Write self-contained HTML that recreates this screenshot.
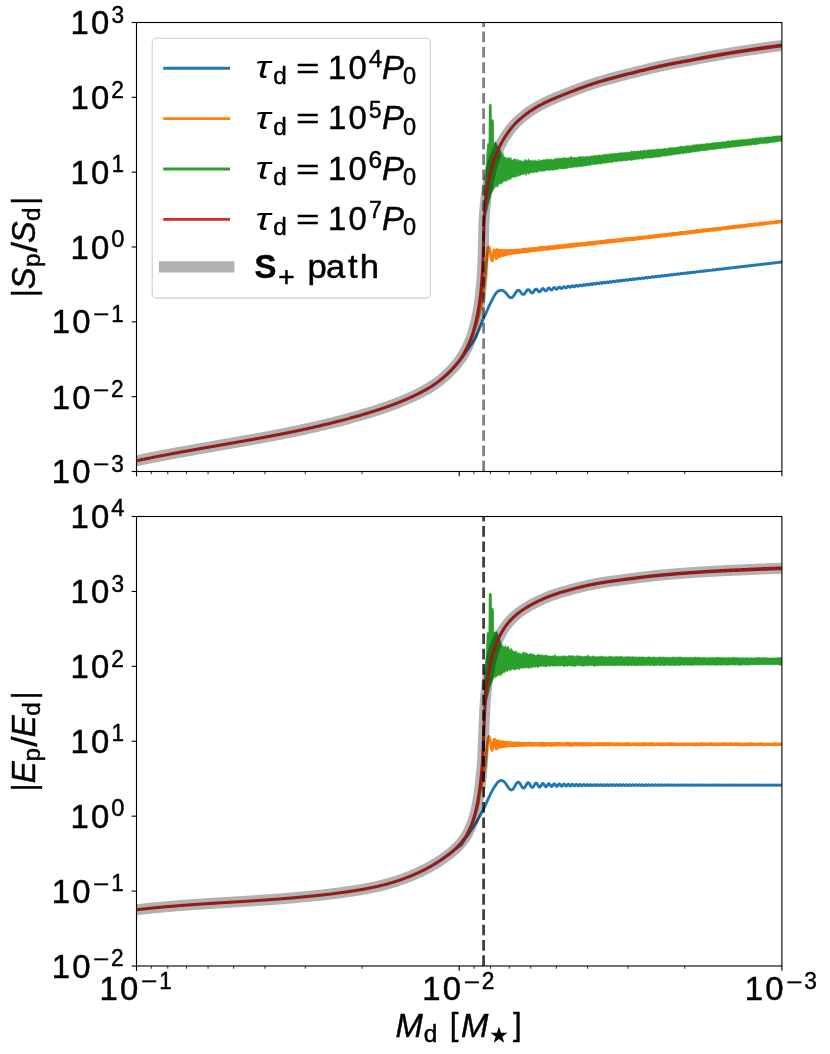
<!DOCTYPE html>
<html lang="en"><head><meta charset="utf-8"><title>Spin and energy ratios vs disk mass</title>
<style>html,body{margin:0;padding:0;background:#fff}svg{display:block;will-change:transform}text{white-space:pre;stroke:#000;stroke-width:.45px;stroke-linejoin:round}</style></head>
<body>
<svg width="830" height="1054" viewBox="0 0 830 1054" font-family="'Liberation Sans', sans-serif" fill="#000">
<defs><clipPath id="c1"><rect x="136.5" y="22.5" width="645.4" height="449.0"/></clipPath><clipPath id="c2"><rect x="136.5" y="516.5" width="645.4" height="449.5"/></clipPath></defs>
<rect width="830" height="1054" fill="#fff"/>
<g clip-path="url(#c1)" fill="none" stroke-linejoin="round">
<path d="M440.00 380.33 L441.10 379.45 L442.19 378.56 L443.27 377.65 L444.33 376.73 L445.38 375.80 L446.42 374.85 L447.45 373.89 L448.47 372.92 L449.47 371.93 L450.47 370.94 L451.45 369.93 L452.41 368.91 L453.36 367.87 L454.30 366.82 L455.22 365.76 L456.14 364.69 L457.06 363.62 L457.96 362.54 L458.86 361.46 L459.75 360.37 L460.62 359.26 L461.48 358.15 L462.33 357.02 L463.16 355.89 L463.98 354.75 L464.79 353.59 L465.59 352.44 L466.40 351.29 L467.22 350.14 L468.04 349.00 L468.85 347.85 L469.66 346.70 L470.45 345.54 L471.26 344.38 L472.06 343.21 L472.84 342.04 L473.58 340.85 L474.29 339.64 L474.95 338.40 L475.58 337.15 L476.19 335.87 L476.78 334.59 L477.36 333.31 L477.93 332.03 L478.49 330.73 L479.03 329.44 L479.56 328.13 L480.09 326.83 L480.62 325.52 L481.14 324.21 L481.67 322.91 L482.21 321.61 L482.76 320.32 L483.32 319.03 L483.88 317.73 L484.44 316.44 L485.01 315.16 L485.58 313.87 L486.15 312.58 L486.73 311.30 L487.31 310.02 L487.89 308.74 L488.48 307.46 L489.08 306.18 L489.68 304.91 L490.28 303.64 L490.88 302.37 L491.50 301.10 L492.13 299.84 L492.78 298.60 L493.45 297.35 L494.12 296.09 L494.83 294.85 L495.60 293.69 L496.49 292.64 L497.54 291.62 L498.71 290.83 L499.98 290.37 L501.40 290.35 L501.70 290.37 L502.00 290.42 L502.30 290.48 L502.60 290.57 L502.90 290.68 L503.20 290.81 L503.50 290.96 L503.80 291.14 L504.10 291.35 L504.40 291.58 L504.70 291.83 L505.00 292.10 L505.30 292.39 L505.60 292.71 L505.90 293.04 L506.20 293.38 L506.50 293.74 L506.80 294.10 L507.10 294.48 L507.40 294.85 L507.70 295.22 L508.00 295.58 L508.30 295.93 L508.60 296.26 L508.90 296.57 L509.20 296.86 L509.50 297.11 L509.80 297.33 L510.10 297.51 L510.40 297.65 L510.70 297.74 L511.00 297.77 L511.30 297.76 L511.60 297.69 L511.90 297.57 L512.20 297.40 L512.50 297.17 L512.80 296.89 L513.10 296.57 L513.40 296.20 L513.70 295.79 L514.00 295.35 L514.30 294.89 L514.60 294.40 L514.90 293.91 L515.20 293.42 L515.50 292.93 L515.80 292.46 L516.10 292.02 L516.40 291.61 L516.70 291.25 L517.00 290.93 L517.30 290.68 L517.60 290.48 L517.90 290.35 L518.20 290.30 L518.50 290.31 L518.80 290.39 L519.10 290.54 L519.40 290.75 L519.70 291.02 L520.00 291.34 L520.30 291.69 L520.60 292.06 L520.90 292.45 L521.20 292.84 L521.50 293.21 L521.80 293.55 L522.10 293.86 L522.40 294.11 L522.70 294.30 L523.00 294.42 L523.30 294.46 L523.60 294.42 L523.90 294.30 L524.20 294.09 L524.50 293.82 L524.80 293.47 L525.10 293.07 L525.40 292.63 L525.70 292.16 L526.00 291.69 L526.30 291.22 L526.60 290.79 L526.90 290.40 L527.20 290.06 L527.50 289.81 L527.80 289.64 L528.10 289.56 L528.40 289.58 L528.70 289.69 L529.00 289.89 L529.30 290.17 L529.60 290.51 L529.90 290.89 L530.20 291.30 L530.50 291.70 L530.80 292.09 L531.10 292.43 L531.40 292.70 L531.70 292.90 L532.00 292.99 L532.30 292.99 L532.60 292.88 L532.90 292.66 L533.20 292.36 L533.50 291.98 L533.80 291.54 L534.10 291.07 L534.40 290.60 L534.70 290.15 L535.00 289.75 L535.30 289.42 L535.60 289.19 L535.90 289.06 L536.20 289.04 L536.50 289.14 L536.80 289.34 L537.10 289.62 L537.40 289.98 L537.70 290.37 L538.00 290.77 L538.30 291.14 L538.60 291.47 L538.90 291.71 L539.20 291.85 L539.50 291.87 L539.80 291.77 L540.10 291.56 L540.40 291.24 L540.70 290.85 L541.00 290.41 L541.30 289.94 L541.60 289.50 L541.90 289.11 L542.20 288.80 L542.50 288.60 L542.80 288.53 L543.10 288.57 L543.40 288.74 L543.70 289.01 L544.00 289.35 L544.30 289.72 L544.60 290.10 L544.90 290.44 L545.20 290.71 L545.50 290.87 L545.80 290.91 L546.10 290.82 L546.40 290.60 L546.70 290.28 L547.00 289.88 L547.30 289.43 L547.60 289.00 L547.90 288.60 L548.20 288.29 L548.50 288.09 L548.80 288.01 L549.10 288.08 L549.40 288.26 L549.70 288.54 L550.00 288.89 L550.30 289.25 L550.60 289.59 L550.90 289.86 L551.20 290.02 L551.50 290.06 L551.80 289.96 L552.10 289.72 L552.40 289.39 L552.70 288.99 L553.00 288.56 L553.30 288.16 L553.60 287.83 L553.90 287.61 L554.20 287.53 L554.50 287.58 L554.80 287.76 L555.10 288.04 L555.40 288.38 L555.70 288.72 L556.00 289.01 L556.30 289.22 L556.60 289.31 L556.90 289.25 L557.20 289.06 L557.50 288.75 L557.80 288.37 L558.10 287.96 L558.40 287.58 L558.70 287.28 L559.00 287.10 L559.30 287.06 L559.60 287.16 L559.90 287.38 L560.20 287.68 L560.50 288.00 L560.80 288.30 L561.10 288.52 L561.40 288.62 L561.70 288.57 L562.00 288.39 L562.30 288.09 L562.60 287.72 L562.90 287.33 L563.20 286.99 L563.50 286.74 L563.80 286.62 L564.10 286.64 L564.40 286.80 L564.70 287.06 L565.00 287.36 L565.30 287.65 L565.60 287.88 L565.90 287.98 L566.20 287.95 L566.50 287.78 L566.80 287.49 L567.10 287.13 L567.40 286.76 L567.70 286.45 L568.00 286.25 L568.30 286.18 L568.60 286.25 L568.90 286.45 L569.20 286.72 L569.50 287.01 L569.80 287.25 L570.10 287.39 L570.40 287.39 L570.70 287.24 L571.00 286.98 L571.30 286.64 L571.60 286.29 L571.90 286.00 L572.20 285.81 L572.50 285.76 L572.80 285.86 L573.10 286.06 L573.40 286.33 L573.70 286.59 L574.00 286.78 L574.30 286.85 L574.60 286.78 L574.90 286.58 L575.20 286.28 L575.50 285.94 L575.80 285.64 L576.10 285.43 L576.40 285.35 L576.70 285.42 L577.00 285.61 L577.30 285.86 L577.60 286.10 L577.90 286.28 L578.20 286.34 L578.50 286.25 L578.80 286.03 L579.10 285.73 L579.40 285.42 L579.70 285.15 L580.00 284.99 L580.30 284.97 L580.60 285.09 L580.90 285.30 L581.20 285.54 L581.50 285.75 L581.80 285.85 L582.10 285.82 L582.40 285.64 L582.70 285.37 L583.00 285.05 L583.30 284.77 L583.60 284.59 L583.90 284.56 L584.20 284.66 L584.50 284.87 L584.80 285.12 L585.10 285.32 L585.40 285.42 L585.70 285.37 L586.00 285.17 L586.30 284.88 L586.60 284.56 L586.90 284.30 L587.20 284.16 L587.50 284.18 L587.80 284.34 L588.10 284.57 L588.40 284.81 L588.70 284.97 L589.00 284.99 L589.30 284.85 L589.60 284.58 L589.90 284.26 L590.20 283.97 L590.50 283.79 L590.80 283.77 L591.10 283.90 L591.40 284.14 L591.70 284.39 L592.00 284.56 L592.30 284.59 L592.60 284.46 L592.90 284.19 L593.20 283.86 L593.50 283.57 L593.80 283.41 L594.10 283.41 L594.40 283.56 L594.70 283.80 L595.00 284.04 L595.30 284.19 L595.60 284.18 L595.90 284.01 L596.20 283.73 L596.50 283.41 L596.80 283.15 L597.10 283.02 L597.40 283.06 L597.70 283.23 L598.00 283.48 L598.30 283.70 L598.60 283.81 L598.90 283.76 L599.20 283.56 L599.50 283.26 L599.80 282.96 L600.10 282.73 L600.40 282.64 L600.70 282.71 L601.00 282.91 L601.30 283.15 L601.60 283.35 L601.90 283.42 L602.20 283.33 L602.50 283.11 L602.80 282.80 L603.10 282.51 L603.40 282.32 L603.70 282.27 L604.00 282.38 L604.30 282.59 L604.60 282.82 L604.90 282.99 L605.20 283.02 L605.50 282.90 L605.80 282.65 L606.10 282.35 L606.40 282.08 L606.70 281.92 L607.00 281.91 L607.30 282.05 L607.60 282.27 L607.90 282.49 L608.20 282.62 L608.50 282.62 L608.80 282.46 L609.10 282.19 L609.40 281.89 L609.70 281.65 L610.00 281.53 L610.30 281.56 L610.60 281.72 L610.90 281.94 L611.20 282.14 L611.50 282.24 L611.80 282.20 L612.10 282.01 L612.40 281.74 L612.70 281.45 L613.00 281.23 L613.30 281.15 L613.60 281.21 L613.90 281.39 L614.20 281.61 L614.50 281.79 L614.80 281.86 L615.10 281.77 L615.40 281.56 L615.70 281.28 L616.00 281.01 L616.30 280.82 L616.60 280.78 L616.90 280.87 L617.20 281.06 L617.50 281.28 L617.80 281.43 L618.10 281.46 L618.40 281.34 L618.70 281.11 L619.00 280.83 L619.30 280.58 L619.60 280.43 L619.90 280.42 L620.20 280.54 L620.50 280.74 L620.80 280.94 L621.10 281.06 L621.40 281.06 L621.70 280.91 L622.00 280.66 L622.30 280.39 L622.60 280.16 L622.90 280.04 L623.20 280.07 L623.50 280.21 L623.80 280.41 L624.10 280.60 L624.40 280.69 L624.70 280.65 L625.00 280.48 L625.30 280.22 L625.60 279.95 L625.90 279.75 L626.20 279.67 L626.50 279.73 L626.80 279.89 L627.10 280.09 L627.40 280.25 L627.70 280.31 L628.00 280.24 L628.30 280.04 L628.60 279.78 L628.90 279.52 L629.20 279.35 L629.50 279.30 L629.80 279.39 L630.10 279.56 L630.40 279.76 L630.70 279.90 L631.00 279.92 L631.30 279.82 L631.60 279.60 L631.90 279.34 L632.20 279.10 L632.50 278.96 L632.80 278.95 L633.10 279.06 L633.40 279.24 L633.70 279.42 L634.00 279.53 L634.30 279.53 L634.60 279.39 L634.90 279.16 L635.20 278.90 L635.50 278.69 L635.80 278.58 L636.10 278.60 L636.40 278.73 L636.70 278.91 L637.00 279.08 L637.30 279.16 L637.60 279.12 L637.90 278.96 L638.20 278.72 L638.50 278.47 L638.80 278.28 L639.10 278.20 L639.40 278.25 L639.70 278.40 L640.00 278.58 L640.30 278.73 L640.60 278.78 L640.90 278.71 L641.20 278.53 L641.50 278.28 L641.80 278.05 L642.10 277.88 L642.40 277.84 L642.70 277.91 L643.00 278.07 L643.30 278.24 L643.60 278.37 L643.90 278.39 L644.20 278.29 L644.50 278.09 L644.80 277.85 L645.10 277.63 L645.40 277.49 L645.70 277.48 L646.00 277.57 L646.30 277.74 L646.60 277.90 L646.90 278.01 L647.20 278.00 L647.50 277.87 L647.80 277.66 L648.10 277.42 L648.40 277.22 L648.70 277.11 L649.00 277.12 L649.30 277.24 L649.60 277.41 L649.90 277.56 L650.20 277.63 L650.50 277.60 L650.80 277.45 L651.10 277.22 L651.40 276.99 L651.70 276.81 L652.00 276.73 L652.30 276.77 L652.60 276.91 L652.90 277.07 L653.20 277.21 L653.50 277.25 L653.80 277.19 L654.10 277.02 L654.40 276.79 L654.70 276.57 L655.00 276.41 L655.30 276.37 L655.60 276.43 L655.90 276.57 L656.20 276.73 L656.50 276.85 L656.80 276.87 L657.10 276.77 L657.40 276.59 L657.70 276.36 L658.00 276.15 L658.30 276.02 L658.60 276.00 L658.90 276.09 L659.20 276.24 L659.50 276.39 L659.80 276.48 L660.10 276.47 L660.40 276.36 L660.70 276.16 L661.00 275.93 L661.30 275.74 L661.60 275.64 L661.90 275.65 L662.20 275.75 L662.50 275.90 L662.80 276.04 L663.10 276.11 L663.40 276.07 L663.70 275.93 L664.00 275.72 L664.30 275.51 L664.60 275.34 L664.90 275.26 L665.20 275.30 L665.50 275.41 L665.80 275.56 L666.10 275.69 L666.40 275.73 L666.70 275.67 L667.00 275.51 L667.30 275.29 L667.60 275.09 L667.90 274.94 L668.20 274.89 L668.50 274.95 L668.80 275.08 L669.10 275.22 L669.40 275.33 L669.70 275.34 L670.00 275.25 L670.30 275.08 L670.60 274.87 L670.90 274.67 L671.20 274.55 L671.50 274.53 L671.80 274.60 L672.10 274.74 L672.40 274.88 L672.70 274.96 L673.00 274.95 L673.30 274.84 L673.60 274.65 L673.90 274.44 L674.20 274.26 L674.50 274.17 L674.80 274.17 L675.10 274.26 L675.40 274.40 L675.70 274.53 L676.00 274.59 L676.30 274.55 L676.60 274.42 L676.90 274.23 L677.20 274.02 L677.50 273.86 L677.80 273.79 L678.10 273.82 L678.40 273.92 L678.70 274.06 L679.00 274.17 L679.30 274.21 L679.60 274.15 L679.90 274.00 L680.20 273.80 L680.50 273.60 L680.80 273.47 L681.10 273.42 L681.40 273.47 L681.70 273.58 L682.00 273.71 L682.30 273.81 L682.60 273.82 L682.90 273.74 L683.20 273.58 L683.50 273.38 L683.80 273.19 L684.10 273.08 L684.40 273.05 L684.70 273.12 L685.00 273.24 L685.30 273.36 L685.60 273.44 L685.90 273.43 L686.20 273.32 L686.50 273.15 L686.80 272.95 L687.10 272.79 L687.40 272.69 L687.70 272.69 L688.00 272.77 L688.30 272.90 L688.60 273.01 L688.90 273.07 L689.20 273.03 L689.50 272.91 L689.80 272.73 L690.10 272.54 L690.40 272.39 L690.70 272.32 L691.00 272.34 L691.30 272.43 L691.60 272.55 L691.90 272.65 L692.20 272.69 L692.50 272.63 L692.80 272.49 L693.10 272.30 L693.40 272.12 L693.70 271.99 L694.00 271.94 L694.30 271.98 L694.60 272.09 L694.90 272.20 L695.20 272.29 L695.50 272.30 L695.80 272.22 L696.10 272.07 L696.40 271.88 L696.70 271.71 L697.00 271.60 L697.30 271.58 L697.60 271.63 L697.90 271.74 L698.20 271.85 L698.50 271.92 L698.80 271.91 L699.10 271.81 L699.40 271.65 L699.70 271.46 L700.00 271.31 L700.30 271.22 L700.60 271.21 L700.90 271.28 L701.20 271.40 L701.50 271.50 L701.80 271.55 L702.10 271.51 L702.40 271.40 L702.70 271.23 L703.00 271.05 L703.30 270.91 L703.60 270.84 L703.90 270.85 L704.20 270.94 L704.50 271.05 L704.80 271.14 L705.10 271.17 L705.40 271.11 L705.70 270.98 L706.00 270.81 L706.30 270.64 L706.60 270.51 L706.90 270.47 L707.20 270.50 L707.50 270.59 L707.80 270.70 L708.10 270.77 L708.40 270.78 L708.70 270.71 L709.00 270.57 L709.30 270.39 L709.60 270.23 L709.90 270.12 L710.20 270.10 L710.50 270.15 L710.80 270.24 L711.10 270.34 L711.40 270.40 L711.70 270.39 L712.00 270.30 L712.30 270.15 L712.60 269.97 L712.90 269.83 L713.20 269.74 L713.50 269.73 L713.80 269.79 L714.10 269.89 L714.40 269.99 L714.70 270.03 L715.00 270.00 L715.30 269.89 L715.60 269.73 L715.90 269.56 L716.20 269.43 L716.50 269.36 L716.80 269.37 L717.10 269.44 L717.40 269.54 L717.70 269.62 L718.00 269.65 L718.30 269.60 L718.60 269.48 L718.90 269.31 L719.20 269.15 L719.50 269.03 L719.80 268.99 L720.10 269.01 L720.40 269.09 L720.70 269.19 L721.00 269.26 L721.30 269.26 L721.60 269.19 L721.90 269.06 L722.20 268.90 L722.50 268.74 L722.80 268.64 L723.10 268.62 L723.40 268.66 L723.70 268.74 L724.00 268.84 L724.30 268.89 L724.60 268.87 L724.90 268.79 L725.20 268.65 L725.50 268.48 L725.80 268.34 L726.10 268.26 L726.40 268.25 L726.70 268.30 L727.00 268.39 L727.30 268.48 L727.60 268.51 L727.90 268.48 L728.20 268.38 L728.50 268.23 L728.80 268.07 L729.10 267.95 L729.40 267.88 L729.70 267.89 L730.00 267.95 L730.30 268.04 L730.60 268.11 L730.90 268.13 L731.20 268.08 L731.50 267.97 L731.80 267.82 L732.10 267.66 L732.40 267.55 L732.70 267.51 L733.00 267.53 L733.30 267.60 L733.60 267.69 L733.90 267.75 L734.20 267.75 L734.50 267.68 L734.80 267.56 L735.10 267.40 L735.40 267.26 L735.70 267.16 L736.00 267.13 L736.30 267.17 L736.60 267.25 L736.90 267.33 L737.20 267.37 L737.50 267.36 L737.80 267.28 L738.10 267.14 L738.40 266.99 L738.70 266.86 L739.00 266.78 L739.30 266.77 L739.60 266.81 L739.90 266.89 L740.20 266.97 L740.50 267.00 L740.80 266.97 L741.10 266.87 L741.40 266.73 L741.70 266.58 L742.00 266.46 L742.30 266.40 L742.60 266.40 L742.90 266.46 L743.20 266.54 L743.50 266.60 L743.80 266.62 L744.10 266.57 L744.40 266.46 L744.70 266.32 L745.00 266.18 L745.30 266.07 L745.60 266.02 L745.90 266.04 L746.20 266.10 L746.50 266.18 L746.80 266.23 L747.10 266.23 L747.40 266.17 L747.70 266.05 L748.00 265.91 L748.30 265.77 L748.60 265.68 L748.90 265.65 L749.20 265.68 L749.50 265.75 L749.80 265.82 L750.10 265.86 L750.40 265.85 L750.70 265.77 L751.00 265.64 L751.30 265.50 L751.60 265.37 L751.90 265.30 L752.20 265.28 L752.50 265.32 L752.80 265.39 L753.10 265.46 L753.40 265.49 L753.70 265.45 L754.00 265.36 L754.30 265.23 L754.60 265.09 L754.90 264.98 L755.20 264.92 L755.50 264.92 L755.80 264.96 L756.10 265.04 L756.40 265.09 L756.70 265.11 L757.00 265.06 L757.30 264.96 L757.60 264.82 L757.90 264.69 L758.20 264.59 L758.50 264.54 L758.80 264.55 L759.10 264.61 L759.40 264.68 L759.70 264.72 L760.00 264.72 L760.30 264.66 L760.60 264.55 L760.90 264.41 L761.20 264.29 L761.50 264.20 L761.80 264.17 L762.10 264.19 L762.40 264.25 L762.70 264.31 L763.00 264.35 L763.30 264.33 L763.60 264.26 L763.90 264.14 L764.20 264.01 L764.50 263.89 L764.80 263.81 L765.10 263.80 L765.40 263.83 L765.70 263.89 L766.00 263.95 L766.30 263.97 L766.60 263.94 L766.90 263.86 L767.20 263.73 L767.50 263.60 L767.80 263.49 L768.10 263.43 L768.40 263.43 L768.70 263.47 L769.00 263.53 L769.30 263.58 L769.60 263.59 L769.90 263.55 L770.20 263.45 L770.50 263.33 L770.80 263.20 L771.10 263.10 L771.40 263.06 L771.70 263.06 L772.00 263.11 L772.30 263.17 L772.60 263.21 L772.90 263.21 L773.20 263.15 L773.50 263.05 L773.80 262.92 L774.10 262.80 L774.40 262.71 L774.70 262.68 L775.00 262.70 L775.30 262.75 L775.60 262.81 L775.90 262.84 L776.20 262.82 L776.50 262.75 L776.80 262.64 L777.10 262.51 L777.40 262.40 L777.70 262.33 L778.00 262.31 L778.30 262.34 L778.60 262.39 L778.90 262.44 L779.20 262.46 L779.50 262.43 L779.80 262.35 L780.10 262.23 L780.40 262.11 L780.70 262.01 L781.00 261.95 L781.30 261.94 L781.60 261.98 L781.90 262.03" stroke="#1f77b4" stroke-width="2.85"/>
<path d="M464.00 353.52 L465.21 351.28 L466.38 349.02 L467.52 346.74 L468.62 344.45 L469.69 342.14 L470.74 339.82 L471.77 337.49 L472.75 335.14 L473.62 332.75 L474.43 330.34 L475.21 327.91 L475.96 325.48 L476.69 323.04 L477.40 320.59 L478.08 318.14 L478.73 315.68 L479.34 313.21 L479.92 310.73 L480.46 308.24 L480.95 305.74 L481.40 303.24 L481.81 300.73 L482.20 298.21 L482.56 295.69 L482.92 293.17 L483.27 290.65 L483.61 288.13 L483.94 285.60 L484.27 283.08 L484.58 280.55 L484.88 278.02 L485.17 275.49 L485.44 272.96 L485.69 270.43 L485.93 267.90 L486.17 265.36 L486.42 262.83 L486.67 260.30 L486.92 257.76 L487.15 255.21 L487.41 252.68 L487.77 250.17 L488.42 247.20 L489.16 247.14 L489.83 250.16 L490.27 252.68 L490.61 255.21 L491.05 257.73 L491.76 260.74 L492.38 260.74 L492.87 257.68 L493.20 255.14 L493.50 252.61 L494.17 249.85 L494.94 250.58 L495.41 253.35 L495.71 255.89 L496.30 258.65 L497.00 257.20" stroke="#ff7f0e" stroke-width="2.85"/>
<path d="M497.00 249.70 L498.00 250.05 L499.00 250.33 L500.00 250.30 L501.00 250.64 L502.00 250.30 L503.00 250.49 L504.00 250.79 L505.00 250.80 L506.00 250.47 L507.00 250.76 L508.00 250.65 L509.00 250.42 L510.00 250.75 L511.00 250.49 L512.00 250.47 L513.00 250.60 L514.00 250.35 L515.00 250.36 L516.00 250.20 L517.00 250.29 L518.00 250.14 L519.00 250.07 L520.00 250.03 L521.00 249.84 L522.00 249.78 L523.00 249.43 L524.00 249.48 L525.00 249.21 L526.00 248.90 L527.00 249.19 L528.00 249.27 L529.00 248.83 L530.00 249.04 L531.00 248.67 L532.00 248.53 L533.00 248.70 L534.00 248.56 L535.00 248.36 L536.00 248.40 L537.00 248.27 L538.00 248.14 L539.00 247.80 L540.00 247.88 L541.00 247.06 L542.00 247.77 L543.00 247.44 L544.00 247.17 L545.00 247.32 L546.00 247.36 L547.00 247.16 L548.00 246.90 L549.00 246.49 L550.00 246.91 L551.00 246.84 L552.00 246.67 L553.00 246.69 L554.00 246.57 L555.00 246.39 L556.00 246.28 L557.00 246.02 L558.00 245.69 L559.00 245.87 L560.00 245.70 L561.00 245.86 L562.00 245.67 L563.00 245.55 L564.00 245.39 L565.00 245.15 L566.00 245.19 L567.00 245.14 L568.00 244.74 L569.00 244.76 L570.00 244.57 L571.00 244.54 L572.00 244.56 L573.00 244.32 L574.00 244.07 L575.00 244.36 L576.00 243.76 L577.00 243.95 L578.00 243.79 L579.00 244.01 L580.00 243.69 L581.00 243.50 L582.00 243.58 L583.00 243.59 L584.00 243.37 L585.00 243.31 L586.00 243.17 L587.00 242.91 L588.00 242.88 L589.00 242.41 L590.00 242.77 L591.00 242.68 L592.00 242.51 L593.00 242.45 L594.00 242.38 L595.00 242.13 L596.00 241.96 L597.00 242.10 L598.00 241.91 L599.00 241.59 L600.00 241.56 L601.00 241.29 L602.00 241.32 L603.00 241.29 L604.00 241.19 L605.00 241.16 L606.00 240.80 L607.00 240.76 L608.00 240.34 L609.00 240.76 L610.00 240.38 L611.00 240.21 L612.00 240.36 L613.00 240.10 L614.00 240.24 L615.00 240.04 L616.00 240.09 L617.00 239.69 L618.00 239.68 L619.00 239.63 L620.00 239.55 L621.00 239.28 L622.00 239.03 L623.00 239.02 L624.00 239.11 L625.00 238.68 L626.00 238.86 L627.00 238.47 L628.00 238.65 L629.00 238.66 L630.00 238.35 L631.00 238.26 L632.00 238.23 L633.00 238.23 L634.00 238.14 L635.00 238.00 L636.00 237.81 L637.00 237.76 L638.00 237.41 L639.00 237.21 L640.00 237.23 L641.00 237.21 L642.00 237.28 L643.00 237.10 L644.00 236.85 L645.00 236.92 L646.00 236.83 L647.00 236.71 L648.00 236.50 L649.00 236.24 L650.00 236.24 L651.00 236.15 L652.00 236.18 L653.00 235.91 L654.00 235.93 L655.00 235.51 L656.00 235.75 L657.00 235.49 L658.00 235.36 L659.00 235.20 L660.00 235.23 L661.00 234.84 L662.00 234.71 L663.00 234.82 L664.00 234.84 L665.00 234.51 L666.00 234.50 L667.00 234.31 L668.00 234.26 L669.00 234.10 L670.00 233.67 L671.00 233.90 L672.00 233.72 L673.00 233.41 L674.00 233.46 L675.00 233.30 L676.00 233.20 L677.00 233.33 L678.00 233.04 L679.00 233.00 L680.00 232.71 L681.00 232.48 L682.00 232.44 L683.00 232.41 L684.00 232.37 L685.00 232.28 L686.00 232.15 L687.00 231.94 L688.00 231.73 L689.00 231.87 L690.00 231.59 L691.00 231.23 L692.00 231.47 L693.00 231.29 L694.00 231.11 L695.00 230.93 L696.00 230.94 L697.00 230.28 L698.00 230.73 L699.00 230.69 L700.00 230.43 L701.00 230.55 L702.00 230.38 L703.00 229.69 L704.00 230.07 L705.00 229.92 L706.00 229.75 L707.00 229.77 L708.00 229.54 L709.00 229.52 L710.00 229.42 L711.00 229.23 L712.00 229.27 L713.00 228.59 L714.00 228.85 L715.00 228.66 L716.00 228.75 L717.00 228.36 L718.00 228.38 L719.00 228.45 L720.00 228.26 L721.00 228.16 L722.00 227.90 L723.00 227.78 L724.00 227.63 L725.00 227.77 L726.00 227.47 L727.00 227.53 L728.00 226.96 L729.00 227.19 L730.00 226.85 L731.00 226.84 L732.00 226.46 L733.00 226.52 L734.00 226.42 L735.00 226.12 L736.00 226.18 L737.00 226.36 L738.00 226.14 L739.00 226.12 L740.00 225.61 L741.00 225.90 L742.00 225.74 L743.00 225.65 L744.00 225.29 L745.00 225.41 L746.00 225.33 L747.00 224.71 L748.00 224.83 L749.00 224.69 L750.00 224.49 L751.00 224.67 L752.00 224.36 L753.00 224.45 L754.00 224.05 L755.00 223.86 L756.00 223.99 L757.00 223.99 L758.00 223.93 L759.00 223.51 L760.00 223.21 L761.00 223.05 L762.00 223.33 L763.00 223.32 L764.00 222.97 L765.00 222.76 L766.00 222.93 L767.00 222.86 L768.00 222.78 L769.00 222.66 L770.00 222.21 L771.00 221.98 L772.00 222.17 L773.00 222.05 L774.00 221.98 L775.00 221.81 L776.00 221.76 L777.00 221.41 L778.00 221.48 L779.00 221.38 L780.00 221.24 L781.00 221.15 L782.00 221.09 L782.00 221.88 L781.00 221.94 L780.00 221.90 L779.00 222.38 L778.00 222.11 L777.00 222.56 L776.00 222.52 L775.00 222.71 L774.00 222.82 L773.00 222.76 L772.00 223.17 L771.00 223.04 L770.00 223.22 L769.00 223.40 L768.00 223.54 L767.00 223.66 L766.00 223.53 L765.00 223.85 L764.00 224.13 L763.00 224.48 L762.00 224.26 L761.00 224.23 L760.00 224.43 L759.00 224.76 L758.00 224.83 L757.00 224.88 L756.00 224.83 L755.00 224.95 L754.00 225.09 L753.00 225.38 L752.00 225.65 L751.00 225.31 L750.00 225.61 L749.00 225.74 L748.00 225.68 L747.00 225.78 L746.00 226.41 L745.00 226.31 L744.00 226.49 L743.00 226.41 L742.00 226.64 L741.00 227.01 L740.00 226.81 L739.00 226.75 L738.00 227.25 L737.00 227.13 L736.00 227.18 L735.00 227.23 L734.00 227.51 L733.00 227.82 L732.00 227.58 L731.00 227.77 L730.00 228.10 L729.00 228.02 L728.00 228.55 L727.00 228.38 L726.00 228.35 L725.00 228.67 L724.00 228.57 L723.00 228.78 L722.00 228.85 L721.00 229.18 L720.00 229.67 L719.00 229.22 L718.00 229.27 L717.00 229.48 L716.00 229.81 L715.00 229.97 L714.00 229.89 L713.00 230.00 L712.00 230.47 L711.00 230.09 L710.00 230.24 L709.00 230.69 L708.00 230.54 L707.00 230.56 L706.00 230.76 L705.00 230.78 L704.00 231.35 L703.00 231.06 L702.00 231.23 L701.00 231.49 L700.00 231.70 L699.00 231.85 L698.00 231.90 L697.00 232.10 L696.00 232.03 L695.00 232.25 L694.00 232.39 L693.00 232.35 L692.00 232.73 L691.00 232.53 L690.00 232.76 L689.00 232.99 L688.00 232.83 L687.00 233.08 L686.00 233.26 L685.00 233.25 L684.00 233.40 L683.00 233.60 L682.00 233.58 L681.00 233.68 L680.00 233.78 L679.00 233.92 L678.00 234.37 L677.00 234.40 L676.00 234.30 L675.00 234.65 L674.00 234.54 L673.00 234.96 L672.00 235.14 L671.00 235.08 L670.00 235.15 L669.00 235.08 L668.00 235.20 L667.00 235.39 L666.00 235.91 L665.00 235.72 L664.00 235.74 L663.00 235.81 L662.00 236.15 L661.00 236.08 L660.00 236.49 L659.00 236.28 L658.00 236.57 L657.00 236.52 L656.00 236.78 L655.00 237.05 L654.00 236.88 L653.00 237.22 L652.00 237.18 L651.00 237.34 L650.00 237.49 L649.00 237.51 L648.00 237.57 L647.00 237.78 L646.00 237.79 L645.00 238.21 L644.00 238.06 L643.00 238.40 L642.00 238.26 L641.00 238.39 L640.00 238.87 L639.00 238.82 L638.00 238.95 L637.00 238.93 L636.00 239.26 L635.00 239.08 L634.00 239.53 L633.00 239.49 L632.00 239.58 L631.00 239.74 L630.00 239.77 L629.00 239.87 L628.00 239.88 L627.00 240.15 L626.00 240.29 L625.00 240.22 L624.00 240.32 L623.00 240.58 L622.00 240.83 L621.00 240.68 L620.00 240.74 L619.00 240.92 L618.00 241.16 L617.00 241.37 L616.00 241.28 L615.00 241.35 L614.00 241.86 L613.00 241.50 L612.00 241.71 L611.00 241.88 L610.00 242.03 L609.00 242.11 L608.00 242.19 L607.00 242.31 L606.00 242.60 L605.00 242.68 L604.00 242.59 L603.00 242.86 L602.00 242.80 L601.00 242.87 L600.00 243.03 L599.00 243.09 L598.00 243.21 L597.00 243.38 L596.00 243.75 L595.00 243.52 L594.00 243.87 L593.00 244.12 L592.00 244.29 L591.00 244.23 L590.00 244.17 L589.00 244.16 L588.00 244.37 L587.00 244.67 L586.00 244.74 L585.00 244.79 L584.00 245.17 L583.00 245.01 L582.00 245.09 L581.00 245.09 L580.00 245.46 L579.00 245.31 L578.00 245.45 L577.00 245.63 L576.00 245.88 L575.00 245.85 L574.00 246.20 L573.00 246.17 L572.00 246.50 L571.00 246.17 L570.00 246.41 L569.00 246.73 L568.00 246.54 L567.00 246.80 L566.00 246.90 L565.00 247.25 L564.00 247.15 L563.00 247.36 L562.00 247.26 L561.00 247.29 L560.00 247.51 L559.00 247.79 L558.00 247.69 L557.00 247.91 L556.00 248.16 L555.00 248.07 L554.00 248.26 L553.00 248.55 L552.00 248.31 L551.00 248.53 L550.00 248.59 L549.00 249.19 L548.00 248.75 L547.00 249.29 L546.00 249.10 L545.00 249.12 L544.00 249.30 L543.00 249.34 L542.00 249.78 L541.00 249.74 L540.00 249.84 L539.00 249.99 L538.00 249.92 L537.00 250.26 L536.00 250.26 L535.00 250.59 L534.00 250.48 L533.00 250.60 L532.00 250.55 L531.00 250.76 L530.00 250.82 L529.00 251.49 L528.00 251.51 L527.00 251.47 L526.00 251.31 L525.00 251.49 L524.00 251.59 L523.00 251.68 L522.00 251.91 L521.00 252.17 L520.00 252.34 L519.00 252.36 L518.00 252.55 L517.00 252.55 L516.00 252.66 L515.00 253.07 L514.00 252.95 L513.00 253.21 L512.00 253.31 L511.00 253.52 L510.00 253.71 L509.00 253.91 L508.00 254.14 L507.00 254.24 L506.00 254.65 L505.00 254.97 L504.00 254.98 L503.00 255.56 L502.00 255.71 L501.00 255.94 L500.00 256.30 L499.00 256.43 L498.00 256.91 L497.00 257.25Z" fill="#ff7f0e" stroke="#ff7f0e" stroke-width="2.85"/>
<path d="M485.20 218.00 L484.60 208.00 L484.30 200.00 L485.70 171.00 L487.40 143.70 L493.90 143.50 L495.40 141.40 L497.00 144.50 L499.00 149.50 L500.50 150.02 L501.30 153.87 L502.10 155.45 L502.90 152.51 L503.70 156.37 L504.50 156.76 L505.30 157.80 L506.10 157.20 L506.90 158.73 L507.70 158.27 L508.50 157.04 L509.30 158.15 L510.10 158.44 L510.90 157.23 L511.70 160.40 L512.50 159.98 L513.30 159.90 L514.10 158.35 L514.90 159.42 L515.70 159.34 L516.50 159.31 L517.30 160.98 L518.10 159.05 L518.90 161.09 L519.70 159.95 L520.50 160.50 L521.30 160.69 L522.10 161.42 L522.90 160.58 L523.70 161.38 L524.50 160.67 L525.30 158.98 L526.10 160.01 L526.90 160.86 L527.70 160.63 L528.50 158.51 L529.30 160.48 L530.10 160.36 L530.90 160.24 L531.70 161.49 L532.50 159.64 L533.30 160.84 L534.10 161.19 L534.90 159.53 L535.70 160.89 L536.50 160.89 L537.30 160.56 L538.10 161.49 L538.90 158.97 L539.70 161.13 L540.50 160.26 L541.30 160.37 L542.10 160.02 L542.90 159.94 L543.70 159.47 L544.50 159.78 L545.30 159.97 L546.10 158.86 L546.90 160.03 L547.70 158.66 L548.50 159.43 L549.30 159.07 L550.10 160.06 L550.90 158.48 L551.70 159.41 L552.50 159.78 L553.30 159.66 L554.10 158.73 L554.90 159.18 L555.70 157.75 L556.50 158.45 L557.30 158.46 L558.10 159.00 L558.90 157.54 L559.70 158.54 L560.50 158.31 L561.30 158.26 L562.10 158.51 L562.90 157.52 L563.70 157.47 L564.50 157.43 L565.30 158.25 L566.10 157.90 L566.90 157.67 L567.70 158.14 L568.50 157.32 L569.30 158.12 L570.10 157.43 L570.90 155.90 L571.70 157.27 L572.50 157.49 L573.30 157.49 L574.10 157.13 L574.90 157.49 L575.70 157.30 L576.50 157.57 L577.30 157.13 L578.10 156.96 L578.90 157.27 L579.70 155.99 L580.50 156.78 L581.30 156.46 L582.10 157.18 L582.90 156.81 L583.70 156.32 L584.50 156.94 L585.30 156.63 L586.10 156.43 L586.90 156.41 L587.70 156.54 L588.50 156.33 L589.30 156.45 L590.10 156.23 L590.90 155.96 L591.70 155.89 L592.50 155.93 L593.30 155.63 L594.10 155.75 L594.90 155.47 L595.70 155.09 L596.50 155.39 L597.30 155.44 L598.10 155.17 L598.90 154.54 L599.70 155.29 L600.50 155.16 L601.30 155.18 L602.10 154.99 L602.90 154.70 L603.70 154.56 L604.50 154.77 L605.30 153.77 L606.10 154.25 L606.90 154.32 L607.70 154.21 L608.50 154.17 L609.30 154.09 L610.10 153.80 L610.90 153.88 L611.70 153.22 L612.50 153.52 L613.30 153.84 L614.10 153.73 L614.90 153.09 L615.70 153.27 L616.50 153.17 L617.30 153.24 L618.10 153.28 L618.90 152.87 L619.70 152.95 L620.50 152.68 L621.30 152.50 L622.10 152.35 L622.90 152.81 L623.70 152.75 L624.50 152.47 L625.30 152.25 L626.10 152.48 L626.90 152.35 L627.70 151.88 L628.50 151.89 L629.30 152.13 L630.10 151.97 L630.90 151.42 L631.70 150.73 L632.50 151.82 L633.30 151.11 L634.10 151.07 L634.90 151.14 L635.70 151.38 L636.50 151.08 L637.30 151.10 L638.10 151.13 L638.90 151.00 L639.70 151.11 L640.50 150.39 L641.30 150.49 L642.10 150.88 L642.90 150.43 L643.70 150.53 L644.50 149.99 L645.30 150.36 L646.10 150.36 L646.90 150.45 L647.70 149.58 L648.50 149.96 L649.30 149.86 L650.10 150.10 L650.90 149.87 L651.70 149.83 L652.50 149.74 L653.30 149.27 L654.10 149.78 L654.90 149.65 L655.70 149.49 L656.50 149.28 L657.30 148.71 L658.10 148.95 L658.90 149.32 L659.70 149.06 L660.50 149.06 L661.30 149.05 L662.10 149.01 L662.90 148.74 L663.70 148.54 L664.50 148.22 L665.30 148.22 L666.10 148.54 L666.90 148.34 L667.70 148.25 L668.50 148.09 L669.30 147.48 L670.10 147.95 L670.90 147.26 L671.70 147.81 L672.50 147.76 L673.30 147.34 L674.10 147.66 L674.90 147.43 L675.70 147.39 L676.50 147.21 L677.30 147.23 L678.10 146.95 L678.90 146.48 L679.70 146.95 L680.50 146.26 L681.30 145.80 L682.10 146.72 L682.90 146.42 L683.70 146.43 L684.50 146.03 L685.30 146.11 L686.10 146.16 L686.90 146.01 L687.70 145.01 L688.50 145.89 L689.30 145.78 L690.10 145.64 L690.90 145.66 L691.70 145.14 L692.50 145.46 L693.30 144.52 L694.10 144.95 L694.90 145.02 L695.70 144.75 L696.50 144.37 L697.30 144.76 L698.10 144.12 L698.90 144.40 L699.70 144.64 L700.50 143.98 L701.30 143.65 L702.10 144.22 L702.90 144.24 L703.70 143.91 L704.50 144.10 L705.30 143.83 L706.10 143.73 L706.90 142.88 L707.70 143.56 L708.50 143.68 L709.30 143.12 L710.10 143.43 L710.90 143.10 L711.70 143.20 L712.50 142.64 L713.30 142.63 L714.10 142.78 L714.90 142.92 L715.70 142.45 L716.50 142.39 L717.30 142.37 L718.10 142.01 L718.90 142.32 L719.70 142.17 L720.50 142.30 L721.30 141.91 L722.10 141.47 L722.90 142.03 L723.70 141.74 L724.50 141.78 L725.30 141.77 L726.10 141.48 L726.90 141.31 L727.70 140.86 L728.50 140.60 L729.30 141.27 L730.10 141.25 L730.90 141.06 L731.70 140.62 L732.50 140.31 L733.30 140.47 L734.10 140.60 L734.90 140.35 L735.70 140.24 L736.50 139.97 L737.30 140.34 L738.10 139.97 L738.90 139.76 L739.70 139.89 L740.50 139.76 L741.30 139.67 L742.10 139.74 L742.90 139.37 L743.70 139.48 L744.50 139.17 L745.30 139.60 L746.10 139.40 L746.90 139.21 L747.70 138.78 L748.50 139.19 L749.30 139.03 L750.10 138.81 L750.90 139.01 L751.70 138.89 L752.50 138.05 L753.30 138.67 L754.10 138.05 L754.90 138.60 L755.70 138.00 L756.50 137.73 L757.30 138.25 L758.10 137.97 L758.90 137.87 L759.70 137.64 L760.50 137.22 L761.30 137.83 L762.10 137.55 L762.90 137.76 L763.70 137.43 L764.50 137.29 L765.30 137.01 L766.10 137.36 L766.90 136.68 L767.70 137.10 L768.50 136.50 L769.30 137.06 L770.10 136.89 L770.90 136.83 L771.70 136.58 L772.50 136.79 L773.30 135.95 L774.10 136.36 L774.90 136.02 L775.70 136.04 L776.50 135.88 L777.30 136.23 L778.10 135.21 L778.90 136.08 L779.70 136.08 L780.50 135.67 L781.30 135.83 L782.10 135.84 L782.80 141.35 L782.00 141.32 L781.20 141.59 L780.40 141.33 L779.60 141.47 L778.80 141.55 L778.00 141.65 L777.20 141.99 L776.40 141.82 L775.60 142.21 L774.80 141.99 L774.00 142.57 L773.20 142.44 L772.40 142.43 L771.60 142.55 L770.80 142.69 L770.00 142.73 L769.20 142.80 L768.40 143.27 L767.60 143.24 L766.80 143.52 L766.00 143.10 L765.20 143.40 L764.40 143.31 L763.60 143.98 L762.80 143.34 L762.00 143.43 L761.20 143.79 L760.40 143.62 L759.60 143.76 L758.80 143.85 L758.00 144.26 L757.20 144.77 L756.40 144.31 L755.60 144.76 L754.80 144.96 L754.00 144.90 L753.20 144.49 L752.40 144.82 L751.60 144.67 L750.80 146.03 L750.00 145.11 L749.20 145.11 L748.40 145.15 L747.60 145.25 L746.80 145.83 L746.00 145.67 L745.20 145.41 L744.40 145.64 L743.60 145.84 L742.80 146.07 L742.00 145.97 L741.20 146.14 L740.40 146.40 L739.60 146.37 L738.80 146.55 L738.00 146.59 L737.20 146.63 L736.40 146.64 L735.60 147.35 L734.80 146.78 L734.00 147.08 L733.20 147.17 L732.40 147.00 L731.60 147.58 L730.80 147.38 L730.00 147.22 L729.20 147.90 L728.40 147.63 L727.60 147.56 L726.80 147.92 L726.00 148.20 L725.20 148.39 L724.40 148.09 L723.60 148.21 L722.80 148.42 L722.00 148.24 L721.20 148.41 L720.40 148.99 L719.60 148.72 L718.80 148.68 L718.00 148.93 L717.20 148.90 L716.40 149.01 L715.60 149.42 L714.80 149.43 L714.00 149.22 L713.20 149.42 L712.40 149.70 L711.60 149.67 L710.80 149.57 L710.00 149.82 L709.20 149.84 L708.40 149.95 L707.60 150.54 L706.80 150.54 L706.00 150.49 L705.20 150.41 L704.40 150.82 L703.60 150.78 L702.80 150.78 L702.00 150.68 L701.20 150.85 L700.40 151.11 L699.60 151.33 L698.80 151.14 L698.00 151.31 L697.20 151.65 L696.40 151.55 L695.60 152.12 L694.80 151.82 L694.00 151.75 L693.20 151.91 L692.40 152.52 L691.60 152.32 L690.80 152.31 L690.00 152.76 L689.20 152.93 L688.40 152.90 L687.60 152.84 L686.80 153.16 L686.00 153.15 L685.20 153.07 L684.40 153.10 L683.60 154.32 L682.80 153.78 L682.00 153.37 L681.20 153.61 L680.40 154.00 L679.60 153.89 L678.80 154.17 L678.00 154.30 L677.20 154.16 L676.40 154.17 L675.60 154.67 L674.80 154.53 L674.00 154.59 L673.20 155.02 L672.40 154.97 L671.60 155.09 L670.80 155.45 L670.00 155.44 L669.20 155.24 L668.40 155.60 L667.60 155.79 L666.80 156.05 L666.00 155.84 L665.20 156.15 L664.40 156.13 L663.60 156.08 L662.80 156.11 L662.00 156.45 L661.20 156.33 L660.40 157.20 L659.60 157.17 L658.80 156.92 L658.00 157.27 L657.20 157.11 L656.40 157.03 L655.60 157.04 L654.80 157.32 L654.00 157.87 L653.20 157.66 L652.40 157.74 L651.60 158.04 L650.80 157.94 L650.00 157.70 L649.20 158.24 L648.40 157.92 L647.60 158.10 L646.80 158.19 L646.00 158.20 L645.20 158.22 L644.40 158.48 L643.60 158.65 L642.80 159.26 L642.00 159.17 L641.20 158.80 L640.40 158.78 L639.60 159.13 L638.80 159.07 L638.00 159.37 L637.20 159.36 L636.40 159.41 L635.60 159.66 L634.80 159.52 L634.00 160.31 L633.20 159.59 L632.40 160.13 L631.60 160.41 L630.80 160.21 L630.00 160.23 L629.20 160.00 L628.40 160.19 L627.60 160.45 L626.80 161.02 L626.00 160.76 L625.20 160.61 L624.40 160.98 L623.60 160.67 L622.80 161.08 L622.00 161.11 L621.20 161.28 L620.40 161.05 L619.60 161.33 L618.80 161.25 L618.00 161.54 L617.20 161.64 L616.40 161.76 L615.60 161.66 L614.80 161.74 L614.00 161.78 L613.20 162.09 L612.40 162.60 L611.60 162.76 L610.80 162.40 L610.00 162.41 L609.20 162.35 L608.40 162.91 L607.60 162.88 L606.80 162.68 L606.00 163.39 L605.20 163.20 L604.40 163.36 L603.60 163.02 L602.80 163.71 L602.00 163.72 L601.20 163.72 L600.40 164.20 L599.60 163.68 L598.80 163.98 L598.00 164.01 L597.20 164.27 L596.40 164.41 L595.60 164.15 L594.80 164.85 L594.00 164.43 L593.20 164.70 L592.40 164.86 L591.60 164.86 L590.80 165.24 L590.00 165.36 L589.20 165.42 L588.40 165.55 L587.60 165.28 L586.80 165.67 L586.00 165.92 L585.20 166.32 L584.40 166.00 L583.60 166.34 L582.80 165.92 L582.00 166.45 L581.20 167.01 L580.40 166.48 L579.60 167.03 L578.80 166.68 L578.00 166.83 L577.20 166.81 L576.40 167.34 L575.60 167.01 L574.80 167.03 L574.00 167.48 L573.20 167.24 L572.40 167.32 L571.60 167.90 L570.80 167.43 L570.00 167.74 L569.20 167.75 L568.40 168.06 L567.60 168.47 L566.80 168.20 L566.00 168.94 L565.20 168.21 L564.40 169.12 L563.60 168.91 L562.80 168.89 L562.00 168.60 L561.20 169.38 L560.40 168.69 L559.60 168.71 L558.80 168.80 L558.00 169.53 L557.20 169.64 L556.40 169.63 L555.60 169.42 L554.80 170.21 L554.00 169.88 L553.20 169.88 L552.40 170.40 L551.60 170.02 L550.80 169.83 L550.00 170.92 L549.20 169.88 L548.40 170.73 L547.60 170.09 L546.80 170.40 L546.00 170.50 L545.20 170.65 L544.40 171.23 L543.60 171.04 L542.80 171.37 L542.00 171.32 L541.20 171.31 L540.40 171.23 L539.60 171.57 L538.80 171.59 L538.00 171.51 L537.20 172.75 L536.40 172.15 L535.60 171.87 L534.80 172.47 L534.00 172.89 L533.20 172.68 L532.40 172.32 L531.60 173.12 L530.80 172.60 L530.00 173.20 L529.20 174.42 L528.40 173.86 L527.60 173.23 L526.80 173.67 L526.00 175.63 L525.20 173.88 L524.40 173.86 L523.60 174.39 L522.80 174.68 L522.00 174.64 L521.20 174.81 L520.40 175.65 L519.60 175.96 L518.80 175.12 L518.00 176.91 L517.20 175.67 L516.40 176.56 L515.60 177.10 L514.80 177.19 L514.00 177.52 L513.20 176.92 L512.40 177.47 L511.60 177.94 L510.80 179.22 L510.00 179.74 L509.20 178.71 L508.40 180.22 L507.60 179.80 L506.80 181.34 L506.00 180.85 L505.20 181.17 L504.40 181.30 L503.60 181.74 L502.80 182.16 L502.00 183.31 L501.20 184.50 L500.40 183.28 L499.60 184.09 L498.80 184.80 L498.00 186.12 L497.20 187.59 L496.40 186.06 L495.60 186.46 L494.80 188.02 L493.00 190.50 L491.00 194.00 L488.20 205.00 L485.20 218.00Z" fill="#2ca02c" stroke="#2ca02c" stroke-width="0.50"/>
<path d="M487.40 146.00 L488.60 144.00 L488.90 106.00 L489.50 103.90 L491.00 103.90 L491.60 106.00 L491.80 119.20 L493.40 119.60 L493.90 123.00 L493.90 146.00Z" fill="#2ca02c" stroke="none"/>
<path d="M136.71 462.21 L137.67 462.07 L138.68 461.86 L139.63 461.66 L140.59 461.46 L141.54 461.26 L142.49 461.06 L143.45 460.86 L144.40 460.67 L145.36 460.47 L146.31 460.28 L147.27 460.08 L148.22 459.89 L149.17 459.70 L150.13 459.51 L151.08 459.32 L152.04 459.12 L152.99 458.93 L153.95 458.75 L154.90 458.56 L155.86 458.37 L156.81 458.18 L157.77 458.00 L158.72 457.81 L159.68 457.62 L160.63 457.44 L161.59 457.26 L162.54 457.07 L163.49 456.89 L164.45 456.71 L165.40 456.53 L166.36 456.34 L167.31 456.16 L168.27 455.98 L169.22 455.80 L170.18 455.62 L171.13 455.45 L172.09 455.27 L173.04 455.09 L174.00 454.91 L174.95 454.74 L175.91 454.56 L176.86 454.38 L177.82 454.21 L178.77 454.03 L179.73 453.86 L180.68 453.68 L181.64 453.51 L182.59 453.34 L183.55 453.16 L184.50 452.99 L185.46 452.82 L186.41 452.65 L187.37 452.48 L188.32 452.30 L189.28 452.13 L190.23 451.96 L191.19 451.79 L192.14 451.62 L193.10 451.45 L194.05 451.28 L195.00 451.11 L195.96 450.94 L196.91 450.78 L197.87 450.61 L198.82 450.44 L199.78 450.27 L200.73 450.10 L201.69 449.93 L202.64 449.77 L203.60 449.60 L204.55 449.43 L205.51 449.26 L206.46 449.10 L207.42 448.93 L208.37 448.76 L209.32 448.60 L210.28 448.43 L211.23 448.26 L212.19 448.10 L213.14 447.93 L214.10 447.76 L215.05 447.60 L216.01 447.43 L216.96 447.27 L217.91 447.10 L218.87 446.93 L219.82 446.77 L220.78 446.60 L221.73 446.44 L222.68 446.27 L223.64 446.10 L224.59 445.94 L225.55 445.77 L226.50 445.60 L227.45 445.44 L228.41 445.27 L229.36 445.10 L230.32 444.94 L231.27 444.77 L232.22 444.60 L233.18 444.44 L234.13 444.27 L235.08 444.10 L236.04 443.94 L236.99 443.77 L237.94 443.60 L238.90 443.43 L239.85 443.26 L240.80 443.09 L241.76 442.93 L242.71 442.76 L243.66 442.59 L244.62 442.42 L245.57 442.25 L246.52 442.08 L247.47 441.91 L248.43 441.74 L249.38 441.57 L250.33 441.40 L251.28 441.22 L252.24 441.05 L253.19 440.88 L254.14 440.71 L255.09 440.54 L256.05 440.36 L257.00 440.19 L257.95 440.01 L258.90 439.84 L259.86 439.67 L260.81 439.49 L261.76 439.31 L262.71 439.14 L263.66 438.96 L264.61 438.79 L265.57 438.61 L266.52 438.43 L267.47 438.25 L268.42 438.07 L269.37 437.89 L270.32 437.71 L271.27 437.53 L272.22 437.35 L273.18 437.17 L274.13 436.99 L275.08 436.81 L276.03 436.62 L276.98 436.44 L277.93 436.25 L278.88 436.07 L279.83 435.88 L280.78 435.70 L281.73 435.51 L282.68 435.32 L283.63 435.14 L284.58 434.95 L285.53 434.76 L286.48 434.57 L287.43 434.38 L288.38 434.19 L289.33 433.99 L290.28 433.80 L291.23 433.61 L292.18 433.41 L293.12 433.22 L294.07 433.02 L295.02 432.82 L295.97 432.63 L296.92 432.43 L297.87 432.23 L298.82 432.03 L299.77 431.83 L300.71 431.63 L301.66 431.43 L302.61 431.22 L303.56 431.02 L304.51 430.81 L305.45 430.61 L306.40 430.40 L307.35 430.19 L308.30 429.99 L309.24 429.78 L310.19 429.57 L311.14 429.36 L312.08 429.14 L313.03 428.93 L313.98 428.72 L314.92 428.50 L315.87 428.29 L316.82 428.07 L317.76 427.85 L318.71 427.63 L319.65 427.41 L320.60 427.19 L321.55 426.97 L322.49 426.75 L323.44 426.52 L324.38 426.30 L325.33 426.07 L326.27 425.84 L327.22 425.61 L328.16 425.38 L329.11 425.15 L330.05 424.92 L330.99 424.69 L331.94 424.46 L332.88 424.22 L333.83 423.99 L334.77 423.75 L335.71 423.52 L336.66 423.28 L337.60 423.04 L338.54 422.80 L339.49 422.56 L340.43 422.31 L341.37 422.07 L342.32 421.82 L343.26 421.58 L344.20 421.33 L345.14 421.08 L346.09 420.83 L347.03 420.57 L347.97 420.32 L348.91 420.07 L349.85 419.81 L350.79 419.55 L351.74 419.29 L352.68 419.03 L353.62 418.77 L354.56 418.51 L355.50 418.24 L356.44 417.98 L357.38 417.71 L358.32 417.44 L359.26 417.17 L360.20 416.90 L361.14 416.63 L362.08 416.35 L363.02 416.08 L363.96 415.80 L364.90 415.52 L365.84 415.24 L366.78 414.96 L367.71 414.68 L368.65 414.39 L369.59 414.11 L370.53 413.82 L371.47 413.53 L372.40 413.24 L373.34 412.94 L374.28 412.65 L375.22 412.35 L376.15 412.05 L377.09 411.75 L378.02 411.45 L378.96 411.15 L379.89 410.84 L380.83 410.53 L381.76 410.22 L382.69 409.91 L383.62 409.59 L384.55 409.28 L385.48 408.96 L386.41 408.63 L387.34 408.31 L388.26 407.98 L389.19 407.65 L390.11 407.32 L391.03 406.99 L391.95 406.65 L392.87 406.31 L393.79 405.97 L394.71 405.63 L395.63 405.28 L396.54 404.93 L397.45 404.58 L398.36 404.22 L399.27 403.87 L400.18 403.51 L401.09 403.14 L401.99 402.78 L402.89 402.41 L403.80 402.03 L404.69 401.66 L405.59 401.28 L406.49 400.90 L407.38 400.51 L408.27 400.12 L409.16 399.73 L410.04 399.34 L410.93 398.94 L411.81 398.53 L412.69 398.13 L413.56 397.72 L414.44 397.31 L415.31 396.89 L416.18 396.47 L417.04 396.05 L417.91 395.62 L418.77 395.19 L419.63 394.76 L420.48 394.32 L421.33 393.89 L422.18 393.45 L423.02 393.00 L423.87 392.55 L424.71 392.10 L425.55 391.64 L426.39 391.17 L427.22 390.70 L428.05 390.22 L428.88 389.73 L429.70 389.24 L430.52 388.74 L431.34 388.24 L432.15 387.73 L432.96 387.21 L433.77 386.68 L434.57 386.15 L435.37 385.60 L436.17 385.06 L436.96 384.50 L437.75 383.93 L438.53 383.36 L439.31 382.78 L440.09 382.19 L440.86 381.59 L441.63 380.98 L442.39 380.37 L443.15 379.75 L443.90 379.12 L444.65 378.48 L445.39 377.83 L446.13 377.18 L446.86 376.51 L447.59 375.84 L448.31 375.17 L449.02 374.48 L449.73 373.79 L450.43 373.09 L451.12 372.40 L451.79 371.73 L452.48 371.04 L453.15 370.34 L453.82 369.64 L454.48 368.93 L455.13 368.21 L455.78 367.48 L456.42 366.75 L457.05 366.01 L457.67 365.27 L458.28 364.52 L458.88 363.76 L459.48 363.00 L460.07 362.23 L460.64 361.45 L461.21 360.67 L461.77 359.88 L462.32 359.08 L462.86 358.28 L463.40 357.46 L463.92 356.63 L464.43 355.79 L464.93 354.95 L465.42 354.11 L465.90 353.26 L466.37 352.40 L466.83 351.54 L467.28 350.68 L467.73 349.82 L468.16 348.95 L468.59 348.07 L469.01 347.19 L469.42 346.31 L469.82 345.43 L470.21 344.54 L470.59 343.64 L470.97 342.75 L471.34 341.85 L471.70 340.95 L472.05 340.04 L472.40 339.14 L472.74 338.23 L473.07 337.31 L473.40 336.39 L473.72 335.42 L474.03 334.45 L474.33 333.48 L474.62 332.51 L474.91 331.54 L475.20 330.57 L475.47 329.60 L475.75 328.62 L476.01 327.65 L476.27 326.68 L476.52 325.70 L476.77 324.72 L477.01 323.75 L477.25 322.77 L477.48 321.79 L477.71 320.82 L477.93 319.84 L478.15 318.86 L478.36 317.88 L478.56 316.90 L478.76 315.92 L478.96 314.94 L479.15 313.96 L479.34 312.98 L479.52 312.00 L479.70 310.99 L479.88 309.98 L480.05 308.97 L480.21 307.97 L480.37 306.96 L480.53 305.96 L480.68 304.96 L480.83 303.95 L480.98 302.95 L481.12 301.94 L481.25 300.94 L481.39 299.94 L481.52 298.94 L481.64 297.94 L481.77 296.93 L481.89 295.93 L482.00 294.93 L482.11 293.93 L482.22 292.93 L482.33 291.93 L482.43 290.93 L482.53 289.93 L482.63 288.94 L482.73 287.94 L482.82 286.94 L482.91 285.94 L482.99 284.95 L483.08 283.95 L483.16 282.95 L483.24 281.96 L483.31 280.96 L483.39 279.97 L483.46 278.97 L483.53 277.98 L483.59 276.98 L483.66 275.99 L483.72 275.00 L483.78 274.00 L483.84 273.01 L483.90 272.02 L483.96 271.03 L484.01 270.04 L484.06 269.05 L484.12 268.06 L484.17 267.07 L484.21 266.08 L484.26 265.09 L484.31 264.10 L484.35 263.11 L484.40 262.12 L484.44 261.13 L484.48 260.15 L484.52 259.16 L484.56 258.18 L484.60 257.21 L484.64 256.23 L484.68 255.26 L484.72 254.28 L484.75 253.31 L484.79 252.33 L484.83 251.36 L484.86 250.38 L484.89 249.39 L484.90 248.41 L484.92 247.44 L484.94 246.47 L484.95 245.49 L484.97 244.52 L484.99 243.55 L485.00 242.58 L485.02 241.61 L485.04 240.64 L485.06 239.67 L485.08 238.70 L485.10 237.73 L485.12 236.76 L485.14 235.79 L485.16 234.83 L485.18 233.86 L485.21 232.89 L485.23 231.92 L485.26 230.96 L485.29 229.99 L485.31 229.03 L485.34 228.06 L485.38 227.10 L485.41 226.13 L485.44 225.17 L485.48 224.20 L485.52 223.24 L485.56 222.28 L485.60 221.32 L485.64 220.36 L485.69 219.41 L485.75 218.45 L485.81 217.49 L485.87 216.53 L485.93 215.57 L486.00 214.61 L486.07 213.65 L486.14 212.69 L486.21 211.74 L486.29 210.78 L486.36 209.82 L486.45 208.87 L486.53 207.91 L486.62 206.96 L486.71 206.00 L486.80 205.05 L486.89 204.10 L486.99 203.14 L487.09 202.19 L487.20 201.24 L487.31 200.28 L487.41 199.32 L487.51 198.37 L487.62 197.42 L487.72 196.47 L487.84 195.52 L487.95 194.57 L488.07 193.62 L488.19 192.68 L488.32 191.73 L488.45 190.79 L488.59 189.84 L488.73 188.90 L488.87 187.95 L489.02 187.01 L489.17 186.07 L489.33 185.13 L489.49 184.18 L489.66 183.24 L489.83 182.30 L490.00 181.36 L490.18 180.43 L490.37 179.50 L490.57 178.56 L490.77 177.62 L490.98 176.69 L491.19 175.75 L491.41 174.81 L491.63 173.88 L491.86 172.95 L492.09 172.01 L492.33 171.08 L492.57 170.15 L492.82 169.22 L493.08 168.29 L493.34 167.36 L493.61 166.43 L493.88 165.50 L494.16 164.58 L494.44 163.65 L494.73 162.73 L495.03 161.81 L495.32 160.90 L495.64 160.00 L495.97 159.09 L496.31 158.18 L496.66 157.27 L497.01 156.36 L497.36 155.46 L497.73 154.55 L498.10 153.65 L498.47 152.76 L498.86 151.86 L499.25 150.97 L499.64 150.09 L500.03 149.24 L500.44 148.39 L500.85 147.54 L501.27 146.70 L501.70 145.86 L502.13 145.02 L502.57 144.19 L503.01 143.37 L503.46 142.55 L503.92 141.73 L504.39 140.92 L504.86 140.12 L505.34 139.32 L505.82 138.52 L506.31 137.74 L506.81 136.95 L507.31 136.18 L507.82 135.41 L508.34 134.64 L508.87 133.88 L509.40 133.13 L509.94 132.39 L510.48 131.65 L511.03 130.92 L511.60 130.19 L512.17 129.47 L512.75 128.76 L513.33 128.06 L513.92 127.36 L514.52 126.67 L515.12 126.00 L515.74 125.34 L516.36 124.68 L516.98 124.03 L517.62 123.39 L518.26 122.75 L518.91 122.13 L519.57 121.51 L520.23 120.90 L520.90 120.30 L521.58 119.71 L522.27 119.13 L522.96 118.55 L523.67 117.99 L524.40 117.42 L525.14 116.82 L525.88 116.22 L526.61 115.64 L527.36 115.06 L528.11 114.49 L528.86 113.93 L529.62 113.38 L530.40 112.84 L531.20 112.31 L532.00 111.78 L532.81 111.25 L533.62 110.74 L534.44 110.23 L535.27 109.72 L536.10 109.23 L536.93 108.73 L537.78 108.25 L538.62 107.77 L539.47 107.30 L540.33 106.83 L541.19 106.37 L542.06 105.91 L542.93 105.46 L543.80 105.02 L544.68 104.58 L545.56 104.14 L546.44 103.71 L547.33 103.28 L548.22 102.86 L549.12 102.44 L550.02 102.03 L550.91 101.62 L551.82 101.22 L552.75 100.82 L553.68 100.42 L554.61 100.02 L555.55 99.63 L556.49 99.24 L557.42 98.86 L558.36 98.47 L559.30 98.09 L560.25 97.71 L561.19 97.33 L562.14 96.95 L563.08 96.57 L564.02 96.20 L564.97 95.83 L565.91 95.46 L566.86 95.09 L567.80 94.72 L568.74 94.35 L569.68 93.99 L570.63 93.62 L571.56 93.26 L572.47 92.90 L573.38 92.55 L574.29 92.19 L575.19 91.84 L576.10 91.49 L577.00 91.15 L577.91 90.80 L578.82 90.46 L579.72 90.12 L580.63 89.78 L581.54 89.45 L582.44 89.12 L583.35 88.79 L584.26 88.46 L585.17 88.13 L586.07 87.81 L586.98 87.49 L587.89 87.18 L588.80 86.86 L589.71 86.55 L590.62 86.24 L591.53 85.94 L592.44 85.64 L593.35 85.34 L594.26 85.04 L595.17 84.75 L596.09 84.46 L597.00 84.17 L597.92 83.88 L598.83 83.60 L599.74 83.32 L600.65 83.05 L601.55 82.79 L602.47 82.53 L603.39 82.28 L604.31 82.02 L605.23 81.77 L606.15 81.52 L607.08 81.26 L608.00 81.01 L608.92 80.76 L609.85 80.51 L610.77 80.26 L611.70 80.01 L612.63 79.76 L613.55 79.51 L614.48 79.26 L615.41 79.01 L616.34 78.76 L617.26 78.52 L618.19 78.27 L619.12 78.02 L620.05 77.78 L620.98 77.53 L621.91 77.29 L622.84 77.04 L623.77 76.80 L624.71 76.56 L625.64 76.31 L626.57 76.07 L627.50 75.84 L628.44 75.60 L629.37 75.36 L630.30 75.12 L631.24 74.89 L632.17 74.66 L633.11 74.42 L634.04 74.19 L634.98 73.96 L635.92 73.74 L636.85 73.51 L637.79 73.28 L638.73 73.06 L639.67 72.83 L640.62 72.61 L641.57 72.37 L642.51 72.13 L643.45 71.90 L644.39 71.66 L645.33 71.43 L646.27 71.20 L647.21 70.97 L648.15 70.74 L649.09 70.52 L650.03 70.29 L650.98 70.07 L651.92 69.85 L652.86 69.63 L653.80 69.41 L654.75 69.19 L655.69 68.97 L656.64 68.76 L657.58 68.54 L658.53 68.33 L659.47 68.12 L660.42 67.91 L661.36 67.70 L662.31 67.50 L663.26 67.29 L664.20 67.09 L665.15 66.89 L666.10 66.69 L667.04 66.49 L667.99 66.29 L668.94 66.10 L669.89 65.90 L670.84 65.71 L671.79 65.52 L672.74 65.33 L673.69 65.14 L674.64 64.96 L675.59 64.77 L676.54 64.59 L677.49 64.41 L678.44 64.23 L679.39 64.05 L680.34 63.88 L681.29 63.70 L682.24 63.53 L683.20 63.36 L684.15 63.19 L685.10 63.02 L686.05 62.85 L687.01 62.69 L687.96 62.53 L688.91 62.36 L689.89 62.20 L690.87 62.01 L691.84 61.82 L692.80 61.62 L693.75 61.43 L694.71 61.24 L695.66 61.05 L696.62 60.86 L697.57 60.67 L698.53 60.49 L699.49 60.30 L700.44 60.12 L701.40 59.94 L702.36 59.76 L703.31 59.58 L704.27 59.40 L705.23 59.22 L706.19 59.04 L707.15 58.87 L708.10 58.69 L709.06 58.52 L710.02 58.35 L710.98 58.18 L711.94 58.01 L712.90 57.84 L713.86 57.67 L714.82 57.50 L715.78 57.33 L716.74 57.16 L717.70 56.99 L718.66 56.82 L719.62 56.65 L720.58 56.49 L721.55 56.32 L722.51 56.16 L723.47 55.99 L724.43 55.83 L725.39 55.67 L726.35 55.50 L727.31 55.34 L728.27 55.18 L729.24 55.02 L730.20 54.86 L731.16 54.70 L732.12 54.54 L733.08 54.38 L734.05 54.22 L735.01 54.07 L735.97 53.91 L736.93 53.75 L737.89 53.60 L738.84 53.45 L739.80 53.31 L740.76 53.16 L741.73 53.02 L742.69 52.88 L743.65 52.73 L744.61 52.59 L745.58 52.45 L746.54 52.31 L747.50 52.16 L748.47 52.02 L749.43 51.88 L750.39 51.74 L751.36 51.60 L752.32 51.46 L753.29 51.32 L754.25 51.17 L755.21 51.03 L756.18 50.89 L757.14 50.75 L758.10 50.61 L759.07 50.47 L760.03 50.32 L761.00 50.18 L761.95 50.04 L762.90 49.91 L763.86 49.78 L764.83 49.65 L765.79 49.52 L766.75 49.39 L767.72 49.26 L768.68 49.13 L769.64 49.00 L770.61 48.87 L771.57 48.74 L772.53 48.60 L773.50 48.47 L774.46 48.34 L775.43 48.20 L776.39 48.07 L777.35 47.94 L778.32 47.80 L779.28 47.67 L780.24 47.53 L781.20 47.39 L782.17 47.25 L781.63 43.55 L780.67 43.69 L779.71 43.83 L778.75 43.97 L777.79 44.10 L776.83 44.24 L775.87 44.38 L774.91 44.51 L773.95 44.65 L772.99 44.78 L772.02 44.92 L771.06 45.05 L770.10 45.19 L769.14 45.32 L768.18 45.46 L767.21 45.59 L766.25 45.72 L765.29 45.85 L764.33 45.99 L763.37 46.12 L762.40 46.25 L761.42 46.39 L760.45 46.53 L759.49 46.68 L758.53 46.82 L757.56 46.97 L756.60 47.11 L755.64 47.25 L754.67 47.40 L753.71 47.54 L752.75 47.69 L751.78 47.83 L750.82 47.98 L749.86 48.12 L748.89 48.26 L747.93 48.41 L746.97 48.55 L746.00 48.70 L745.04 48.84 L744.08 48.99 L743.11 49.13 L742.15 49.28 L741.19 49.42 L740.22 49.57 L739.26 49.72 L738.29 49.86 L737.32 50.02 L736.35 50.18 L735.38 50.34 L734.42 50.50 L733.46 50.66 L732.49 50.82 L731.53 50.98 L730.57 51.14 L729.60 51.30 L728.64 51.47 L727.68 51.63 L726.71 51.79 L725.75 51.96 L724.79 52.12 L723.82 52.29 L722.86 52.46 L721.90 52.62 L720.93 52.79 L719.97 52.96 L719.01 53.13 L718.04 53.30 L717.08 53.47 L716.12 53.64 L715.16 53.82 L714.20 53.99 L713.24 54.16 L712.28 54.33 L711.31 54.51 L710.35 54.68 L709.39 54.85 L708.43 55.03 L707.47 55.21 L706.51 55.38 L705.54 55.56 L704.58 55.74 L703.62 55.92 L702.66 56.11 L701.70 56.29 L700.74 56.47 L699.78 56.66 L698.82 56.85 L697.86 57.03 L696.90 57.22 L695.94 57.41 L694.98 57.60 L694.02 57.80 L693.06 57.99 L692.10 58.19 L691.14 58.39 L690.19 58.58 L689.27 58.76 L688.33 58.92 L687.37 59.08 L686.41 59.25 L685.45 59.42 L684.49 59.59 L683.54 59.76 L682.58 59.93 L681.62 60.11 L680.66 60.29 L679.71 60.46 L678.75 60.64 L677.79 60.83 L676.84 61.01 L675.88 61.19 L674.93 61.38 L673.97 61.57 L673.01 61.76 L672.06 61.95 L671.11 62.14 L670.15 62.34 L669.20 62.53 L668.24 62.73 L667.29 62.93 L666.34 63.13 L665.39 63.33 L664.43 63.53 L663.48 63.74 L662.53 63.95 L661.58 64.15 L660.63 64.36 L659.68 64.58 L658.73 64.79 L657.78 65.00 L656.83 65.22 L655.88 65.44 L654.93 65.65 L653.98 65.87 L653.03 66.10 L652.09 66.32 L651.14 66.54 L650.19 66.77 L649.24 67.00 L648.30 67.22 L647.35 67.45 L646.41 67.69 L645.46 67.92 L644.52 68.15 L643.57 68.39 L642.63 68.62 L641.69 68.86 L640.74 69.10 L639.81 69.34 L638.88 69.57 L637.94 69.79 L637.00 70.02 L636.06 70.25 L635.12 70.48 L634.18 70.71 L633.24 70.95 L632.30 71.18 L631.36 71.42 L630.42 71.65 L629.49 71.89 L628.55 72.13 L627.61 72.37 L626.67 72.61 L625.74 72.85 L624.80 73.10 L623.87 73.34 L622.93 73.59 L622.00 73.83 L621.07 74.08 L620.13 74.33 L619.20 74.58 L618.27 74.83 L617.34 75.08 L616.41 75.33 L615.48 75.58 L614.55 75.83 L613.62 76.08 L612.69 76.33 L611.77 76.59 L610.84 76.84 L609.91 77.09 L608.99 77.34 L608.06 77.60 L607.14 77.85 L606.21 78.11 L605.29 78.36 L604.36 78.62 L603.44 78.88 L602.51 79.13 L601.59 79.39 L600.67 79.66 L599.73 79.92 L598.79 80.21 L597.87 80.49 L596.95 80.78 L596.02 81.07 L595.10 81.37 L594.18 81.66 L593.26 81.96 L592.34 82.26 L591.42 82.57 L590.50 82.87 L589.58 83.19 L588.67 83.50 L587.75 83.82 L586.83 84.13 L585.91 84.46 L585.00 84.78 L584.08 85.11 L583.17 85.44 L582.25 85.77 L581.34 86.11 L580.43 86.44 L579.51 86.78 L578.60 87.12 L577.69 87.47 L576.77 87.82 L575.86 88.17 L574.95 88.52 L574.04 88.87 L573.13 89.23 L572.22 89.58 L571.31 89.94 L570.40 90.31 L569.48 90.67 L568.54 91.03 L567.59 91.40 L566.65 91.77 L565.70 92.14 L564.75 92.51 L563.81 92.89 L562.86 93.27 L561.91 93.64 L560.96 94.03 L560.01 94.41 L559.07 94.79 L558.12 95.18 L557.18 95.56 L556.23 95.95 L555.28 96.34 L554.34 96.74 L553.39 97.14 L552.45 97.54 L551.51 97.95 L550.57 98.36 L549.63 98.78 L548.71 99.20 L547.80 99.62 L546.90 100.04 L545.99 100.48 L545.09 100.91 L544.19 101.35 L543.29 101.80 L542.40 102.25 L541.51 102.71 L540.62 103.17 L539.74 103.64 L538.86 104.11 L537.98 104.59 L537.11 105.08 L536.24 105.57 L535.38 106.07 L534.52 106.58 L533.67 107.09 L532.82 107.61 L531.98 108.14 L531.14 108.67 L530.31 109.21 L529.49 109.76 L528.67 110.32 L527.85 110.89 L527.06 111.46 L526.27 112.04 L525.50 112.63 L524.73 113.23 L523.96 113.84 L523.22 114.45 L522.49 115.04 L521.77 115.60 L521.04 116.19 L520.32 116.79 L519.60 117.40 L518.89 118.02 L518.19 118.65 L517.50 119.28 L516.81 119.92 L516.14 120.57 L515.47 121.24 L514.81 121.90 L514.16 122.58 L513.51 123.26 L512.87 123.96 L512.24 124.66 L511.62 125.38 L511.00 126.10 L510.40 126.83 L509.80 127.57 L509.21 128.31 L508.62 129.07 L508.05 129.83 L507.48 130.59 L506.93 131.36 L506.38 132.14 L505.83 132.92 L505.30 133.71 L504.77 134.51 L504.25 135.31 L503.74 136.12 L503.23 136.93 L502.73 137.75 L502.24 138.57 L501.76 139.40 L501.28 140.23 L500.81 141.07 L500.34 141.91 L499.89 142.76 L499.44 143.61 L498.99 144.47 L498.56 145.33 L498.13 146.20 L497.70 147.07 L497.28 147.94 L496.87 148.84 L496.46 149.75 L496.07 150.66 L495.68 151.57 L495.29 152.49 L494.91 153.41 L494.54 154.33 L494.18 155.25 L493.82 156.18 L493.46 157.11 L493.12 158.04 L492.77 158.98 L492.44 159.93 L492.13 160.87 L491.83 161.81 L491.54 162.75 L491.25 163.69 L490.97 164.64 L490.69 165.58 L490.42 166.53 L490.15 167.47 L489.89 168.42 L489.64 169.37 L489.39 170.32 L489.14 171.27 L488.91 172.22 L488.68 173.17 L488.45 174.12 L488.23 175.07 L488.01 176.02 L487.80 176.97 L487.60 177.93 L487.40 178.88 L487.20 179.84 L487.02 180.80 L486.84 181.75 L486.67 182.71 L486.50 183.66 L486.33 184.62 L486.17 185.57 L486.02 186.53 L485.87 187.49 L485.72 188.45 L485.58 189.40 L485.44 190.36 L485.31 191.32 L485.18 192.28 L485.06 193.24 L484.93 194.20 L484.82 195.16 L484.70 196.12 L484.59 197.08 L484.49 198.04 L484.39 199.00 L484.29 199.95 L484.18 200.90 L484.07 201.86 L483.97 202.83 L483.87 203.79 L483.77 204.75 L483.68 205.72 L483.59 206.68 L483.50 207.64 L483.42 208.61 L483.33 209.57 L483.26 210.54 L483.18 211.50 L483.11 212.47 L483.03 213.43 L482.97 214.40 L482.90 215.37 L482.84 216.33 L482.77 217.30 L482.71 218.27 L482.66 219.24 L482.60 220.21 L482.56 221.18 L482.52 222.15 L482.48 223.12 L482.44 224.09 L482.40 225.06 L482.37 226.03 L482.34 226.99 L482.31 227.96 L482.28 228.93 L482.25 229.90 L482.22 230.87 L482.19 231.84 L482.17 232.81 L482.14 233.78 L482.12 234.75 L482.10 235.73 L482.08 236.70 L482.06 237.67 L482.04 238.64 L482.02 239.61 L482.00 240.58 L481.98 241.55 L481.96 242.53 L481.95 243.50 L481.93 244.47 L481.91 245.44 L481.90 246.41 L481.88 247.39 L481.86 248.36 L481.85 249.33 L481.82 250.28 L481.79 251.25 L481.75 252.22 L481.71 253.19 L481.68 254.17 L481.64 255.14 L481.60 256.11 L481.56 257.09 L481.52 258.06 L481.48 259.03 L481.44 260.02 L481.40 261.00 L481.36 261.99 L481.32 262.97 L481.27 263.96 L481.22 264.94 L481.18 265.93 L481.13 266.91 L481.08 267.90 L481.03 268.89 L480.98 269.87 L480.92 270.86 L480.87 271.85 L480.81 272.83 L480.75 273.82 L480.69 274.81 L480.63 275.79 L480.56 276.78 L480.49 277.77 L480.42 278.76 L480.35 279.75 L480.28 280.73 L480.20 281.72 L480.13 282.71 L480.05 283.70 L479.96 284.69 L479.88 285.68 L479.79 286.67 L479.70 287.66 L479.61 288.65 L479.51 289.64 L479.41 290.63 L479.31 291.62 L479.20 292.61 L479.09 293.60 L478.98 294.59 L478.87 295.58 L478.75 296.57 L478.63 297.56 L478.50 298.55 L478.37 299.54 L478.24 300.53 L478.11 301.53 L477.97 302.52 L477.82 303.51 L477.68 304.50 L477.52 305.50 L477.37 306.49 L477.21 307.48 L477.05 308.48 L476.88 309.47 L476.71 310.46 L476.53 311.45 L476.35 312.42 L476.17 313.39 L475.98 314.35 L475.79 315.32 L475.59 316.28 L475.38 317.25 L475.18 318.21 L474.96 319.18 L474.74 320.14 L474.52 321.10 L474.29 322.06 L474.06 323.02 L473.82 323.98 L473.58 324.94 L473.33 325.90 L473.08 326.86 L472.81 327.82 L472.55 328.77 L472.28 329.73 L472.00 330.68 L471.71 331.63 L471.42 332.58 L471.13 333.53 L470.82 334.48 L470.52 335.40 L470.21 336.29 L469.88 337.18 L469.55 338.07 L469.22 338.95 L468.87 339.83 L468.52 340.71 L468.16 341.58 L467.80 342.45 L467.42 343.32 L467.04 344.18 L466.65 345.04 L466.26 345.90 L465.85 346.75 L465.44 347.60 L465.02 348.44 L464.59 349.28 L464.15 350.12 L463.70 350.95 L463.24 351.77 L462.78 352.59 L462.31 353.41 L461.82 354.22 L461.33 355.03 L460.83 355.83 L460.33 356.60 L459.81 357.37 L459.28 358.13 L458.74 358.89 L458.19 359.65 L457.64 360.40 L457.07 361.14 L456.50 361.88 L455.91 362.61 L455.32 363.33 L454.72 364.05 L454.11 364.77 L453.50 365.47 L452.87 366.18 L452.24 366.87 L451.60 367.56 L450.96 368.24 L450.30 368.91 L449.64 369.58 L448.97 370.25 L448.28 370.95 L447.60 371.63 L446.91 372.30 L446.22 372.96 L445.52 373.62 L444.81 374.27 L444.10 374.91 L443.39 375.55 L442.67 376.17 L441.94 376.79 L441.21 377.41 L440.47 378.01 L439.73 378.61 L438.99 379.20 L438.24 379.78 L437.48 380.35 L436.73 380.91 L435.96 381.47 L435.20 382.02 L434.43 382.56 L433.66 383.10 L432.88 383.62 L432.10 384.14 L431.31 384.65 L430.52 385.16 L429.73 385.66 L428.93 386.15 L428.13 386.64 L427.33 387.12 L426.52 387.59 L425.71 388.06 L424.90 388.52 L424.08 388.98 L423.26 389.43 L422.43 389.87 L421.60 390.31 L420.77 390.75 L419.94 391.18 L419.09 391.61 L418.25 392.05 L417.40 392.48 L416.55 392.90 L415.70 393.32 L414.85 393.74 L413.99 394.15 L413.13 394.56 L412.27 394.97 L411.41 395.37 L410.54 395.77 L409.67 396.17 L408.80 396.56 L407.92 396.95 L407.05 397.34 L406.17 397.72 L405.29 398.10 L404.40 398.48 L403.52 398.85 L402.63 399.23 L401.74 399.59 L400.85 399.96 L399.95 400.32 L399.05 400.68 L398.16 401.04 L397.26 401.39 L396.35 401.75 L395.45 402.09 L394.55 402.44 L393.64 402.78 L392.73 403.12 L391.82 403.46 L390.91 403.80 L389.99 404.13 L389.08 404.46 L388.16 404.79 L387.25 405.12 L386.33 405.44 L385.41 405.76 L384.49 406.08 L383.57 406.40 L382.64 406.72 L381.72 407.03 L380.79 407.34 L379.87 407.65 L378.94 407.95 L378.01 408.26 L377.09 408.56 L376.16 408.86 L375.23 409.16 L374.30 409.46 L373.36 409.75 L372.43 410.04 L371.50 410.33 L370.57 410.62 L369.63 410.91 L368.70 411.20 L367.77 411.48 L366.83 411.77 L365.90 412.05 L364.97 412.33 L364.03 412.61 L363.10 412.89 L362.16 413.16 L361.23 413.44 L360.29 413.71 L359.36 413.98 L358.42 414.25 L357.48 414.52 L356.55 414.79 L355.61 415.05 L354.68 415.32 L353.74 415.58 L352.80 415.84 L351.87 416.10 L350.93 416.36 L349.99 416.62 L349.05 416.88 L348.12 417.13 L347.18 417.39 L346.24 417.64 L345.30 417.89 L344.36 418.14 L343.43 418.39 L342.49 418.64 L341.55 418.88 L340.61 419.13 L339.67 419.37 L338.73 419.61 L337.79 419.85 L336.85 420.09 L335.91 420.33 L334.97 420.57 L334.03 420.80 L333.09 421.04 L332.15 421.27 L331.21 421.51 L330.27 421.74 L329.33 421.97 L328.38 422.20 L327.44 422.43 L326.50 422.66 L325.56 422.89 L324.62 423.11 L323.68 423.34 L322.73 423.56 L321.79 423.79 L320.85 424.01 L319.91 424.23 L318.96 424.45 L318.02 424.67 L317.08 424.89 L316.14 425.11 L315.19 425.32 L314.25 425.54 L313.31 425.75 L312.36 425.96 L311.42 426.18 L310.47 426.39 L309.53 426.60 L308.59 426.81 L307.64 427.02 L306.70 427.23 L305.75 427.43 L304.81 427.64 L303.86 427.84 L302.92 428.05 L301.97 428.25 L301.03 428.45 L300.08 428.66 L299.13 428.86 L298.19 429.06 L297.24 429.26 L296.30 429.45 L295.35 429.65 L294.40 429.85 L293.46 430.04 L292.51 430.24 L291.56 430.43 L290.62 430.63 L289.67 430.82 L288.72 431.01 L287.78 431.21 L286.83 431.40 L285.88 431.59 L284.93 431.78 L283.99 431.97 L283.04 432.15 L282.09 432.34 L281.14 432.53 L280.19 432.72 L279.25 432.90 L278.30 433.09 L277.35 433.27 L276.40 433.45 L275.45 433.64 L274.50 433.82 L273.55 434.00 L272.60 434.18 L271.66 434.37 L270.71 434.55 L269.76 434.73 L268.81 434.91 L267.86 435.09 L266.91 435.26 L265.96 435.44 L265.01 435.62 L264.06 435.80 L263.11 435.97 L262.16 436.15 L261.21 436.33 L260.26 436.50 L259.31 436.68 L258.35 436.85 L257.40 437.02 L256.45 437.20 L255.50 437.37 L254.55 437.54 L253.60 437.72 L252.65 437.89 L251.70 438.06 L250.75 438.23 L249.79 438.40 L248.84 438.57 L247.89 438.75 L246.94 438.92 L245.99 439.09 L245.04 439.26 L244.08 439.43 L243.13 439.59 L242.18 439.76 L241.23 439.93 L240.27 440.10 L239.32 440.27 L238.37 440.44 L237.42 440.61 L236.46 440.77 L235.51 440.94 L234.56 441.11 L233.60 441.28 L232.65 441.44 L231.70 441.61 L230.74 441.78 L229.79 441.94 L228.84 442.11 L227.88 442.28 L226.93 442.44 L225.98 442.61 L225.02 442.78 L224.07 442.94 L223.12 443.11 L222.16 443.27 L221.21 443.44 L220.25 443.61 L219.30 443.77 L218.35 443.94 L217.39 444.11 L216.44 444.27 L215.48 444.44 L214.53 444.60 L213.57 444.77 L212.62 444.94 L211.67 445.10 L210.71 445.27 L209.76 445.44 L208.80 445.60 L207.85 445.77 L206.89 445.94 L205.94 446.10 L204.98 446.27 L204.03 446.44 L203.07 446.60 L202.12 446.77 L201.16 446.94 L200.21 447.11 L199.25 447.28 L198.30 447.44 L197.34 447.61 L196.39 447.78 L195.43 447.95 L194.47 448.12 L193.52 448.29 L192.56 448.46 L191.61 448.63 L190.65 448.80 L189.70 448.97 L188.74 449.14 L187.78 449.31 L186.83 449.48 L185.87 449.66 L184.92 449.83 L183.96 450.00 L183.01 450.17 L182.05 450.35 L181.09 450.52 L180.14 450.69 L179.18 450.87 L178.22 451.04 L177.27 451.22 L176.31 451.39 L175.36 451.57 L174.40 451.75 L173.44 451.92 L172.49 452.10 L171.53 452.28 L170.57 452.46 L169.62 452.64 L168.66 452.82 L167.71 453.00 L166.75 453.18 L165.79 453.36 L164.84 453.54 L163.88 453.72 L162.92 453.90 L161.97 454.09 L161.01 454.27 L160.05 454.46 L159.10 454.64 L158.14 454.83 L157.18 455.01 L156.23 455.20 L155.27 455.39 L154.31 455.57 L153.36 455.76 L152.40 455.95 L151.44 456.14 L150.49 456.33 L149.53 456.53 L148.57 456.72 L147.62 456.91 L146.66 457.10 L145.70 457.30 L144.75 457.49 L143.79 457.69 L142.83 457.89 L141.88 458.08 L140.92 458.28 L139.96 458.48 L139.01 458.68 L138.05 458.88 L137.14 459.07 L136.29 459.20Z" fill="#d62728" stroke="none"/>
<path d="M483.6 471.5 V22.5" stroke="#000" stroke-opacity="0.5" stroke-width="2.8" stroke-dasharray="10.65 4.68"/>
<path d="M136.50 460.70 L137.41 460.57 L138.36 460.37 L139.32 460.17 L140.28 459.97 L141.23 459.77 L142.19 459.57 L143.14 459.38 L144.10 459.18 L145.05 458.98 L146.01 458.79 L146.96 458.59 L147.92 458.40 L148.87 458.21 L149.83 458.02 L150.79 457.82 L151.74 457.63 L152.70 457.44 L153.65 457.25 L154.61 457.07 L155.56 456.88 L156.52 456.69 L157.48 456.50 L158.43 456.32 L159.39 456.13 L160.34 455.95 L161.30 455.76 L162.25 455.58 L163.21 455.40 L164.16 455.21 L165.12 455.03 L166.08 454.85 L167.03 454.67 L167.99 454.49 L168.94 454.31 L169.90 454.13 L170.85 453.95 L171.81 453.77 L172.77 453.60 L173.72 453.42 L174.68 453.24 L175.63 453.06 L176.59 452.89 L177.54 452.71 L178.50 452.54 L179.45 452.36 L180.41 452.19 L181.37 452.02 L182.32 451.84 L183.28 451.67 L184.23 451.50 L185.19 451.32 L186.14 451.15 L187.10 450.98 L188.05 450.81 L189.01 450.64 L189.96 450.47 L190.92 450.30 L191.87 450.13 L192.83 449.96 L193.78 449.79 L194.74 449.62 L195.69 449.45 L196.65 449.28 L197.60 449.11 L198.56 448.94 L199.51 448.77 L200.47 448.60 L201.42 448.44 L202.38 448.27 L203.33 448.10 L204.29 447.93 L205.24 447.77 L206.20 447.60 L207.15 447.43 L208.11 447.27 L209.06 447.10 L210.02 446.93 L210.97 446.77 L211.93 446.60 L212.88 446.43 L213.84 446.27 L214.79 446.10 L215.74 445.93 L216.70 445.77 L217.65 445.60 L218.61 445.44 L219.56 445.27 L220.52 445.10 L221.47 444.94 L222.42 444.77 L223.38 444.61 L224.33 444.44 L225.29 444.27 L226.24 444.11 L227.19 443.94 L228.15 443.77 L229.10 443.61 L230.05 443.44 L231.01 443.27 L231.96 443.11 L232.91 442.94 L233.87 442.77 L234.82 442.61 L235.77 442.44 L236.73 442.27 L237.68 442.10 L238.63 441.93 L239.59 441.77 L240.54 441.60 L241.49 441.43 L242.44 441.26 L243.40 441.09 L244.35 440.92 L245.30 440.75 L246.25 440.58 L247.21 440.41 L248.16 440.24 L249.11 440.07 L250.06 439.90 L251.02 439.73 L251.97 439.56 L252.92 439.38 L253.87 439.21 L254.82 439.04 L255.77 438.87 L256.73 438.69 L257.68 438.52 L258.63 438.35 L259.58 438.17 L260.53 438.00 L261.48 437.82 L262.43 437.64 L263.38 437.47 L264.34 437.29 L265.29 437.11 L266.24 436.94 L267.19 436.76 L268.14 436.58 L269.09 436.40 L270.04 436.22 L270.99 436.04 L271.94 435.86 L272.89 435.68 L273.84 435.50 L274.79 435.31 L275.74 435.13 L276.69 434.95 L277.64 434.76 L278.59 434.58 L279.54 434.39 L280.49 434.21 L281.44 434.02 L282.39 433.83 L283.33 433.65 L284.28 433.46 L285.23 433.27 L286.18 433.08 L287.13 432.89 L288.08 432.70 L289.03 432.50 L289.97 432.31 L290.92 432.12 L291.87 431.92 L292.82 431.73 L293.77 431.53 L294.71 431.34 L295.66 431.14 L296.61 430.94 L297.56 430.74 L298.50 430.54 L299.45 430.34 L300.40 430.14 L301.34 429.94 L302.29 429.74 L303.24 429.53 L304.18 429.33 L305.13 429.12 L306.08 428.92 L307.02 428.71 L307.97 428.50 L308.91 428.29 L309.86 428.08 L310.81 427.87 L311.75 427.66 L312.70 427.45 L313.64 427.23 L314.59 427.02 L315.53 426.80 L316.48 426.59 L317.42 426.37 L318.37 426.15 L319.31 425.93 L320.25 425.71 L321.20 425.49 L322.14 425.27 L323.09 425.04 L324.03 424.82 L324.97 424.59 L325.92 424.36 L326.86 424.14 L327.80 423.91 L328.75 423.68 L329.69 423.45 L330.63 423.21 L331.57 422.98 L332.52 422.75 L333.46 422.51 L334.40 422.28 L335.34 422.04 L336.28 421.80 L337.23 421.57 L338.17 421.33 L339.11 421.08 L340.05 420.84 L340.99 420.60 L341.93 420.35 L342.87 420.11 L343.81 419.86 L344.75 419.61 L345.69 419.36 L346.63 419.11 L347.57 418.85 L348.51 418.60 L349.45 418.34 L350.39 418.09 L351.33 417.83 L352.27 417.57 L353.21 417.31 L354.15 417.05 L355.09 416.78 L356.03 416.52 L356.96 416.25 L357.90 415.98 L358.84 415.71 L359.78 415.44 L360.72 415.17 L361.65 414.90 L362.59 414.62 L363.53 414.34 L364.46 414.07 L365.40 413.79 L366.34 413.50 L367.27 413.22 L368.21 412.94 L369.15 412.65 L370.08 412.37 L371.02 412.08 L371.95 411.79 L372.89 411.49 L373.82 411.20 L374.76 410.90 L375.69 410.61 L376.62 410.31 L377.55 410.01 L378.49 409.70 L379.42 409.40 L380.35 409.09 L381.28 408.78 L382.20 408.47 L383.13 408.15 L384.06 407.84 L384.98 407.52 L385.91 407.20 L386.83 406.88 L387.75 406.55 L388.68 406.22 L389.60 405.89 L390.51 405.56 L391.43 405.23 L392.35 404.89 L393.26 404.55 L394.17 404.21 L395.09 403.86 L396.00 403.51 L396.90 403.16 L397.81 402.81 L398.72 402.45 L399.62 402.09 L400.52 401.73 L401.42 401.37 L402.32 401.00 L403.21 400.63 L404.10 400.26 L405.00 399.88 L405.89 399.50 L406.77 399.12 L407.66 398.73 L408.54 398.34 L409.42 397.95 L410.30 397.55 L411.17 397.15 L412.05 396.75 L412.92 396.34 L413.79 395.94 L414.65 395.52 L415.51 395.11 L416.37 394.69 L417.23 394.26 L418.08 393.83 L418.94 393.40 L419.79 392.97 L420.63 392.53 L421.47 392.10 L422.31 391.66 L423.15 391.21 L423.98 390.76 L424.81 390.31 L425.64 389.85 L426.47 389.38 L427.29 388.90 L428.10 388.42 L428.92 387.94 L429.73 387.45 L430.53 386.95 L431.34 386.44 L432.14 385.93 L432.93 385.41 L433.73 384.88 L434.51 384.35 L435.30 383.81 L436.08 383.26 L436.86 382.70 L437.63 382.14 L438.40 381.56 L439.16 380.98 L439.92 380.39 L440.68 379.80 L441.43 379.19 L442.18 378.58 L442.92 377.95 L443.66 377.32 L444.39 376.69 L445.12 376.04 L445.84 375.39 L446.55 374.73 L447.26 374.06 L447.97 373.39 L448.66 372.71 L449.36 372.02 L450.04 371.33 L450.72 370.65 L451.39 369.98 L452.05 369.29 L452.71 368.60 L453.36 367.90 L454.00 367.19 L454.64 366.48 L455.27 365.76 L455.88 365.03 L456.49 364.30 L457.10 363.56 L457.69 362.82 L458.28 362.07 L458.85 361.31 L459.42 360.55 L459.98 359.78 L460.53 359.01 L461.07 358.23 L461.59 357.44 L462.11 356.64 L462.62 355.83 L463.13 355.01 L463.62 354.18 L464.10 353.35 L464.57 352.52 L465.03 351.68 L465.49 350.83 L465.93 349.98 L466.37 349.13 L466.80 348.27 L467.22 347.41 L467.63 346.55 L468.03 345.68 L468.43 344.81 L468.82 343.93 L469.20 343.05 L469.57 342.17 L469.93 341.28 L470.29 340.39 L470.63 339.50 L470.98 338.60 L471.31 337.70 L471.64 336.80 L471.96 335.90 L472.27 334.95 L472.58 333.99 L472.88 333.03 L473.17 332.07 L473.46 331.11 L473.74 330.15 L474.01 329.19 L474.28 328.22 L474.54 327.26 L474.80 326.29 L475.05 325.32 L475.30 324.35 L475.54 323.39 L475.77 322.42 L476.00 321.45 L476.23 320.48 L476.45 319.51 L476.66 318.54 L476.87 317.57 L477.07 316.59 L477.27 315.62 L477.47 314.65 L477.66 313.68 L477.85 312.70 L478.03 311.72 L478.21 310.72 L478.38 309.72 L478.55 308.72 L478.71 307.73 L478.87 306.73 L479.03 305.73 L479.18 304.73 L479.33 303.73 L479.47 302.73 L479.61 301.74 L479.75 300.74 L479.88 299.74 L480.01 298.74 L480.14 297.75 L480.26 296.75 L480.38 295.76 L480.49 294.76 L480.60 293.76 L480.71 292.77 L480.82 291.77 L480.92 290.78 L481.02 289.79 L481.12 288.79 L481.21 287.80 L481.30 286.80 L481.39 285.81 L481.48 284.82 L481.56 283.82 L481.64 282.83 L481.72 281.84 L481.80 280.85 L481.87 279.86 L481.94 278.87 L482.01 277.87 L482.08 276.88 L482.14 275.89 L482.21 274.90 L482.27 273.91 L482.33 272.92 L482.38 271.93 L482.44 270.94 L482.49 269.96 L482.55 268.97 L482.60 267.98 L482.65 266.99 L482.70 266.00 L482.74 265.01 L482.79 264.03 L482.83 263.04 L482.88 262.05 L482.92 261.07 L482.96 260.08 L483.00 259.10 L483.04 258.12 L483.08 257.15 L483.12 256.17 L483.16 255.20 L483.20 254.23 L483.23 253.25 L483.27 252.28 L483.31 251.30 L483.34 250.33 L483.37 249.36 L483.38 248.38 L483.40 247.41 L483.42 246.44 L483.43 245.47 L483.45 244.50 L483.47 243.52 L483.48 242.55 L483.50 241.58 L483.52 240.61 L483.54 239.64 L483.56 238.67 L483.58 237.70 L483.60 236.73 L483.62 235.76 L483.64 234.79 L483.66 233.82 L483.69 232.85 L483.71 231.88 L483.74 230.92 L483.77 229.95 L483.79 228.98 L483.82 228.01 L483.86 227.05 L483.89 226.08 L483.92 225.11 L483.96 224.15 L484.00 223.18 L484.04 222.22 L484.08 221.25 L484.12 220.29 L484.17 219.32 L484.23 218.36 L484.29 217.39 L484.35 216.43 L484.42 215.47 L484.48 214.51 L484.55 213.54 L484.62 212.58 L484.69 211.62 L484.77 210.66 L484.85 209.70 L484.93 208.74 L485.02 207.78 L485.10 206.82 L485.19 205.86 L485.29 204.90 L485.38 203.94 L485.48 202.98 L485.58 202.03 L485.69 201.07 L485.80 200.11 L485.90 199.16 L486.00 198.20 L486.10 197.25 L486.21 196.29 L486.33 195.34 L486.44 194.38 L486.56 193.43 L486.69 192.48 L486.82 191.53 L486.95 190.57 L487.08 189.62 L487.23 188.67 L487.37 187.72 L487.52 186.77 L487.67 185.82 L487.83 184.87 L487.99 183.92 L488.16 182.98 L488.33 182.03 L488.51 181.08 L488.69 180.13 L488.88 179.19 L489.08 178.24 L489.29 177.30 L489.50 176.35 L489.71 175.41 L489.93 174.47 L490.15 173.52 L490.38 172.58 L490.62 171.64 L490.86 170.70 L491.11 169.76 L491.36 168.82 L491.61 167.88 L491.88 166.94 L492.15 166.00 L492.42 165.07 L492.70 164.13 L492.99 163.20 L493.28 162.27 L493.58 161.34 L493.88 160.41 L494.21 159.49 L494.54 158.56 L494.89 157.64 L495.24 156.72 L495.59 155.81 L495.95 154.89 L496.32 153.98 L496.69 153.07 L497.08 152.16 L497.46 151.26 L497.85 150.36 L498.25 149.47 L498.66 148.59 L499.07 147.73 L499.49 146.87 L499.91 146.01 L500.34 145.16 L500.78 144.32 L501.23 143.48 L501.68 142.64 L502.14 141.81 L502.60 140.98 L503.07 140.16 L503.55 139.34 L504.03 138.53 L504.53 137.73 L505.02 136.93 L505.53 136.13 L506.04 135.34 L506.56 134.56 L507.09 133.78 L507.62 133.01 L508.16 132.25 L508.71 131.49 L509.27 130.74 L509.83 129.99 L510.40 129.25 L510.98 128.52 L511.57 127.80 L512.17 127.08 L512.77 126.37 L513.38 125.67 L514.00 124.98 L514.62 124.30 L515.26 123.63 L515.90 122.97 L516.54 122.31 L517.20 121.66 L517.86 121.02 L518.53 120.39 L519.21 119.77 L519.90 119.16 L520.59 118.56 L521.29 117.96 L522.00 117.37 L522.72 116.80 L523.45 116.23 L524.18 115.63 L524.92 115.03 L525.67 114.43 L526.43 113.85 L527.19 113.27 L527.96 112.70 L528.74 112.14 L529.53 111.58 L530.34 111.03 L531.16 110.49 L531.98 109.96 L532.80 109.44 L533.63 108.92 L534.47 108.41 L535.31 107.90 L536.16 107.40 L537.01 106.91 L537.87 106.43 L538.73 105.95 L539.59 105.47 L540.46 105.00 L541.34 104.54 L542.22 104.09 L543.10 103.63 L543.98 103.19 L544.87 102.75 L545.77 102.31 L546.66 101.88 L547.56 101.45 L548.46 101.03 L549.37 100.61 L550.27 100.20 L551.19 99.79 L552.13 99.38 L553.07 98.98 L554.00 98.58 L554.94 98.19 L555.88 97.79 L556.83 97.40 L557.77 97.02 L558.71 96.63 L559.66 96.25 L560.60 95.87 L561.55 95.49 L562.49 95.11 L563.44 94.73 L564.39 94.36 L565.33 93.98 L566.28 93.61 L567.22 93.24 L568.17 92.88 L569.11 92.51 L570.06 92.15 L570.98 91.78 L571.89 91.42 L572.80 91.07 L573.71 90.71 L574.61 90.36 L575.52 90.01 L576.43 89.66 L577.34 89.31 L578.25 88.96 L579.16 88.62 L580.07 88.28 L580.98 87.95 L581.89 87.61 L582.80 87.28 L583.71 86.95 L584.62 86.62 L585.54 86.30 L586.45 85.97 L587.36 85.66 L588.27 85.34 L589.19 85.03 L590.10 84.71 L591.02 84.41 L591.93 84.10 L592.85 83.80 L593.76 83.50 L594.68 83.20 L595.59 82.91 L596.51 82.62 L597.43 82.33 L598.35 82.05 L599.27 81.76 L600.19 81.48 L601.11 81.22 L602.03 80.96 L602.95 80.71 L603.87 80.45 L604.80 80.19 L605.72 79.94 L606.64 79.68 L607.57 79.43 L608.49 79.18 L609.42 78.93 L610.34 78.68 L611.27 78.42 L612.20 78.17 L613.12 77.92 L614.05 77.67 L614.98 77.42 L615.91 77.17 L616.84 76.92 L617.77 76.67 L618.70 76.42 L619.63 76.18 L620.56 75.93 L621.49 75.68 L622.42 75.44 L623.35 75.19 L624.29 74.95 L625.22 74.71 L626.15 74.46 L627.09 74.22 L628.02 73.98 L628.96 73.74 L629.89 73.51 L630.83 73.27 L631.77 73.04 L632.70 72.80 L633.64 72.57 L634.58 72.34 L635.52 72.11 L636.46 71.88 L637.40 71.65 L638.33 71.43 L639.27 71.20 L640.22 70.97 L641.16 70.73 L642.10 70.50 L643.04 70.26 L643.98 70.03 L644.92 69.79 L645.86 69.56 L646.81 69.33 L647.75 69.10 L648.69 68.87 L649.64 68.64 L650.58 68.42 L651.53 68.19 L652.47 67.97 L653.42 67.75 L654.36 67.53 L655.31 67.31 L656.26 67.10 L657.20 66.88 L658.15 66.67 L659.10 66.45 L660.05 66.24 L661.00 66.03 L661.94 65.83 L662.89 65.62 L663.84 65.41 L664.79 65.21 L665.74 65.01 L666.69 64.81 L667.64 64.61 L668.59 64.41 L669.54 64.22 L670.49 64.02 L671.45 63.83 L672.40 63.64 L673.35 63.45 L674.30 63.26 L675.26 63.08 L676.21 62.89 L677.16 62.71 L678.12 62.53 L679.07 62.35 L680.02 62.17 L680.98 61.99 L681.93 61.82 L682.89 61.65 L683.84 61.47 L684.80 61.31 L685.75 61.14 L686.71 60.97 L687.66 60.81 L688.62 60.64 L689.58 60.48 L690.53 60.30 L691.49 60.10 L692.45 59.91 L693.40 59.71 L694.36 59.52 L695.32 59.33 L696.28 59.14 L697.23 58.95 L698.19 58.76 L699.15 58.57 L700.11 58.39 L701.07 58.21 L702.03 58.02 L702.99 57.84 L703.95 57.66 L704.91 57.48 L705.87 57.30 L706.83 57.13 L707.79 56.95 L708.75 56.78 L709.71 56.60 L710.67 56.43 L711.63 56.26 L712.59 56.09 L713.55 55.92 L714.51 55.75 L715.47 55.57 L716.43 55.40 L717.39 55.23 L718.35 55.06 L719.32 54.89 L720.28 54.72 L721.24 54.56 L722.20 54.39 L723.16 54.22 L724.13 54.06 L725.09 53.90 L726.05 53.73 L727.01 53.57 L727.97 53.41 L728.94 53.24 L729.90 53.08 L730.86 52.92 L731.83 52.76 L732.79 52.60 L733.75 52.44 L734.71 52.28 L735.68 52.12 L736.64 51.96 L737.60 51.81 L738.57 51.66 L739.53 51.51 L740.49 51.37 L741.46 51.22 L742.42 51.08 L743.38 50.93 L744.35 50.79 L745.31 50.65 L746.27 50.50 L747.24 50.36 L748.20 50.22 L749.16 50.07 L750.13 49.93 L751.09 49.79 L752.05 49.64 L753.02 49.50 L753.98 49.36 L754.94 49.22 L755.91 49.07 L756.87 48.93 L757.83 48.79 L758.80 48.64 L759.76 48.50 L760.72 48.36 L761.69 48.21 L762.65 48.08 L763.61 47.95 L764.58 47.82 L765.54 47.69 L766.50 47.56 L767.47 47.42 L768.43 47.29 L769.39 47.16 L770.35 47.03 L771.32 46.90 L772.28 46.76 L773.24 46.63 L774.20 46.49 L775.17 46.36 L776.13 46.22 L777.09 46.09 L778.05 45.95 L779.02 45.82 L779.98 45.68 L780.94 45.54 L781.90 45.40" stroke="#000" stroke-opacity="0.3" stroke-width="11.0"/>
</g>
<g clip-path="url(#c2)" fill="none" stroke-linejoin="round">
<path d="M440.00 860.68 L441.08 859.93 L442.15 859.18 L443.22 858.43 L444.28 857.67 L445.34 856.90 L446.40 856.13 L447.46 855.35 L448.51 854.57 L449.55 853.78 L450.59 852.99 L451.63 852.19 L452.65 851.38 L453.68 850.56 L454.70 849.75 L455.73 848.94 L456.77 848.14 L457.81 847.35 L458.88 846.58 L459.98 845.83 L460.97 845.01 L461.78 844.04 L462.50 842.95 L463.18 841.81 L463.86 840.66 L464.60 839.58 L465.37 838.52 L466.16 837.47 L466.93 836.42 L467.68 835.35 L468.42 834.26 L469.15 833.18 L469.87 832.08 L470.58 830.99 L471.29 829.89 L472.01 828.79 L472.73 827.70 L473.45 826.60 L474.17 825.51 L474.89 824.41 L475.60 823.31 L476.29 822.21 L476.97 821.09 L477.63 819.96 L478.28 818.83 L478.92 817.69 L479.55 816.54 L480.18 815.39 L480.79 814.24 L481.40 813.08 L482.01 811.91 L482.60 810.75 L483.19 809.58 L483.78 808.40 L484.36 807.23 L484.93 806.05 L485.50 804.88 L486.04 803.69 L486.58 802.49 L487.11 801.30 L487.64 800.10 L488.18 798.91 L488.73 797.72 L489.29 796.54 L489.86 795.36 L490.43 794.18 L491.02 793.01 L491.62 791.84 L492.24 790.69 L492.87 789.55 L493.53 788.41 L494.20 787.28 L494.90 786.17 L495.64 785.09 L496.42 784.05 L497.24 782.99 L498.14 782.01 L499.12 781.22 L500.25 780.59 L501.50 780.52 L501.80 780.57 L502.10 780.64 L502.40 780.74 L502.70 780.86 L503.00 781.01 L503.30 781.19 L503.60 781.40 L503.90 781.63 L504.20 781.89 L504.50 782.18 L504.80 782.50 L505.10 782.84 L505.40 783.20 L505.70 783.59 L506.00 783.99 L506.30 784.42 L506.60 784.85 L506.90 785.30 L507.20 785.75 L507.50 786.21 L507.80 786.66 L508.10 787.10 L508.40 787.53 L508.70 787.95 L509.00 788.33 L509.30 788.69 L509.60 789.01 L509.90 789.30 L510.20 789.53 L510.50 789.72 L510.80 789.86 L511.10 789.93 L511.40 789.95 L511.70 789.91 L512.00 789.80 L512.30 789.63 L512.60 789.40 L512.90 789.11 L513.20 788.77 L513.50 788.38 L513.80 787.94 L514.10 787.46 L514.40 786.96 L514.70 786.43 L515.00 785.89 L515.30 785.35 L515.60 784.82 L515.90 784.31 L516.20 783.83 L516.50 783.39 L516.80 783.00 L517.10 782.68 L517.40 782.42 L517.70 782.25 L518.00 782.15 L518.30 782.14 L518.60 782.21 L518.90 782.37 L519.20 782.61 L519.50 782.92 L519.80 783.30 L520.10 783.74 L520.40 784.22 L520.70 784.74 L521.00 785.27 L521.30 785.79 L521.60 786.31 L521.90 786.78 L522.20 787.21 L522.50 787.57 L522.80 787.85 L523.10 788.04 L523.40 788.13 L523.70 788.12 L524.00 788.01 L524.30 787.79 L524.60 787.49 L524.90 787.10 L525.20 786.64 L525.50 786.13 L525.80 785.58 L526.10 785.03 L526.40 784.49 L526.70 783.98 L527.00 783.53 L527.30 783.16 L527.60 782.88 L527.90 782.71 L528.20 782.65 L528.50 782.71 L528.80 782.89 L529.10 783.18 L529.40 783.57 L529.70 784.03 L530.00 784.55 L530.30 785.10 L530.60 785.65 L530.90 786.17 L531.20 786.64 L531.50 787.02 L531.80 787.30 L532.10 787.47 L532.40 787.50 L532.70 787.40 L533.00 787.18 L533.30 786.84 L533.60 786.41 L533.90 785.90 L534.20 785.36 L534.50 784.81 L534.80 784.29 L535.10 783.83 L535.40 783.46 L535.70 783.20 L536.00 783.08 L536.30 783.11 L536.60 783.27 L536.90 783.56 L537.20 783.96 L537.50 784.44 L537.80 784.97 L538.10 785.51 L538.40 786.03 L538.70 786.47 L539.00 786.81 L539.30 787.03 L539.60 787.10 L539.90 787.02 L540.20 786.79 L540.50 786.44 L540.80 785.99 L541.10 785.47 L541.40 784.94 L541.70 784.43 L542.00 783.98 L542.30 783.64 L542.60 783.44 L542.90 783.38 L543.20 783.48 L543.50 783.74 L543.80 784.11 L544.10 784.58 L544.40 785.10 L544.70 785.61 L545.00 786.08 L545.30 786.46 L545.60 786.70 L545.90 786.79 L546.20 786.72 L546.50 786.49 L546.80 786.13 L547.10 785.68 L547.40 785.17 L547.70 784.66 L548.00 784.21 L548.30 783.87 L548.60 783.66 L548.90 783.61 L549.20 783.73 L549.50 784.01 L549.80 784.40 L550.10 784.88 L550.40 785.38 L550.70 785.84 L551.00 786.22 L551.30 786.47 L551.60 786.56 L551.90 786.47 L552.20 786.23 L552.50 785.85 L552.80 785.39 L553.10 784.90 L553.40 784.44 L553.70 784.08 L554.00 783.85 L554.30 783.78 L554.60 783.89 L554.90 784.16 L555.20 784.56 L555.50 785.02 L555.80 785.49 L556.10 785.90 L556.40 786.21 L556.70 786.35 L557.00 786.33 L557.30 786.13 L557.60 785.79 L557.90 785.36 L558.20 784.89 L558.50 784.46 L558.80 784.13 L559.10 783.95 L559.40 783.94 L559.70 784.11 L560.00 784.42 L560.30 784.84 L560.60 785.29 L560.90 785.71 L561.20 786.03 L561.50 786.19 L561.80 786.18 L562.10 786.00 L562.40 785.67 L562.70 785.25 L563.00 784.81 L563.30 784.43 L563.60 784.16 L563.90 784.05 L564.20 784.13 L564.50 784.37 L564.80 784.73 L565.10 785.16 L565.40 785.57 L565.70 785.89 L566.00 786.07 L566.30 786.07 L566.60 785.90 L566.90 785.58 L567.20 785.18 L567.50 784.77 L567.80 784.42 L568.10 784.21 L568.40 784.17 L568.70 784.31 L569.00 784.60 L569.30 784.98 L569.60 785.39 L569.90 785.73 L570.20 785.94 L570.50 785.99 L570.80 785.85 L571.10 785.57 L571.40 785.19 L571.70 784.80 L572.00 784.47 L572.30 784.29 L572.60 784.27 L572.90 784.43 L573.20 784.74 L573.50 785.12 L573.80 785.49 L574.10 785.77 L574.40 785.90 L574.70 785.86 L575.00 785.65 L575.30 785.31 L575.60 784.94 L575.90 784.60 L576.20 784.39 L576.50 784.34 L576.80 784.47 L577.10 784.75 L577.40 785.10 L577.70 785.46 L578.00 785.72 L578.30 785.83 L578.60 785.77 L578.90 785.55 L579.20 785.22 L579.50 784.86 L579.80 784.57 L580.10 784.42 L580.40 784.44 L580.70 784.63 L581.00 784.94 L581.30 785.28 L581.60 785.58 L581.90 785.75 L582.20 785.75 L582.50 785.58 L582.80 785.29 L583.10 784.95 L583.40 784.66 L583.70 784.49 L584.00 784.49 L584.30 784.66 L584.60 784.95 L584.90 785.28 L585.20 785.56 L585.50 785.70 L585.80 785.68 L586.10 785.50 L586.40 785.20 L586.70 784.88 L587.00 784.63 L587.30 784.52 L587.60 784.58 L587.90 784.80 L588.20 785.10 L588.50 785.40 L588.80 785.61 L589.10 785.66 L589.40 785.55 L589.70 785.30 L590.00 785.00 L590.30 784.73 L590.60 784.58 L590.90 784.60 L591.20 784.78 L591.50 785.05 L591.80 785.35 L592.10 785.56 L592.40 785.62 L592.70 785.52 L593.00 785.29 L593.30 785.00 L593.60 784.74 L593.90 784.61 L594.20 784.64 L594.50 784.83 L594.80 785.11 L595.10 785.38 L595.40 785.57 L595.70 785.60 L596.00 785.47 L596.30 785.22 L596.60 784.93 L596.90 784.71 L597.20 784.61 L597.50 784.69 L597.80 784.90 L598.10 785.18 L598.40 785.44 L598.70 785.58 L599.00 785.57 L599.30 785.41 L599.60 785.14 L599.90 784.87 L600.20 784.68 L600.50 784.63 L600.80 784.74 L601.10 784.97 L601.40 785.25 L601.70 785.48 L602.00 785.59 L602.30 785.54 L602.60 785.34 L602.90 785.08 L603.20 784.82 L603.50 784.66 L603.80 784.65 L604.10 784.79 L604.40 785.04 L604.70 785.31 L605.00 785.51 L605.30 785.58 L605.60 785.49 L605.90 785.28 L606.20 785.01 L606.50 784.78 L606.80 784.65 L607.10 784.68 L607.40 784.85 L607.70 785.11 L608.00 785.36 L608.30 785.53 L608.60 785.56 L608.90 785.44 L609.20 785.21 L609.50 784.95 L609.80 784.74 L610.10 784.66 L610.40 784.72 L610.70 784.92 L611.00 785.17 L611.30 785.41 L611.60 785.55 L611.90 785.54 L612.20 785.39 L612.50 785.15 L612.80 784.90 L613.10 784.72 L613.40 784.67 L613.70 784.77 L614.00 784.98 L614.30 785.24 L614.60 785.45 L614.90 785.55 L615.20 785.51 L615.50 785.33 L615.80 785.08 L616.10 784.85 L616.40 784.70 L616.70 784.69 L617.00 784.82 L617.30 785.05 L617.60 785.29 L617.90 785.48 L618.20 785.55 L618.50 785.47 L618.80 785.27 L619.10 785.02 L619.40 784.81 L619.70 784.69 L620.00 784.72 L620.30 784.87 L620.60 785.11 L620.90 785.34 L621.20 785.50 L621.50 785.53 L621.80 785.42 L622.10 785.21 L622.40 784.97 L622.70 784.77 L623.00 784.69 L623.30 784.75 L623.60 784.93 L623.90 785.17 L624.20 785.39 L624.50 785.52 L624.80 785.51 L625.10 785.37 L625.40 785.15 L625.70 784.92 L626.00 784.75 L626.30 784.71 L626.60 784.80 L626.90 784.99 L627.20 785.23 L627.50 785.43 L627.80 785.52 L628.10 785.48 L628.40 785.32 L628.70 785.09 L629.00 784.87 L629.30 784.74 L629.60 784.72 L629.90 784.84 L630.20 785.05 L630.50 785.28 L630.80 785.45 L631.10 785.52 L631.40 785.44 L631.70 785.26 L632.00 785.04 L632.30 784.84 L632.60 784.73 L632.90 784.75 L633.20 784.89 L633.50 785.11 L633.80 785.33 L634.10 785.47 L634.40 785.50 L634.70 785.40 L635.00 785.21 L635.30 784.98 L635.60 784.81 L635.90 784.73 L636.20 784.78 L636.50 784.95 L636.80 785.17 L637.10 785.37 L637.40 785.49 L637.70 785.48 L638.00 785.36 L638.30 785.15 L638.60 784.94 L638.90 784.78 L639.20 784.74 L639.50 784.82 L639.80 785.00 L640.10 785.22 L640.40 785.40 L640.70 785.49 L641.00 785.46 L641.30 785.31 L641.60 785.10 L641.90 784.90 L642.20 784.77 L642.50 784.76 L642.80 784.86 L643.10 785.06 L643.40 785.27 L643.70 785.43 L644.00 785.49 L644.30 785.42 L644.60 785.26 L644.90 785.05 L645.20 784.86 L645.50 784.76 L645.80 784.78 L646.10 784.91 L646.40 785.11 L646.70 785.31 L647.00 785.45 L647.30 785.48 L647.60 785.39 L647.90 785.21 L648.20 785.00 L648.50 784.83 L648.80 784.76 L649.10 784.81 L649.40 784.96 L649.70 785.16 L650.00 785.35 L650.30 785.46 L650.60 785.46 L650.90 785.34 L651.20 785.16 L651.50 784.96 L651.80 784.81 L652.10 784.77 L652.40 784.85 L652.70 785.01 L653.00 785.21 L653.30 785.38 L653.60 785.47 L653.90 785.43 L654.20 785.30 L654.50 785.11 L654.80 784.92 L655.10 784.80 L655.40 784.79 L655.70 784.89 L656.00 785.06 L656.30 785.26 L656.60 785.41 L656.90 785.46 L657.20 785.40 L657.50 785.25 L657.80 785.06 L658.10 784.89 L658.40 784.79 L658.70 784.81 L659.00 784.93 L659.30 785.11 L659.60 785.30 L659.90 785.43 L660.20 785.45 L660.50 785.37 L660.80 785.20 L661.10 785.01 L661.40 784.86 L661.70 784.79 L662.00 784.84 L662.30 784.97 L662.60 785.16 L662.90 785.33 L663.20 785.44 L663.50 785.44 L663.80 785.33 L664.10 785.16 L664.40 784.97 L664.70 784.84 L665.00 784.80 L665.30 784.87 L665.60 785.02 L665.90 785.21 L666.20 785.36 L666.50 785.44 L666.80 785.41 L667.10 785.29 L667.40 785.11 L667.70 784.94 L668.00 784.83 L668.30 784.82 L668.60 784.91 L668.90 785.07 L669.20 785.25 L669.50 785.39 L669.80 785.44 L670.10 785.39 L670.40 785.25 L670.70 785.07 L671.00 784.91 L671.30 784.82 L671.60 784.84 L671.90 784.95 L672.20 785.11 L672.50 785.29 L672.80 785.40 L673.10 785.43 L673.40 785.35 L673.70 785.20 L674.00 785.03 L674.30 784.88 L674.60 784.82 L674.90 784.86 L675.20 784.99 L675.50 785.16 L675.80 785.32 L676.10 785.41 L676.40 785.41 L676.70 785.32 L677.00 785.16 L677.30 784.99 L677.60 784.87 L677.90 784.83 L678.20 784.89 L678.50 785.03 L678.80 785.20 L679.10 785.35 L679.40 785.42 L679.70 785.39 L680.00 785.28 L680.30 785.12 L680.60 784.96 L680.90 784.85 L681.20 784.84 L681.50 784.92 L681.80 785.07 L682.10 785.24 L682.40 785.37 L682.70 785.42 L683.00 785.37 L683.30 785.24 L683.60 785.08 L683.90 784.93 L684.20 784.85 L684.50 784.86 L684.80 784.96 L685.10 785.12 L685.40 785.28 L685.70 785.38 L686.00 785.41 L686.30 785.34 L686.60 785.20 L686.90 785.04 L687.20 784.91 L687.50 784.85 L687.80 784.88 L688.10 785.00 L688.40 785.16 L688.70 785.31 L689.00 785.39 L689.30 785.40 L689.60 785.31 L689.90 785.16 L690.20 785.00 L690.50 784.89 L690.80 784.85 L691.10 784.91 L691.40 785.04 L691.70 785.20 L692.00 785.33 L692.30 785.40 L692.60 785.38 L692.90 785.27 L693.20 785.12 L693.50 784.97 L693.80 784.88 L694.10 784.87 L694.40 784.94 L694.70 785.08 L695.00 785.23 L695.30 785.35 L695.60 785.40 L695.90 785.35 L696.20 785.24 L696.50 785.09 L696.80 784.95 L697.10 784.87 L697.40 784.88 L697.70 784.98 L698.00 785.12 L698.30 785.27 L698.60 785.37 L698.90 785.39 L699.20 785.33 L699.50 785.20 L699.80 785.05 L700.10 784.93 L700.40 784.87 L700.70 784.90 L701.00 785.01 L701.30 785.16 L701.60 785.29 L701.90 785.38 L702.20 785.38 L702.50 785.30 L702.80 785.16 L703.10 785.02 L703.40 784.91 L703.70 784.88 L704.00 784.93 L704.30 785.05 L704.60 785.19 L704.90 785.32 L705.20 785.38 L705.50 785.36 L705.80 785.27 L706.10 785.13 L706.40 784.99 L706.70 784.90 L707.00 784.89 L707.30 784.96 L707.60 785.08 L707.90 785.23 L708.20 785.34 L708.50 785.38 L708.80 785.34 L709.10 785.23 L709.40 785.09 L709.70 784.97 L710.00 784.90 L710.30 784.90 L710.60 784.99 L710.90 785.12 L711.20 785.26 L711.50 785.35 L711.80 785.37 L712.10 785.32 L712.40 785.20 L712.70 785.06 L713.00 784.95 L713.30 784.90 L713.60 784.92 L713.90 785.02 L714.20 785.16 L714.50 785.28 L714.80 785.36 L715.10 785.36 L715.40 785.29 L715.70 785.17 L716.00 785.03 L716.30 784.93 L716.60 784.90 L716.90 784.95 L717.20 785.06 L717.50 785.19 L717.80 785.31 L718.10 785.36 L718.40 785.35 L718.70 785.26 L719.00 785.13 L719.30 785.01 L719.60 784.92 L719.90 784.91 L720.20 784.97 L720.50 785.09 L720.80 785.22 L721.10 785.32 L721.40 785.36 L721.70 785.33 L722.00 785.23 L722.30 785.10 L722.60 784.98 L722.90 784.92 L723.20 784.93 L723.50 785.00 L723.80 785.12 L724.10 785.25 L724.40 785.34 L724.70 785.36 L725.00 785.31 L725.30 785.20 L725.60 785.07 L725.90 784.97 L726.20 784.92 L726.50 784.94 L726.80 785.03 L727.10 785.16 L727.40 785.27 L727.70 785.35 L728.00 785.35 L728.30 785.28 L728.60 785.17 L728.90 785.04 L729.20 784.95 L729.50 784.92 L729.80 784.96 L730.10 785.06 L730.40 785.19 L730.70 785.29 L731.00 785.35 L731.30 785.33 L731.60 785.25 L731.90 785.14 L732.20 785.02 L732.50 784.94 L732.80 784.93 L733.10 784.99 L733.40 785.09 L733.70 785.22 L734.00 785.31 L734.30 785.35 L734.60 785.32 L734.90 785.23 L735.20 785.11 L735.50 785.00 L735.80 784.94 L736.10 784.94 L736.40 785.01 L736.70 785.13 L737.00 785.24 L737.30 785.32 L737.60 785.34 L737.90 785.30 L738.20 785.20 L738.50 785.08 L738.80 784.98 L739.10 784.94 L739.40 784.96 L739.70 785.04 L740.00 785.16 L740.30 785.26 L740.60 785.33 L740.90 785.34 L741.20 785.27 L741.50 785.17 L741.80 785.06 L742.10 784.97 L742.40 784.94 L742.70 784.98 L743.00 785.07 L743.30 785.18 L743.60 785.28 L743.90 785.34 L744.20 785.32 L744.50 785.25 L744.80 785.14 L745.10 785.03 L745.40 784.96 L745.70 784.95 L746.00 785.00 L746.30 785.10 L746.60 785.21 L746.90 785.30 L747.20 785.34 L747.50 785.31 L747.80 785.22 L748.10 785.11 L748.40 785.01 L748.70 784.96 L749.00 784.96 L749.30 785.03 L749.60 785.13 L749.90 785.24 L750.20 785.31 L750.50 785.33 L750.80 785.29 L751.10 785.20 L751.40 785.09 L751.70 785.00 L752.00 784.96 L752.30 784.98 L752.60 785.05 L752.90 785.16 L753.20 785.26 L753.50 785.32 L753.80 785.32 L754.10 785.27 L754.40 785.17 L754.70 785.07 L755.00 784.99 L755.30 784.96 L755.60 784.99 L755.90 785.08 L756.20 785.18 L756.50 785.28 L756.80 785.32 L757.10 785.31 L757.40 785.25 L757.70 785.15 L758.00 785.05 L758.30 784.98 L758.60 784.97 L758.90 785.01 L759.20 785.11 L759.50 785.21 L759.80 785.29 L760.10 785.32 L760.40 785.30 L760.70 785.22 L761.00 785.12 L761.30 785.03 L761.60 784.97 L761.90 784.98 L762.20 785.04 L762.50 785.13 L762.80 785.23 L763.10 785.30 L763.40 785.32 L763.70 785.28 L764.00 785.20 L764.30 785.10 L764.60 785.01 L764.90 784.97 L765.20 784.99 L765.50 785.06 L765.80 785.16 L766.10 785.25 L766.40 785.31 L766.70 785.31 L767.00 785.26 L767.30 785.17 L767.60 785.08 L767.90 785.00 L768.20 784.98 L768.50 785.01 L768.80 785.09 L769.10 785.18 L769.40 785.27 L769.70 785.31 L770.00 785.30 L770.30 785.24 L770.60 785.15 L770.90 785.06 L771.20 785.00 L771.50 784.98 L771.80 785.03 L772.10 785.11 L772.40 785.21 L772.70 785.28 L773.00 785.31 L773.30 785.29 L773.60 785.22 L773.90 785.13 L774.20 785.04 L774.50 784.99 L774.80 784.99 L775.10 785.05 L775.40 785.13 L775.70 785.23 L776.00 785.29 L776.30 785.31 L776.60 785.27 L776.90 785.20 L777.20 785.10 L777.50 785.03 L777.80 784.99 L778.10 785.01 L778.40 785.07 L778.70 785.16 L779.00 785.24 L779.30 785.30 L779.60 785.30 L779.90 785.26 L780.20 785.17 L780.50 785.09 L780.80 785.02 L781.10 784.99 L781.40 785.02 L781.70 785.09 L782.00 785.18" stroke="#1f77b4" stroke-width="2.85"/>
<path d="M468.00 832.63 L469.02 830.51 L470.00 828.37 L470.93 826.21 L471.82 824.03 L472.66 821.83 L473.44 819.61 L474.19 817.38 L474.96 815.16 L475.73 812.93 L476.44 810.69 L477.07 808.42 L477.68 806.14 L478.21 803.85 L478.63 801.54 L478.91 799.20 L479.14 796.85 L479.38 794.51 L479.75 792.20 L480.37 789.93 L481.04 787.66 L481.55 785.37 L481.98 783.06 L482.37 780.74 L482.74 778.41 L483.14 776.09 L483.58 773.78 L484.09 771.48 L484.59 769.17 L485.02 766.86 L485.30 764.53 L485.51 762.19 L485.72 759.84 L485.96 757.50 L486.21 755.16 L486.47 752.83 L486.72 750.49 L486.95 748.14 L487.16 745.78 L487.39 743.43 L487.69 741.11 L488.14 738.63 L488.89 736.42 L489.63 737.95 L490.24 740.72 L490.61 743.04 L490.90 745.38 L491.25 747.71 L491.82 750.38 L492.37 749.63 L492.83 746.81 L493.13 744.47 L493.41 742.13 L493.91 739.56 L494.57 739.19 L495.07 741.91 L495.39 744.25 L495.72 746.58 L496.30 749.10 L497.00 747.30" stroke="#ff7f0e" stroke-width="2.85"/>
<path d="M497.00 740.75 L498.00 740.92 L499.00 741.37 L500.00 741.56 L501.00 741.68 L502.00 741.75 L503.00 741.97 L504.00 742.27 L505.00 742.01 L506.00 742.49 L507.00 742.53 L508.00 742.53 L509.00 742.31 L510.00 742.91 L511.00 743.01 L512.00 742.77 L513.00 743.11 L514.00 742.99 L515.00 742.78 L516.00 743.22 L517.00 742.82 L518.00 743.32 L519.00 742.96 L520.00 743.21 L521.00 743.31 L522.00 743.09 L523.00 743.42 L524.00 743.34 L525.00 743.45 L526.00 743.49 L527.00 743.40 L528.00 743.45 L529.00 743.19 L530.00 743.48 L531.00 743.45 L532.00 743.38 L533.00 743.33 L534.00 743.35 L535.00 743.55 L536.00 743.59 L537.00 743.61 L538.00 743.31 L539.00 743.64 L540.00 743.49 L541.00 743.41 L542.00 743.19 L543.00 743.38 L544.00 743.51 L545.00 743.67 L546.00 743.61 L547.00 743.69 L548.00 743.67 L549.00 743.41 L550.00 743.54 L551.00 743.54 L552.00 743.57 L553.00 743.59 L554.00 743.70 L555.00 743.61 L556.00 743.40 L557.00 743.65 L558.00 743.35 L559.00 743.30 L560.00 743.64 L561.00 743.65 L562.00 743.58 L563.00 743.66 L564.00 743.78 L565.00 743.67 L566.00 743.69 L567.00 743.27 L568.00 743.25 L569.00 743.51 L570.00 743.51 L571.00 743.80 L572.00 743.61 L573.00 743.81 L574.00 743.76 L575.00 743.48 L576.00 743.71 L577.00 743.70 L578.00 743.47 L579.00 743.70 L580.00 743.74 L581.00 743.53 L582.00 743.35 L583.00 743.83 L584.00 743.67 L585.00 743.86 L586.00 743.53 L587.00 743.33 L588.00 743.71 L589.00 743.58 L590.00 743.69 L591.00 743.88 L592.00 743.55 L593.00 743.81 L594.00 743.72 L595.00 743.62 L596.00 743.56 L597.00 743.70 L598.00 743.90 L599.00 743.46 L600.00 743.54 L601.00 743.60 L602.00 743.64 L603.00 743.46 L604.00 743.91 L605.00 743.61 L606.00 743.68 L607.00 743.74 L608.00 743.88 L609.00 743.44 L610.00 743.90 L611.00 743.71 L612.00 743.79 L613.00 743.58 L614.00 743.94 L615.00 743.95 L616.00 743.92 L617.00 743.79 L618.00 743.70 L619.00 743.79 L620.00 743.95 L621.00 743.84 L622.00 743.96 L623.00 743.97 L624.00 743.83 L625.00 743.86 L626.00 743.47 L627.00 743.75 L628.00 743.52 L629.00 743.81 L630.00 743.90 L631.00 743.95 L632.00 743.99 L633.00 743.89 L634.00 743.96 L635.00 743.84 L636.00 743.71 L637.00 743.93 L638.00 743.95 L639.00 743.94 L640.00 744.02 L641.00 743.76 L642.00 743.84 L643.00 743.48 L644.00 743.90 L645.00 743.76 L646.00 743.81 L647.00 743.95 L648.00 743.91 L649.00 744.03 L650.00 743.54 L651.00 743.93 L652.00 743.63 L653.00 743.96 L654.00 743.80 L655.00 744.05 L656.00 744.02 L657.00 744.02 L658.00 744.01 L659.00 744.00 L660.00 743.84 L661.00 743.90 L662.00 743.69 L663.00 744.04 L664.00 743.96 L665.00 743.97 L666.00 743.78 L667.00 744.00 L668.00 743.95 L669.00 743.62 L670.00 743.94 L671.00 743.62 L672.00 743.63 L673.00 744.00 L674.00 743.82 L675.00 743.99 L676.00 744.00 L677.00 744.04 L678.00 744.05 L679.00 744.05 L680.00 744.02 L681.00 743.85 L682.00 744.03 L683.00 744.01 L684.00 744.08 L685.00 743.97 L686.00 743.96 L687.00 743.94 L688.00 744.06 L689.00 743.88 L690.00 744.00 L691.00 744.11 L692.00 744.11 L693.00 743.90 L694.00 743.83 L695.00 744.00 L696.00 744.09 L697.00 743.79 L698.00 744.08 L699.00 744.11 L700.00 743.83 L701.00 743.50 L702.00 744.08 L703.00 743.70 L704.00 744.06 L705.00 743.97 L706.00 743.99 L707.00 743.80 L708.00 744.06 L709.00 744.00 L710.00 743.91 L711.00 743.61 L712.00 744.06 L713.00 743.82 L714.00 744.15 L715.00 744.01 L716.00 744.10 L717.00 743.93 L718.00 743.75 L719.00 744.12 L720.00 744.12 L721.00 743.83 L722.00 744.15 L723.00 743.96 L724.00 744.02 L725.00 743.72 L726.00 743.94 L727.00 744.16 L728.00 744.10 L729.00 743.88 L730.00 743.97 L731.00 743.68 L732.00 743.95 L733.00 744.01 L734.00 744.12 L735.00 743.70 L736.00 743.82 L737.00 743.85 L738.00 743.94 L739.00 743.78 L740.00 744.07 L741.00 744.16 L742.00 743.81 L743.00 744.17 L744.00 744.10 L745.00 744.04 L746.00 744.16 L747.00 744.17 L748.00 743.91 L749.00 744.03 L750.00 744.14 L751.00 743.65 L752.00 743.77 L753.00 744.02 L754.00 744.10 L755.00 744.11 L756.00 744.05 L757.00 744.11 L758.00 744.18 L759.00 744.13 L760.00 743.69 L761.00 744.05 L762.00 743.84 L763.00 743.91 L764.00 744.19 L765.00 744.14 L766.00 744.11 L767.00 743.84 L768.00 743.92 L769.00 744.11 L770.00 744.17 L771.00 744.15 L772.00 744.06 L773.00 744.05 L774.00 744.17 L775.00 743.60 L776.00 744.13 L777.00 744.08 L778.00 743.89 L779.00 744.15 L780.00 744.01 L781.00 743.94 L782.00 743.92 L782.00 744.69 L781.00 744.47 L780.00 744.47 L779.00 744.77 L778.00 744.64 L777.00 744.73 L776.00 744.52 L775.00 744.46 L774.00 744.40 L773.00 744.81 L772.00 744.40 L771.00 744.58 L770.00 744.44 L769.00 744.59 L768.00 744.43 L767.00 744.59 L766.00 744.56 L765.00 744.62 L764.00 744.96 L763.00 744.47 L762.00 744.84 L761.00 744.44 L760.00 744.62 L759.00 744.87 L758.00 744.59 L757.00 744.65 L756.00 744.54 L755.00 744.83 L754.00 744.52 L753.00 744.66 L752.00 744.62 L751.00 744.64 L750.00 744.93 L749.00 744.89 L748.00 744.52 L747.00 744.42 L746.00 744.94 L745.00 744.47 L744.00 744.76 L743.00 744.66 L742.00 744.83 L741.00 744.43 L740.00 744.70 L739.00 744.78 L738.00 744.45 L737.00 744.55 L736.00 744.56 L735.00 744.54 L734.00 744.80 L733.00 744.47 L732.00 744.48 L731.00 744.55 L730.00 744.59 L729.00 744.59 L728.00 744.63 L727.00 744.78 L726.00 744.53 L725.00 744.60 L724.00 744.53 L723.00 744.48 L722.00 744.49 L721.00 744.58 L720.00 744.47 L719.00 744.53 L718.00 744.73 L717.00 744.57 L716.00 744.55 L715.00 744.73 L714.00 744.81 L713.00 744.65 L712.00 744.48 L711.00 744.80 L710.00 744.67 L709.00 744.61 L708.00 744.62 L707.00 744.56 L706.00 744.74 L705.00 744.46 L704.00 744.67 L703.00 744.71 L702.00 744.80 L701.00 744.78 L700.00 744.69 L699.00 744.62 L698.00 744.50 L697.00 744.80 L696.00 744.59 L695.00 744.96 L694.00 744.53 L693.00 744.74 L692.00 744.55 L691.00 744.63 L690.00 744.61 L689.00 744.50 L688.00 744.94 L687.00 744.52 L686.00 744.58 L685.00 745.04 L684.00 744.56 L683.00 744.80 L682.00 744.59 L681.00 744.54 L680.00 744.74 L679.00 744.57 L678.00 744.57 L677.00 744.59 L676.00 744.75 L675.00 744.88 L674.00 744.63 L673.00 744.52 L672.00 744.89 L671.00 744.79 L670.00 744.71 L669.00 744.61 L668.00 744.70 L667.00 744.59 L666.00 744.60 L665.00 744.64 L664.00 744.86 L663.00 744.75 L662.00 744.68 L661.00 744.72 L660.00 744.94 L659.00 745.00 L658.00 744.70 L657.00 744.64 L656.00 744.64 L655.00 744.61 L654.00 745.13 L653.00 744.70 L652.00 744.76 L651.00 744.79 L650.00 744.74 L649.00 744.74 L648.00 744.59 L647.00 744.65 L646.00 744.76 L645.00 744.58 L644.00 744.84 L643.00 744.99 L642.00 744.84 L641.00 744.63 L640.00 744.86 L639.00 744.67 L638.00 744.75 L637.00 744.79 L636.00 744.99 L635.00 744.62 L634.00 744.61 L633.00 744.66 L632.00 744.70 L631.00 744.69 L630.00 745.13 L629.00 744.88 L628.00 744.84 L627.00 744.75 L626.00 744.90 L625.00 744.70 L624.00 744.74 L623.00 744.88 L622.00 744.83 L621.00 744.92 L620.00 744.84 L619.00 744.78 L618.00 744.87 L617.00 744.83 L616.00 744.93 L615.00 745.11 L614.00 744.65 L613.00 744.67 L612.00 744.77 L611.00 744.65 L610.00 744.92 L609.00 744.93 L608.00 744.70 L607.00 744.68 L606.00 744.89 L605.00 745.09 L604.00 744.71 L603.00 744.75 L602.00 744.91 L601.00 744.87 L600.00 744.74 L599.00 744.74 L598.00 744.76 L597.00 745.14 L596.00 744.75 L595.00 744.70 L594.00 744.74 L593.00 744.84 L592.00 744.96 L591.00 744.74 L590.00 745.00 L589.00 745.00 L588.00 744.79 L587.00 744.97 L586.00 744.92 L585.00 744.87 L584.00 744.87 L583.00 745.06 L582.00 745.22 L581.00 744.82 L580.00 744.85 L579.00 744.87 L578.00 745.08 L577.00 744.80 L576.00 744.78 L575.00 744.80 L574.00 744.95 L573.00 745.20 L572.00 745.30 L571.00 744.88 L570.00 745.33 L569.00 744.94 L568.00 744.83 L567.00 744.88 L566.00 744.86 L565.00 745.20 L564.00 744.86 L563.00 744.89 L562.00 745.15 L561.00 744.96 L560.00 744.86 L559.00 744.94 L558.00 744.98 L557.00 744.85 L556.00 744.86 L555.00 744.94 L554.00 745.35 L553.00 744.97 L552.00 744.92 L551.00 745.55 L550.00 745.04 L549.00 744.96 L548.00 745.11 L547.00 744.96 L546.00 745.07 L545.00 745.23 L544.00 745.08 L543.00 745.43 L542.00 745.56 L541.00 745.26 L540.00 745.07 L539.00 745.05 L538.00 745.22 L537.00 745.07 L536.00 745.10 L535.00 745.15 L534.00 745.14 L533.00 745.55 L532.00 745.05 L531.00 745.08 L530.00 745.16 L529.00 745.14 L528.00 745.14 L527.00 745.23 L526.00 745.16 L525.00 745.16 L524.00 745.30 L523.00 745.18 L522.00 745.24 L521.00 745.53 L520.00 745.26 L519.00 745.46 L518.00 745.40 L517.00 745.47 L516.00 745.56 L515.00 745.39 L514.00 746.00 L513.00 745.59 L512.00 745.61 L511.00 745.71 L510.00 745.85 L509.00 745.95 L508.00 745.89 L507.00 746.02 L506.00 746.33 L505.00 746.23 L504.00 746.61 L503.00 746.64 L502.00 746.67 L501.00 746.82 L500.00 747.29 L499.00 747.44 L498.00 747.55 L497.00 747.80Z" fill="#ff7f0e" stroke="#ff7f0e" stroke-width="2.85"/>
<path d="M484.20 712.00 L483.90 700.00 L484.20 682.40 L485.90 659.60 L487.10 632.50 L493.90 632.30 L496.40 631.20 L498.00 634.50 L500.00 639.50 L501.50 644.09 L502.30 645.55 L503.10 645.68 L503.90 646.95 L504.70 646.99 L505.50 645.30 L506.30 647.89 L507.10 646.47 L507.90 646.85 L508.70 646.84 L509.50 649.74 L510.30 650.33 L511.10 647.88 L511.90 649.60 L512.70 650.21 L513.50 651.37 L514.30 651.63 L515.10 651.10 L515.90 651.40 L516.70 651.36 L517.50 653.24 L518.30 652.66 L519.10 653.13 L519.90 653.29 L520.70 653.54 L521.50 653.99 L522.30 653.30 L523.10 651.52 L523.90 654.27 L524.70 651.87 L525.50 653.25 L526.30 652.62 L527.10 653.06 L527.90 654.42 L528.70 654.55 L529.50 653.72 L530.30 653.84 L531.10 653.14 L531.90 654.31 L532.70 654.00 L533.50 654.37 L534.30 654.31 L535.10 655.28 L535.90 655.34 L536.70 654.97 L537.50 654.74 L538.30 654.08 L539.10 654.84 L539.90 654.64 L540.70 655.05 L541.50 655.05 L542.30 655.25 L543.10 654.63 L543.90 655.91 L544.70 655.61 L545.50 654.45 L546.30 655.31 L547.10 655.53 L547.90 655.50 L548.70 655.98 L549.50 655.72 L550.30 655.95 L551.10 656.14 L551.90 656.20 L552.70 655.51 L553.50 656.10 L554.30 655.98 L555.10 654.28 L555.90 656.14 L556.70 656.38 L557.50 656.20 L558.30 656.31 L559.10 656.19 L559.90 655.98 L560.70 656.42 L561.50 655.79 L562.30 655.90 L563.10 656.20 L563.90 655.79 L564.70 655.58 L565.50 656.38 L566.30 656.33 L567.10 656.27 L567.90 656.16 L568.70 655.15 L569.50 655.69 L570.30 655.87 L571.10 655.66 L571.90 656.10 L572.70 655.27 L573.50 655.91 L574.30 656.30 L575.10 656.19 L575.90 656.51 L576.70 655.79 L577.50 655.35 L578.30 655.66 L579.10 656.34 L579.90 656.32 L580.70 655.63 L581.50 656.27 L582.30 656.54 L583.10 656.55 L583.90 656.62 L584.70 656.06 L585.50 656.38 L586.30 655.94 L587.10 656.28 L587.90 654.93 L588.70 655.57 L589.50 656.57 L590.30 656.72 L591.10 656.57 L591.90 656.19 L592.70 655.76 L593.50 656.12 L594.30 656.75 L595.10 656.52 L595.90 656.70 L596.70 656.38 L597.50 656.72 L598.30 656.57 L599.10 656.45 L599.90 656.79 L600.70 656.21 L601.50 656.17 L602.30 656.26 L603.10 656.15 L603.90 656.89 L604.70 656.75 L605.50 656.74 L606.30 656.44 L607.10 656.93 L607.90 656.88 L608.70 656.64 L609.50 656.05 L610.30 656.17 L611.10 656.59 L611.90 656.67 L612.70 656.37 L613.50 656.90 L614.30 656.87 L615.10 656.60 L615.90 656.67 L616.70 656.42 L617.50 656.57 L618.30 656.78 L619.10 656.60 L619.90 656.77 L620.70 655.89 L621.50 656.64 L622.30 656.14 L623.10 656.98 L623.90 657.06 L624.70 656.78 L625.50 656.67 L626.30 656.87 L627.10 656.37 L627.90 656.77 L628.70 656.83 L629.50 656.40 L630.30 657.08 L631.10 656.81 L631.90 656.86 L632.70 656.84 L633.50 656.58 L634.30 657.17 L635.10 656.81 L635.90 656.82 L636.70 656.90 L637.50 657.15 L638.30 656.90 L639.10 657.02 L639.90 656.68 L640.70 657.11 L641.50 656.97 L642.30 656.97 L643.10 656.72 L643.90 656.97 L644.70 657.28 L645.50 657.21 L646.30 657.31 L647.10 656.88 L647.90 657.12 L648.70 656.76 L649.50 656.75 L650.30 657.27 L651.10 657.07 L651.90 657.37 L652.70 657.06 L653.50 656.87 L654.30 656.84 L655.10 657.29 L655.90 657.27 L656.70 657.26 L657.50 657.34 L658.30 657.20 L659.10 657.15 L659.90 656.51 L660.70 657.27 L661.50 657.14 L662.30 657.20 L663.10 656.80 L663.90 657.13 L664.70 657.32 L665.50 657.09 L666.30 657.46 L667.10 657.00 L667.90 657.41 L668.70 657.33 L669.50 657.42 L670.30 657.50 L671.10 656.94 L671.90 657.51 L672.70 656.65 L673.50 657.35 L674.30 657.16 L675.10 656.76 L675.90 657.41 L676.70 657.29 L677.50 656.96 L678.30 656.83 L679.10 657.03 L679.90 657.24 L680.70 656.71 L681.50 657.58 L682.30 657.34 L683.10 657.48 L683.90 657.60 L684.70 657.30 L685.50 657.28 L686.30 657.25 L687.10 657.47 L687.90 657.58 L688.70 657.56 L689.50 657.30 L690.30 657.27 L691.10 657.18 L691.90 657.37 L692.70 657.63 L693.50 657.28 L694.30 657.44 L695.10 656.92 L695.90 657.12 L696.70 657.59 L697.50 657.33 L698.30 657.08 L699.10 657.24 L699.90 657.48 L700.70 657.66 L701.50 657.64 L702.30 657.46 L703.10 657.55 L703.90 657.21 L704.70 657.21 L705.50 657.73 L706.30 657.51 L707.10 657.74 L707.90 657.70 L708.70 657.75 L709.50 657.29 L710.30 657.57 L711.10 657.50 L711.90 657.67 L712.70 657.34 L713.50 657.57 L714.30 657.64 L715.10 657.78 L715.90 657.41 L716.70 657.47 L717.50 657.01 L718.30 657.28 L719.10 657.65 L719.90 657.36 L720.70 657.72 L721.50 657.20 L722.30 657.64 L723.10 657.55 L723.90 657.63 L724.70 657.70 L725.50 657.50 L726.30 657.61 L727.10 657.85 L727.90 657.73 L728.70 657.30 L729.50 657.69 L730.30 657.86 L731.10 657.47 L731.90 656.96 L732.70 657.79 L733.50 657.20 L734.30 657.23 L735.10 657.19 L735.90 657.82 L736.70 657.37 L737.50 657.82 L738.30 657.72 L739.10 657.76 L739.90 657.72 L740.70 657.90 L741.50 657.88 L742.30 657.38 L743.10 657.86 L743.90 657.80 L744.70 657.85 L745.50 657.89 L746.30 657.48 L747.10 657.56 L747.90 657.77 L748.70 657.95 L749.50 657.89 L750.30 657.62 L751.10 657.79 L751.90 657.97 L752.70 657.92 L753.50 657.86 L754.30 657.72 L755.10 657.81 L755.90 657.53 L756.70 657.42 L757.50 657.78 L758.30 657.53 L759.10 657.38 L759.90 657.24 L760.70 657.88 L761.50 657.87 L762.30 657.29 L763.10 657.75 L763.90 657.67 L764.70 657.38 L765.50 657.15 L766.30 658.01 L767.10 657.80 L767.90 657.90 L768.70 657.76 L769.50 657.96 L770.30 657.86 L771.10 657.93 L771.90 658.04 L772.70 657.86 L773.50 657.98 L774.30 657.79 L775.10 657.93 L775.90 658.01 L776.70 657.80 L777.50 657.75 L778.30 657.62 L779.10 657.74 L779.90 657.01 L780.70 657.76 L781.50 657.53 L782.30 657.73 L782.50 665.12 L781.70 664.63 L780.90 665.60 L780.10 665.08 L779.30 665.20 L778.50 664.58 L777.70 664.67 L776.90 664.75 L776.10 664.70 L775.30 664.59 L774.50 665.20 L773.70 664.63 L772.90 664.70 L772.10 664.67 L771.30 664.74 L770.50 664.84 L769.70 664.82 L768.90 664.86 L768.10 664.86 L767.30 664.82 L766.50 664.63 L765.70 664.89 L764.90 664.74 L764.10 664.88 L763.30 664.72 L762.50 664.64 L761.70 664.85 L760.90 664.79 L760.10 664.69 L759.30 664.96 L758.50 664.79 L757.70 664.72 L756.90 664.87 L756.10 665.16 L755.30 664.76 L754.50 664.83 L753.70 664.79 L752.90 665.01 L752.10 664.80 L751.30 664.75 L750.50 665.06 L749.70 664.94 L748.90 665.07 L748.10 665.28 L747.30 664.85 L746.50 665.04 L745.70 665.26 L744.90 664.76 L744.10 665.06 L743.30 664.80 L742.50 664.94 L741.70 665.39 L740.90 664.87 L740.10 665.26 L739.30 665.88 L738.50 665.01 L737.70 664.99 L736.90 665.00 L736.10 664.83 L735.30 665.16 L734.50 664.81 L733.70 664.99 L732.90 664.87 L732.10 664.93 L731.30 664.94 L730.50 664.85 L729.70 665.15 L728.90 664.84 L728.10 665.45 L727.30 665.14 L726.50 665.02 L725.70 665.21 L724.90 665.03 L724.10 664.90 L723.30 664.85 L722.50 665.39 L721.70 665.30 L720.90 665.01 L720.10 665.29 L719.30 664.95 L718.50 665.28 L717.70 665.05 L716.90 665.57 L716.10 664.91 L715.30 665.64 L714.50 665.30 L713.70 664.91 L712.90 665.01 L712.10 665.14 L711.30 665.02 L710.50 665.41 L709.70 665.37 L708.90 665.32 L708.10 665.02 L707.30 665.25 L706.50 665.02 L705.70 665.04 L704.90 664.94 L704.10 665.02 L703.30 665.23 L702.50 665.00 L701.70 665.17 L700.90 665.07 L700.10 665.14 L699.30 665.12 L698.50 665.01 L697.70 665.35 L696.90 665.16 L696.10 665.07 L695.30 665.15 L694.50 665.10 L693.70 665.09 L692.90 665.40 L692.10 665.48 L691.30 665.31 L690.50 665.41 L689.70 665.56 L688.90 665.18 L688.10 665.04 L687.30 665.40 L686.50 665.16 L685.70 665.05 L684.90 665.13 L684.10 665.76 L683.30 665.11 L682.50 665.25 L681.70 665.12 L680.90 665.53 L680.10 665.71 L679.30 665.86 L678.50 665.60 L677.70 665.38 L676.90 665.24 L676.10 665.68 L675.30 665.12 L674.50 665.73 L673.70 665.96 L672.90 665.36 L672.10 665.18 L671.30 665.64 L670.50 665.23 L669.70 665.97 L668.90 665.61 L668.10 665.33 L667.30 665.54 L666.50 665.10 L665.70 665.50 L664.90 665.80 L664.10 665.80 L663.30 665.80 L662.50 665.24 L661.70 665.44 L660.90 665.74 L660.10 665.42 L659.30 665.48 L658.50 665.28 L657.70 665.21 L656.90 665.33 L656.10 665.62 L655.30 665.30 L654.50 666.31 L653.70 665.76 L652.90 665.31 L652.10 665.72 L651.30 665.44 L650.50 665.69 L649.70 665.97 L648.90 665.22 L648.10 665.33 L647.30 665.48 L646.50 665.36 L645.70 665.51 L644.90 665.62 L644.10 665.69 L643.30 665.42 L642.50 665.80 L641.70 665.50 L640.90 665.57 L640.10 665.92 L639.30 665.31 L638.50 665.83 L637.70 665.45 L636.90 665.91 L636.10 665.57 L635.30 665.99 L634.50 665.54 L633.70 665.39 L632.90 665.97 L632.10 665.37 L631.30 666.04 L630.50 665.46 L629.70 665.61 L628.90 665.68 L628.10 665.96 L627.30 665.72 L626.50 665.51 L625.70 665.42 L624.90 665.79 L624.10 665.59 L623.30 665.41 L622.50 665.56 L621.70 665.69 L620.90 665.46 L620.10 665.43 L619.30 665.53 L618.50 665.70 L617.70 665.60 L616.90 665.63 L616.10 665.51 L615.30 665.74 L614.50 665.78 L613.70 665.72 L612.90 665.55 L612.10 666.12 L611.30 665.63 L610.50 665.47 L609.70 665.56 L608.90 665.79 L608.10 665.50 L607.30 665.75 L606.50 665.71 L605.70 665.81 L604.90 665.58 L604.10 665.72 L603.30 665.79 L602.50 665.85 L601.70 665.55 L600.90 665.72 L600.10 665.71 L599.30 665.70 L598.50 665.80 L597.70 666.21 L596.90 665.51 L596.10 665.57 L595.30 666.17 L594.50 666.40 L593.70 666.05 L592.90 665.74 L592.10 665.68 L591.30 665.60 L590.50 665.78 L589.70 665.59 L588.90 665.62 L588.10 665.97 L587.30 665.99 L586.50 665.68 L585.70 665.60 L584.90 666.23 L584.10 666.04 L583.30 666.52 L582.50 665.85 L581.70 666.20 L580.90 665.80 L580.10 665.72 L579.30 665.75 L578.50 665.62 L577.70 666.05 L576.90 665.76 L576.10 665.56 L575.30 666.54 L574.50 666.07 L573.70 666.96 L572.90 665.99 L572.10 665.97 L571.30 665.88 L570.50 666.13 L569.70 665.80 L568.90 665.64 L568.10 666.11 L567.30 666.61 L566.50 665.73 L565.70 666.26 L564.90 666.17 L564.10 666.66 L563.30 666.32 L562.50 665.91 L561.70 665.72 L560.90 666.23 L560.10 665.69 L559.30 665.83 L558.50 666.54 L557.70 665.88 L556.90 665.81 L556.10 665.92 L555.30 666.38 L554.50 665.91 L553.70 666.29 L552.90 665.89 L552.10 666.01 L551.30 665.77 L550.50 666.31 L549.70 666.59 L548.90 665.93 L548.10 666.27 L547.30 666.48 L546.50 666.36 L545.70 667.50 L544.90 666.16 L544.10 666.31 L543.30 666.48 L542.50 666.27 L541.70 666.29 L540.90 666.28 L540.10 666.48 L539.30 666.61 L538.50 666.90 L537.70 668.13 L536.90 666.44 L536.10 666.68 L535.30 667.17 L534.50 667.11 L533.70 667.27 L532.90 667.04 L532.10 667.43 L531.30 668.22 L530.50 667.15 L529.70 668.09 L528.90 668.17 L528.10 668.38 L527.30 667.56 L526.50 668.06 L525.70 667.98 L524.90 668.12 L524.10 667.84 L523.30 667.87 L522.50 668.43 L521.70 667.93 L520.90 668.35 L520.10 668.28 L519.30 669.88 L518.50 669.00 L517.70 668.57 L516.90 669.33 L516.10 669.75 L515.30 669.56 L514.50 670.13 L513.70 669.55 L512.90 669.06 L512.10 669.25 L511.30 669.97 L510.50 670.39 L509.70 670.73 L508.90 669.75 L508.10 670.25 L507.30 672.01 L506.50 670.83 L505.70 671.24 L504.90 672.47 L504.10 672.66 L503.30 672.67 L502.50 673.07 L501.70 675.42 L500.90 673.89 L500.10 675.41 L499.30 675.84 L498.50 675.13 L497.70 674.98 L496.90 676.91 L496.10 676.42 L495.30 677.75 L494.50 676.89 L492.50 680.50 L490.40 686.00 L487.60 697.00 L484.20 712.00Z" fill="#2ca02c" stroke="#2ca02c" stroke-width="0.50"/>
<path d="M487.10 635.00 L488.50 633.00 L488.80 595.00 L489.40 593.10 L491.10 593.10 L491.70 595.00 L491.90 607.90 L493.40 608.30 L493.90 612.00 L493.90 635.00Z" fill="#2ca02c" stroke="none"/>
<path d="M136.47 911.17 L137.48 911.18 L138.52 911.06 L139.47 910.96 L140.41 910.85 L141.35 910.74 L142.30 910.63 L143.24 910.53 L144.18 910.43 L145.12 910.32 L146.07 910.22 L147.01 910.12 L147.95 910.02 L148.89 909.92 L149.84 909.82 L150.78 909.72 L151.72 909.63 L152.67 909.53 L153.61 909.44 L154.55 909.34 L155.49 909.25 L156.44 909.16 L157.38 909.07 L158.32 908.98 L159.26 908.89 L160.21 908.80 L161.15 908.71 L162.09 908.63 L163.03 908.54 L163.98 908.45 L164.92 908.37 L165.86 908.29 L166.80 908.20 L167.75 908.12 L168.69 908.04 L169.63 907.96 L170.57 907.88 L171.51 907.80 L172.46 907.72 L173.40 907.64 L174.34 907.56 L175.28 907.49 L176.23 907.41 L177.17 907.33 L178.11 907.26 L179.05 907.18 L180.00 907.11 L180.94 907.04 L181.88 906.96 L182.82 906.89 L183.76 906.82 L184.71 906.75 L185.65 906.68 L186.59 906.61 L187.53 906.54 L188.48 906.47 L189.42 906.40 L190.36 906.33 L191.30 906.27 L192.24 906.20 L193.19 906.13 L194.13 906.07 L195.07 906.00 L196.01 905.94 L196.95 905.87 L197.90 905.81 L198.84 905.74 L199.78 905.68 L200.72 905.62 L201.66 905.55 L202.61 905.49 L203.55 905.43 L204.49 905.36 L205.43 905.30 L206.37 905.24 L207.32 905.18 L208.26 905.12 L209.20 905.06 L210.14 905.00 L211.08 904.94 L212.03 904.88 L212.97 904.82 L213.91 904.76 L214.85 904.70 L215.79 904.64 L216.74 904.58 L217.68 904.52 L218.62 904.46 L219.56 904.40 L220.50 904.35 L221.44 904.29 L222.39 904.23 L223.33 904.17 L224.27 904.11 L225.21 904.06 L226.15 904.00 L227.10 903.94 L228.04 903.88 L228.98 903.83 L229.92 903.77 L230.86 903.71 L231.80 903.65 L232.75 903.59 L233.69 903.54 L234.63 903.48 L235.57 903.42 L236.51 903.36 L237.45 903.31 L238.40 903.25 L239.34 903.19 L240.28 903.13 L241.22 903.07 L242.16 903.02 L243.10 902.96 L244.05 902.90 L244.99 902.84 L245.93 902.78 L246.87 902.72 L247.81 902.66 L248.75 902.60 L249.70 902.54 L250.64 902.48 L251.58 902.42 L252.52 902.36 L253.46 902.30 L254.40 902.24 L255.34 902.18 L256.29 902.12 L257.23 902.06 L258.17 902.00 L259.11 901.93 L260.05 901.87 L261.00 901.81 L261.94 901.74 L262.88 901.68 L263.82 901.61 L264.76 901.54 L265.70 901.48 L266.64 901.41 L267.59 901.34 L268.53 901.28 L269.47 901.21 L270.41 901.14 L271.35 901.07 L272.29 901.00 L273.23 900.93 L274.18 900.86 L275.12 900.79 L276.06 900.72 L277.00 900.65 L277.94 900.57 L278.88 900.50 L279.82 900.43 L280.76 900.35 L281.71 900.28 L282.65 900.20 L283.59 900.13 L284.53 900.05 L285.47 899.97 L286.41 899.89 L287.35 899.82 L288.29 899.74 L289.24 899.66 L290.18 899.58 L291.12 899.50 L292.06 899.41 L293.00 899.33 L293.94 899.25 L294.88 899.16 L295.82 899.08 L296.77 899.00 L297.71 898.91 L298.65 898.82 L299.59 898.73 L300.52 898.65 L301.46 898.57 L302.40 898.48 L303.34 898.40 L304.28 898.31 L305.23 898.23 L306.17 898.14 L307.11 898.05 L308.05 897.96 L308.99 897.87 L309.93 897.78 L310.87 897.69 L311.81 897.60 L312.75 897.50 L313.70 897.41 L314.64 897.31 L315.58 897.22 L316.52 897.12 L317.46 897.02 L318.40 896.92 L319.34 896.82 L320.28 896.72 L321.22 896.62 L322.16 896.51 L323.10 896.41 L324.05 896.30 L324.99 896.20 L325.93 896.09 L326.87 895.98 L327.81 895.87 L328.75 895.76 L329.69 895.65 L330.63 895.53 L331.57 895.42 L332.51 895.30 L333.45 895.19 L334.40 895.07 L335.34 894.95 L336.28 894.83 L337.22 894.71 L338.16 894.59 L339.10 894.46 L340.04 894.34 L340.98 894.21 L341.92 894.08 L342.86 893.95 L343.80 893.82 L344.74 893.69 L345.69 893.56 L346.63 893.43 L347.57 893.29 L348.51 893.15 L349.45 893.02 L350.39 892.88 L351.33 892.74 L352.27 892.59 L353.21 892.45 L354.15 892.30 L355.09 892.15 L356.03 892.00 L356.97 891.85 L357.91 891.70 L358.85 891.54 L359.79 891.39 L360.73 891.23 L361.67 891.06 L362.61 890.90 L363.55 890.73 L364.49 890.57 L365.42 890.39 L366.36 890.22 L367.30 890.04 L368.23 889.87 L369.17 889.68 L370.10 889.50 L371.04 889.31 L371.97 889.12 L372.90 888.93 L373.84 888.73 L374.77 888.54 L375.70 888.33 L376.63 888.13 L377.56 887.92 L378.49 887.71 L379.42 887.50 L380.35 887.28 L381.28 887.05 L382.20 886.83 L383.13 886.59 L384.05 886.36 L384.97 886.12 L385.89 885.88 L386.81 885.63 L387.73 885.38 L388.65 885.13 L389.57 884.87 L390.49 884.61 L391.40 884.34 L392.31 884.07 L393.23 883.80 L394.14 883.52 L395.05 883.24 L395.96 882.95 L396.86 882.66 L397.77 882.37 L398.67 882.07 L399.58 881.76 L400.48 881.46 L401.38 881.15 L402.28 880.83 L403.17 880.51 L404.07 880.19 L404.96 879.86 L405.86 879.53 L406.75 879.19 L407.63 878.85 L408.52 878.50 L409.41 878.16 L410.29 877.80 L411.17 877.44 L412.05 877.08 L412.93 876.72 L413.80 876.35 L414.68 875.97 L415.55 875.59 L416.42 875.21 L417.29 874.82 L418.16 874.43 L419.02 874.03 L419.88 873.63 L420.74 873.22 L421.60 872.81 L422.45 872.40 L423.31 871.98 L424.16 871.56 L425.01 871.13 L425.86 870.70 L426.70 870.26 L427.54 869.82 L428.38 869.37 L429.22 868.92 L430.05 868.47 L430.88 868.00 L431.71 867.54 L432.54 867.07 L433.36 866.59 L434.18 866.11 L435.00 865.62 L435.83 865.13 L436.65 864.63 L437.47 864.12 L438.28 863.61 L439.10 863.09 L439.90 862.56 L440.70 862.03 L441.50 861.50 L442.30 860.95 L443.09 860.40 L443.87 859.84 L444.65 859.28 L445.42 858.71 L446.16 858.16 L446.89 857.65 L447.65 857.12 L448.40 856.58 L449.15 856.03 L449.89 855.48 L450.63 854.91 L451.36 854.34 L452.08 853.76 L452.80 853.17 L453.51 852.57 L454.22 851.96 L454.92 851.35 L455.61 850.72 L456.30 850.09 L456.97 849.45 L457.64 848.80 L458.30 848.16 L458.96 847.50 L459.60 846.83 L460.25 846.15 L460.88 845.46 L461.48 844.76 L462.08 844.06 L462.67 843.35 L463.25 842.63 L463.82 841.91 L464.38 841.18 L464.93 840.44 L465.47 839.69 L466.01 838.93 L466.53 838.17 L467.05 837.40 L467.56 836.61 L468.08 835.75 L468.58 834.82 L469.05 833.91 L469.52 833.00 L469.97 832.09 L470.41 831.17 L470.85 830.24 L471.27 829.32 L471.68 828.39 L472.08 827.46 L472.47 826.52 L472.85 825.58 L473.22 824.64 L473.58 823.70 L473.93 822.76 L474.26 821.81 L474.59 820.86 L474.91 819.90 L475.22 818.92 L475.52 817.92 L475.81 816.92 L476.10 815.93 L476.37 814.93 L476.63 813.94 L476.89 812.94 L477.14 811.94 L477.38 810.95 L477.61 809.95 L477.84 808.95 L478.06 807.96 L478.27 806.96 L478.48 805.96 L478.68 804.97 L478.88 803.97 L479.07 802.98 L479.25 801.98 L479.43 800.99 L479.60 800.00 L479.77 799.00 L479.93 798.01 L480.09 797.02 L480.25 796.03 L480.40 795.04 L480.54 794.05 L480.69 793.06 L480.83 792.08 L480.96 791.09 L481.10 790.11 L481.23 789.12 L481.36 788.14 L481.48 787.16 L481.61 786.18 L481.73 785.20 L481.85 784.22 L481.96 783.24 L482.07 782.27 L482.18 781.31 L482.29 780.37 L482.40 779.42 L482.50 778.48 L482.60 777.53 L482.70 776.59 L482.80 775.64 L482.89 774.70 L482.99 773.76 L483.08 772.81 L483.17 771.87 L483.25 770.92 L483.34 769.98 L483.42 769.03 L483.51 768.09 L483.59 767.15 L483.66 766.20 L483.74 765.26 L483.82 764.31 L483.89 763.37 L483.96 762.43 L484.03 761.48 L484.10 760.53 L484.16 759.57 L484.21 758.62 L484.25 757.68 L484.30 756.74 L484.34 755.79 L484.39 754.85 L484.43 753.91 L484.47 752.97 L484.51 752.02 L484.55 751.08 L484.59 750.14 L484.62 749.19 L484.66 748.25 L484.70 747.31 L484.73 746.37 L484.76 745.43 L484.80 744.49 L484.84 743.55 L484.88 742.61 L484.92 741.67 L484.96 740.73 L485.00 739.78 L485.04 738.84 L485.08 737.90 L485.12 736.96 L485.16 736.02 L485.19 735.08 L485.23 734.13 L485.27 733.19 L485.31 732.25 L485.35 731.31 L485.39 730.37 L485.43 729.43 L485.47 728.49 L485.50 727.55 L485.55 726.61 L485.59 725.67 L485.63 724.73 L485.67 723.79 L485.71 722.85 L485.76 721.91 L485.80 720.97 L485.85 720.02 L485.88 719.08 L485.92 718.14 L485.96 717.20 L486.01 716.26 L486.05 715.32 L486.09 714.38 L486.14 713.44 L486.18 712.51 L486.23 711.57 L486.28 710.63 L486.33 709.69 L486.38 708.76 L486.44 707.82 L486.49 706.88 L486.55 705.95 L486.61 705.01 L486.67 704.07 L486.73 703.14 L486.80 702.20 L486.86 701.26 L486.93 700.33 L487.00 699.39 L487.07 698.46 L487.15 697.52 L487.23 696.59 L487.31 695.65 L487.39 694.72 L487.47 693.79 L487.56 692.85 L487.65 691.92 L487.74 690.99 L487.83 690.05 L487.93 689.12 L488.03 688.19 L488.13 687.26 L488.24 686.32 L488.34 685.39 L488.46 684.46 L488.57 683.53 L488.69 682.60 L488.81 681.67 L488.93 680.74 L489.06 679.81 L489.19 678.88 L489.32 677.95 L489.46 677.02 L489.60 676.09 L489.74 675.16 L489.89 674.23 L490.04 673.31 L490.19 672.38 L490.35 671.45 L490.51 670.52 L490.68 669.60 L490.85 668.67 L491.02 667.75 L491.20 666.82 L491.38 665.89 L491.57 664.97 L491.76 664.04 L491.95 663.12 L492.15 662.20 L492.35 661.27 L492.55 660.37 L492.79 659.48 L493.04 658.55 L493.30 657.63 L493.56 656.71 L493.82 655.79 L494.09 654.87 L494.37 653.96 L494.65 653.04 L494.93 652.13 L495.23 651.22 L495.52 650.32 L495.83 649.41 L496.14 648.51 L496.45 647.61 L496.78 646.72 L497.11 645.83 L497.44 644.94 L497.79 644.06 L498.14 643.18 L498.50 642.31 L498.86 641.44 L499.23 640.58 L499.62 639.73 L500.02 638.87 L500.42 638.03 L500.84 637.18 L501.26 636.35 L501.69 635.52 L502.13 634.69 L502.58 633.88 L503.04 633.07 L503.50 632.26 L503.98 631.47 L504.46 630.68 L504.96 629.90 L505.46 629.13 L505.98 628.36 L506.50 627.61 L507.04 626.86 L507.58 626.12 L508.13 625.39 L508.70 624.68 L509.29 623.97 L509.88 623.26 L510.49 622.56 L511.11 621.87 L511.74 621.19 L512.37 620.51 L513.02 619.84 L513.68 619.19 L514.34 618.53 L515.01 617.89 L515.68 617.26 L516.35 616.68 L517.04 616.11 L517.73 615.54 L518.41 614.99 L519.10 614.44 L519.80 613.91 L520.51 613.38 L521.22 612.85 L521.94 612.34 L522.67 611.83 L523.41 611.33 L524.15 610.84 L524.90 610.36 L525.67 609.87 L526.45 609.37 L527.22 608.88 L527.99 608.40 L528.77 607.93 L529.55 607.46 L530.34 607.00 L531.14 606.55 L531.93 606.10 L532.74 605.66 L533.55 605.23 L534.36 604.80 L535.17 604.38 L535.99 603.96 L536.81 603.56 L537.64 603.15 L538.47 602.76 L539.30 602.37 L540.14 601.98 L540.99 601.59 L541.84 601.20 L542.68 600.82 L543.52 600.44 L544.37 600.07 L545.22 599.71 L546.07 599.35 L546.92 598.99 L547.78 598.65 L548.64 598.30 L549.50 597.97 L550.36 597.63 L551.22 597.31 L552.09 596.99 L552.96 596.67 L553.83 596.36 L554.70 596.05 L555.57 595.75 L556.44 595.46 L557.32 595.17 L558.20 594.89 L559.08 594.61 L559.96 594.34 L560.85 594.07 L561.73 593.81 L562.62 593.55 L563.51 593.30 L564.40 593.05 L565.30 592.80 L566.19 592.56 L567.09 592.33 L567.98 592.10 L568.90 591.86 L569.84 591.61 L570.76 591.34 L571.67 591.07 L572.57 590.81 L573.48 590.56 L574.39 590.31 L575.30 590.06 L576.21 589.82 L577.12 589.58 L578.04 589.34 L578.95 589.11 L579.87 588.88 L580.78 588.65 L581.70 588.43 L582.62 588.21 L583.54 587.99 L584.46 587.78 L585.39 587.57 L586.31 587.36 L587.24 587.16 L588.16 586.96 L589.09 586.76 L590.02 586.57 L590.95 586.37 L591.88 586.19 L592.81 586.00 L593.74 585.82 L594.67 585.63 L595.60 585.46 L596.54 585.28 L597.47 585.11 L598.40 584.94 L599.33 584.78 L600.26 584.62 L601.20 584.46 L602.14 584.31 L603.08 584.16 L604.02 584.01 L604.96 583.86 L605.90 583.71 L606.84 583.57 L607.78 583.43 L608.72 583.29 L609.66 583.15 L610.60 583.01 L611.54 582.88 L612.48 582.74 L613.43 582.61 L614.37 582.48 L615.31 582.35 L616.26 582.22 L617.20 582.09 L618.14 581.97 L619.09 581.84 L620.03 581.72 L620.97 581.60 L621.92 581.48 L622.86 581.36 L623.81 581.24 L624.75 581.12 L625.69 581.00 L626.64 580.88 L627.59 580.76 L628.54 580.63 L629.49 580.51 L630.43 580.38 L631.37 580.25 L632.31 580.13 L633.26 580.01 L634.20 579.88 L635.14 579.76 L636.08 579.64 L637.02 579.52 L637.97 579.39 L638.91 579.27 L639.85 579.15 L640.78 579.04 L641.71 578.92 L642.65 578.82 L643.59 578.71 L644.53 578.60 L645.47 578.50 L646.41 578.39 L647.35 578.29 L648.29 578.18 L649.23 578.08 L650.17 577.98 L651.11 577.88 L652.05 577.78 L652.98 577.67 L653.92 577.57 L654.86 577.47 L655.80 577.38 L656.74 577.28 L657.67 577.18 L658.61 577.08 L659.55 576.99 L660.48 576.89 L661.41 576.81 L662.35 576.72 L663.28 576.64 L664.22 576.56 L665.16 576.47 L666.09 576.39 L667.03 576.31 L667.97 576.23 L668.91 576.15 L669.84 576.07 L670.78 575.99 L671.72 575.91 L672.65 575.83 L673.59 575.75 L674.53 575.68 L675.46 575.60 L676.40 575.52 L677.34 575.45 L678.27 575.37 L679.21 575.30 L680.14 575.23 L681.08 575.15 L682.02 575.08 L682.95 575.01 L683.89 574.94 L684.83 574.87 L685.76 574.80 L686.70 574.73 L687.64 574.66 L688.57 574.60 L689.51 574.53 L690.44 574.46 L691.38 574.40 L692.32 574.33 L693.25 574.27 L694.19 574.20 L695.13 574.14 L696.06 574.08 L697.00 574.01 L697.94 573.95 L698.87 573.89 L699.81 573.83 L700.75 573.77 L701.68 573.71 L702.62 573.65 L703.56 573.59 L704.50 573.54 L705.43 573.48 L706.37 573.42 L707.31 573.37 L708.25 573.31 L709.18 573.26 L710.12 573.21 L711.06 573.15 L712.00 573.10 L712.93 573.05 L713.87 573.00 L714.81 572.95 L715.75 572.90 L716.69 572.85 L717.63 572.80 L718.57 572.75 L719.50 572.70 L720.44 572.66 L721.38 572.61 L722.32 572.56 L723.26 572.52 L724.20 572.47 L725.14 572.43 L726.08 572.39 L727.02 572.35 L727.96 572.30 L728.90 572.26 L729.84 572.22 L730.78 572.18 L731.73 572.14 L732.67 572.10 L733.61 572.06 L734.55 572.03 L735.49 571.99 L736.43 571.95 L737.38 571.92 L738.32 571.88 L739.26 571.85 L740.22 571.81 L741.18 571.76 L742.12 571.71 L743.07 571.66 L744.01 571.62 L744.95 571.57 L745.90 571.52 L746.84 571.48 L747.79 571.43 L748.73 571.39 L749.68 571.35 L750.62 571.30 L751.57 571.26 L752.52 571.22 L753.46 571.18 L754.41 571.14 L755.36 571.10 L756.31 571.06 L757.25 571.02 L758.20 570.98 L759.15 570.94 L760.10 570.91 L761.05 570.87 L762.00 570.83 L762.95 570.80 L763.90 570.76 L764.85 570.73 L765.80 570.70 L766.75 570.66 L767.70 570.63 L768.65 570.60 L769.61 570.57 L770.57 570.54 L771.52 570.50 L772.48 570.46 L773.43 570.43 L774.38 570.39 L775.34 570.35 L776.29 570.32 L777.25 570.29 L778.20 570.25 L779.16 570.22 L780.11 570.19 L781.13 570.15 L782.07 570.06 L781.73 566.34 L780.89 566.42 L779.99 566.45 L779.03 566.48 L778.07 566.52 L777.11 566.56 L776.15 566.59 L775.20 566.63 L774.24 566.67 L773.28 566.71 L772.33 566.74 L771.37 566.78 L770.42 566.82 L769.48 566.86 L768.52 566.89 L767.57 566.93 L766.62 566.96 L765.66 567.00 L764.71 567.03 L763.76 567.07 L762.81 567.11 L761.85 567.15 L760.90 567.18 L759.95 567.22 L759.00 567.26 L758.05 567.30 L757.10 567.34 L756.15 567.38 L755.20 567.43 L754.25 567.47 L753.30 567.51 L752.35 567.56 L751.40 567.60 L750.45 567.65 L749.51 567.69 L748.56 567.74 L747.61 567.78 L746.66 567.83 L745.72 567.88 L744.77 567.93 L743.82 567.98 L742.88 568.03 L741.93 568.08 L740.99 568.13 L740.05 568.18 L739.12 568.22 L738.18 568.26 L737.23 568.29 L736.29 568.33 L735.35 568.37 L734.40 568.41 L733.46 568.45 L732.51 568.49 L731.57 568.53 L730.63 568.58 L729.68 568.62 L728.74 568.66 L727.80 568.71 L726.85 568.75 L725.91 568.80 L724.97 568.84 L724.03 568.89 L723.09 568.94 L722.14 568.98 L721.20 569.03 L720.26 569.08 L719.32 569.13 L718.38 569.18 L717.44 569.23 L716.50 569.28 L715.56 569.34 L714.62 569.39 L713.67 569.44 L712.73 569.50 L711.79 569.55 L710.85 569.61 L709.91 569.66 L708.97 569.72 L708.03 569.77 L707.09 569.83 L706.15 569.89 L705.22 569.95 L704.28 570.01 L703.34 570.07 L702.40 570.13 L701.46 570.19 L700.52 570.25 L699.58 570.31 L698.64 570.38 L697.70 570.44 L696.76 570.51 L695.82 570.57 L694.89 570.64 L693.95 570.70 L693.01 570.77 L692.07 570.84 L691.13 570.90 L690.19 570.97 L689.25 571.04 L688.32 571.11 L687.38 571.18 L686.44 571.25 L685.50 571.32 L684.56 571.40 L683.62 571.47 L682.69 571.54 L681.75 571.62 L680.81 571.69 L679.87 571.77 L678.93 571.84 L677.99 571.92 L677.05 572.00 L676.12 572.08 L675.18 572.15 L674.24 572.23 L673.30 572.31 L672.36 572.39 L671.42 572.47 L670.48 572.55 L669.55 572.64 L668.61 572.72 L667.67 572.80 L666.73 572.89 L665.79 572.97 L664.85 573.06 L663.91 573.14 L662.97 573.23 L662.03 573.32 L661.09 573.40 L660.15 573.49 L659.20 573.59 L658.26 573.69 L657.32 573.79 L656.38 573.89 L655.44 573.99 L654.50 574.09 L653.56 574.19 L652.62 574.30 L651.68 574.40 L650.74 574.50 L649.80 574.61 L648.85 574.71 L647.91 574.82 L646.97 574.93 L646.03 575.03 L645.09 575.14 L644.15 575.25 L643.21 575.36 L642.26 575.47 L641.32 575.58 L640.37 575.70 L639.42 575.82 L638.48 575.94 L637.53 576.07 L636.59 576.19 L635.65 576.31 L634.70 576.44 L633.76 576.56 L632.82 576.69 L631.87 576.82 L630.93 576.94 L629.98 577.07 L629.04 577.20 L628.10 577.33 L627.16 577.46 L626.22 577.58 L625.28 577.70 L624.33 577.82 L623.39 577.94 L622.44 578.07 L621.49 578.19 L620.55 578.32 L619.60 578.44 L618.65 578.57 L617.70 578.69 L616.76 578.82 L615.81 578.95 L614.86 579.08 L613.92 579.22 L612.97 579.35 L612.02 579.49 L611.07 579.62 L610.13 579.76 L609.18 579.90 L608.23 580.05 L607.28 580.19 L606.34 580.33 L605.39 580.48 L604.45 580.63 L603.50 580.78 L602.56 580.94 L601.61 581.09 L600.67 581.25 L599.72 581.41 L598.78 581.57 L597.83 581.74 L596.88 581.91 L595.94 582.09 L594.99 582.27 L594.05 582.45 L593.11 582.64 L592.17 582.83 L591.23 583.02 L590.29 583.21 L589.36 583.41 L588.42 583.61 L587.48 583.81 L586.55 584.01 L585.61 584.22 L584.68 584.43 L583.74 584.65 L582.81 584.86 L581.88 585.09 L580.95 585.31 L580.02 585.54 L579.09 585.77 L578.16 586.01 L577.24 586.25 L576.31 586.49 L575.39 586.73 L574.46 586.98 L573.54 587.24 L572.62 587.49 L571.70 587.76 L570.78 588.02 L569.87 588.29 L568.97 588.56 L568.09 588.80 L567.20 589.03 L566.28 589.27 L565.37 589.51 L564.46 589.76 L563.56 590.01 L562.65 590.26 L561.74 590.52 L560.84 590.79 L559.94 591.06 L559.04 591.33 L558.14 591.61 L557.24 591.90 L556.35 592.18 L555.45 592.48 L554.55 592.79 L553.66 593.10 L552.78 593.41 L551.89 593.73 L551.01 594.05 L550.12 594.38 L549.24 594.72 L548.36 595.06 L547.49 595.41 L546.61 595.76 L545.74 596.12 L544.87 596.48 L544.00 596.85 L543.13 597.23 L542.27 597.61 L541.40 597.99 L540.54 598.39 L539.69 598.78 L538.85 599.17 L538.00 599.57 L537.15 599.97 L536.30 600.38 L535.45 600.79 L534.61 601.21 L533.77 601.64 L532.93 602.07 L532.10 602.52 L531.27 602.96 L530.44 603.42 L529.62 603.88 L528.81 604.35 L527.99 604.83 L527.19 605.31 L526.38 605.80 L525.59 606.30 L524.80 606.80 L524.03 607.30 L523.26 607.79 L522.48 608.29 L521.71 608.80 L520.95 609.32 L520.19 609.85 L519.44 610.39 L518.70 610.93 L517.96 611.48 L517.23 612.05 L516.51 612.61 L515.80 613.19 L515.10 613.77 L514.38 614.36 L513.64 615.01 L512.92 615.68 L512.22 616.35 L511.53 617.03 L510.85 617.72 L510.18 618.41 L509.51 619.12 L508.86 619.83 L508.21 620.55 L507.58 621.28 L506.95 622.02 L506.33 622.77 L505.73 623.53 L505.15 624.30 L504.58 625.07 L504.02 625.86 L503.47 626.65 L502.93 627.45 L502.40 628.26 L501.89 629.07 L501.38 629.89 L500.89 630.72 L500.40 631.56 L499.92 632.40 L499.46 633.25 L499.00 634.10 L498.56 634.96 L498.12 635.83 L497.69 636.70 L497.27 637.57 L496.86 638.46 L496.45 639.35 L496.07 640.24 L495.69 641.14 L495.32 642.04 L494.96 642.94 L494.61 643.85 L494.26 644.76 L493.92 645.67 L493.59 646.59 L493.27 647.51 L492.95 648.43 L492.64 649.36 L492.33 650.28 L492.04 651.21 L491.74 652.14 L491.46 653.08 L491.18 654.01 L490.90 654.94 L490.63 655.88 L490.37 656.81 L490.11 657.75 L489.85 658.69 L489.60 659.65 L489.38 660.61 L489.18 661.55 L488.98 662.49 L488.78 663.43 L488.59 664.36 L488.40 665.30 L488.21 666.24 L488.03 667.18 L487.86 668.12 L487.69 669.06 L487.52 670.00 L487.35 670.93 L487.19 671.87 L487.04 672.81 L486.89 673.75 L486.74 674.69 L486.59 675.63 L486.45 676.57 L486.31 677.51 L486.18 678.45 L486.05 679.39 L485.92 680.33 L485.79 681.27 L485.67 682.22 L485.55 683.16 L485.44 684.10 L485.33 685.04 L485.22 685.98 L485.11 686.92 L485.01 687.86 L484.91 688.80 L484.81 689.74 L484.71 690.69 L484.62 691.63 L484.53 692.57 L484.44 693.51 L484.36 694.45 L484.28 695.39 L484.20 696.34 L484.12 697.28 L484.04 698.22 L483.97 699.16 L483.90 700.10 L483.83 701.05 L483.76 701.99 L483.70 702.93 L483.64 703.87 L483.58 704.82 L483.52 705.76 L483.46 706.70 L483.40 707.64 L483.35 708.58 L483.30 709.53 L483.25 710.47 L483.20 711.41 L483.15 712.35 L483.10 713.30 L483.06 714.24 L483.01 715.18 L482.97 716.12 L482.93 717.07 L482.89 718.01 L482.85 718.95 L482.81 719.89 L482.76 720.82 L482.72 721.77 L482.68 722.71 L482.63 723.65 L482.59 724.59 L482.55 725.53 L482.51 726.48 L482.47 727.42 L482.43 728.36 L482.39 729.30 L482.35 730.24 L482.31 731.19 L482.27 732.13 L482.23 733.07 L482.19 734.01 L482.16 734.95 L482.12 735.89 L482.08 736.83 L482.04 737.78 L482.00 738.72 L481.96 739.66 L481.92 740.60 L481.89 741.54 L481.85 742.48 L481.81 743.42 L481.77 744.36 L481.73 745.31 L481.69 746.26 L481.66 747.20 L481.62 748.14 L481.59 749.08 L481.55 750.02 L481.51 750.96 L481.47 751.90 L481.43 752.84 L481.39 753.78 L481.35 754.71 L481.31 755.65 L481.26 756.59 L481.22 757.53 L481.17 758.47 L481.12 759.40 L481.07 760.33 L481.00 761.26 L480.93 762.20 L480.86 763.14 L480.78 764.08 L480.71 765.01 L480.63 765.95 L480.56 766.89 L480.48 767.83 L480.40 768.77 L480.31 769.71 L480.23 770.65 L480.14 771.58 L480.05 772.52 L479.96 773.46 L479.87 774.40 L479.78 775.34 L479.68 776.27 L479.58 777.21 L479.48 778.15 L479.38 779.09 L479.27 780.03 L479.16 780.97 L479.05 781.92 L478.94 782.89 L478.83 783.86 L478.71 784.83 L478.59 785.80 L478.47 786.78 L478.34 787.75 L478.22 788.73 L478.09 789.70 L477.95 790.68 L477.82 791.65 L477.68 792.63 L477.54 793.61 L477.39 794.59 L477.24 795.57 L477.09 796.54 L476.93 797.52 L476.77 798.50 L476.60 799.48 L476.43 800.46 L476.26 801.44 L476.08 802.42 L475.89 803.40 L475.70 804.38 L475.50 805.35 L475.30 806.33 L475.09 807.31 L474.87 808.29 L474.65 809.26 L474.42 810.24 L474.19 811.22 L473.94 812.19 L473.69 813.17 L473.43 814.14 L473.17 815.11 L472.89 816.09 L472.61 817.06 L472.32 818.02 L472.02 818.96 L471.71 819.88 L471.40 820.80 L471.07 821.72 L470.73 822.64 L470.38 823.55 L470.03 824.46 L469.66 825.37 L469.28 826.27 L468.90 827.17 L468.50 828.07 L468.09 828.97 L467.67 829.86 L467.24 830.75 L466.80 831.64 L466.35 832.52 L465.89 833.40 L465.44 834.25 L464.99 835.00 L464.51 835.73 L464.02 836.46 L463.52 837.19 L463.00 837.92 L462.48 838.63 L461.95 839.34 L461.42 840.04 L460.87 840.74 L460.31 841.43 L459.75 842.11 L459.18 842.78 L458.60 843.44 L458.02 844.08 L457.41 844.73 L456.79 845.36 L456.16 846.00 L455.52 846.62 L454.87 847.25 L454.22 847.87 L453.56 848.48 L452.90 849.08 L452.22 849.67 L451.54 850.25 L450.86 850.83 L450.17 851.40 L449.47 851.96 L448.77 852.51 L448.06 853.05 L447.34 853.59 L446.62 854.12 L445.89 854.64 L445.16 855.16 L444.39 855.69 L443.61 856.27 L442.86 856.83 L442.10 857.37 L441.33 857.92 L440.57 858.45 L439.79 858.98 L439.02 859.51 L438.23 860.02 L437.45 860.53 L436.66 861.04 L435.86 861.54 L435.06 862.04 L434.26 862.52 L433.45 863.01 L432.64 863.49 L431.83 863.96 L431.02 864.43 L430.21 864.89 L429.40 865.35 L428.59 865.80 L427.77 866.25 L426.95 866.69 L426.12 867.13 L425.30 867.57 L424.47 867.99 L423.63 868.42 L422.80 868.84 L421.96 869.26 L421.12 869.67 L420.28 870.07 L419.44 870.48 L418.59 870.88 L417.74 871.27 L416.89 871.66 L416.04 872.05 L415.19 872.43 L414.33 872.81 L413.47 873.18 L412.61 873.55 L411.75 873.91 L410.89 874.27 L410.02 874.63 L409.15 874.98 L408.28 875.33 L407.41 875.67 L406.54 876.01 L405.66 876.35 L404.79 876.68 L403.91 877.01 L403.03 877.33 L402.15 877.65 L401.26 877.96 L400.38 878.28 L399.49 878.58 L398.60 878.88 L397.71 879.18 L396.82 879.48 L395.93 879.77 L395.04 880.05 L394.14 880.34 L393.24 880.61 L392.35 880.89 L391.45 881.16 L390.55 881.42 L389.64 881.69 L388.74 881.94 L387.84 882.20 L386.93 882.45 L386.02 882.70 L385.11 882.94 L384.20 883.18 L383.29 883.41 L382.38 883.65 L381.47 883.87 L380.55 884.10 L379.64 884.32 L378.73 884.54 L377.81 884.75 L376.89 884.96 L375.97 885.16 L375.05 885.36 L374.13 885.56 L373.21 885.76 L372.29 885.95 L371.36 886.14 L370.44 886.33 L369.51 886.52 L368.58 886.70 L367.66 886.88 L366.73 887.06 L365.80 887.23 L364.87 887.40 L363.94 887.57 L363.01 887.74 L362.08 887.91 L361.15 888.07 L360.22 888.23 L359.29 888.39 L358.35 888.55 L357.42 888.70 L356.49 888.85 L355.55 889.00 L354.62 889.15 L353.68 889.30 L352.75 889.44 L351.81 889.59 L350.88 889.73 L349.94 889.87 L349.01 890.01 L348.07 890.15 L347.13 890.28 L346.20 890.42 L345.26 890.55 L344.32 890.68 L343.39 890.81 L342.45 890.94 L341.51 891.07 L340.58 891.20 L339.64 891.32 L338.70 891.45 L337.76 891.57 L336.83 891.69 L335.89 891.81 L334.95 891.93 L334.02 892.05 L333.08 892.17 L332.14 892.29 L331.20 892.40 L330.27 892.52 L329.33 892.63 L328.39 892.74 L327.46 892.85 L326.52 892.96 L325.58 893.07 L324.64 893.18 L323.71 893.28 L322.77 893.39 L321.83 893.49 L320.89 893.59 L319.95 893.70 L319.02 893.80 L318.08 893.90 L317.14 894.00 L316.20 894.09 L315.27 894.19 L314.33 894.29 L313.39 894.38 L312.45 894.48 L311.51 894.57 L310.58 894.66 L309.64 894.75 L308.70 894.84 L307.76 894.93 L306.82 895.02 L305.88 895.11 L304.95 895.20 L304.01 895.28 L303.07 895.37 L302.13 895.45 L301.19 895.54 L300.25 895.62 L299.31 895.71 L298.37 895.80 L297.43 895.88 L296.49 895.97 L295.55 896.05 L294.61 896.14 L293.67 896.22 L292.73 896.30 L291.80 896.39 L290.86 896.47 L289.92 896.55 L288.98 896.63 L288.04 896.71 L287.10 896.79 L286.16 896.86 L285.22 896.94 L284.28 897.02 L283.34 897.10 L282.40 897.17 L281.46 897.25 L280.52 897.32 L279.59 897.40 L278.65 897.47 L277.71 897.54 L276.77 897.61 L275.83 897.69 L274.89 897.76 L273.95 897.83 L273.01 897.90 L272.07 897.97 L271.13 898.04 L270.19 898.11 L269.25 898.18 L268.31 898.24 L267.37 898.31 L266.43 898.38 L265.49 898.45 L264.55 898.51 L263.61 898.58 L262.67 898.64 L261.73 898.71 L260.79 898.77 L259.85 898.84 L258.91 898.90 L257.97 898.96 L257.03 899.03 L256.09 899.09 L255.15 899.15 L254.21 899.21 L253.27 899.27 L252.33 899.33 L251.38 899.39 L250.44 899.45 L249.50 899.51 L248.56 899.57 L247.62 899.63 L246.68 899.69 L245.74 899.75 L244.80 899.81 L243.86 899.86 L242.92 899.92 L241.97 899.98 L241.03 900.04 L240.09 900.10 L239.15 900.16 L238.21 900.21 L237.27 900.27 L236.33 900.33 L235.38 900.39 L234.44 900.45 L233.50 900.50 L232.56 900.56 L231.62 900.62 L230.68 900.68 L229.74 900.73 L228.79 900.79 L227.85 900.85 L226.91 900.91 L225.97 900.96 L225.03 901.02 L224.08 901.08 L223.14 901.14 L222.20 901.20 L221.26 901.25 L220.32 901.31 L219.37 901.37 L218.43 901.43 L217.49 901.49 L216.55 901.55 L215.60 901.61 L214.66 901.67 L213.72 901.72 L212.78 901.78 L211.83 901.84 L210.89 901.90 L209.95 901.96 L209.01 902.02 L208.06 902.09 L207.12 902.15 L206.18 902.21 L205.23 902.27 L204.29 902.33 L203.35 902.39 L202.41 902.46 L201.46 902.52 L200.52 902.58 L199.58 902.65 L198.63 902.71 L197.69 902.77 L196.75 902.84 L195.80 902.90 L194.86 902.97 L193.92 903.03 L192.97 903.10 L192.03 903.17 L191.09 903.23 L190.14 903.30 L189.20 903.37 L188.25 903.44 L187.31 903.51 L186.37 903.58 L185.42 903.65 L184.48 903.72 L183.54 903.79 L182.59 903.86 L181.65 903.93 L180.70 904.01 L179.76 904.08 L178.81 904.15 L177.87 904.23 L176.93 904.30 L175.98 904.38 L175.04 904.46 L174.09 904.53 L173.15 904.61 L172.20 904.69 L171.26 904.77 L170.32 904.85 L169.37 904.93 L168.43 905.01 L167.48 905.09 L166.54 905.17 L165.59 905.26 L164.65 905.34 L163.70 905.43 L162.76 905.51 L161.81 905.60 L160.87 905.69 L159.92 905.77 L158.98 905.86 L158.03 905.95 L157.09 906.04 L156.14 906.13 L155.20 906.23 L154.25 906.32 L153.31 906.41 L152.36 906.51 L151.41 906.60 L150.47 906.70 L149.52 906.80 L148.58 906.90 L147.63 907.00 L146.69 907.10 L145.74 907.20 L144.80 907.30 L143.85 907.40 L142.90 907.51 L141.96 907.61 L141.01 907.72 L140.07 907.83 L139.12 907.94 L138.17 908.04 L137.33 908.15 L136.53 908.13Z" fill="#d62728" stroke="none"/>
<path d="M483.6 966.0 V516.5" stroke="#000" stroke-opacity="0.75" stroke-width="2.8" stroke-dasharray="10.65 4.68"/>
<path d="M136.50 909.65 L137.40 909.66 L138.35 909.55 L139.29 909.45 L140.24 909.34 L141.18 909.23 L142.13 909.12 L143.07 909.02 L144.02 908.91 L144.96 908.81 L145.90 908.71 L146.85 908.61 L147.79 908.51 L148.74 908.41 L149.68 908.31 L150.62 908.21 L151.57 908.12 L152.51 908.02 L153.46 907.93 L154.40 907.83 L155.34 907.74 L156.29 907.65 L157.23 907.56 L158.18 907.47 L159.12 907.38 L160.06 907.29 L161.01 907.20 L161.95 907.11 L162.90 907.03 L163.84 906.94 L164.78 906.86 L165.73 906.77 L166.67 906.69 L167.61 906.61 L168.56 906.52 L169.50 906.44 L170.44 906.36 L171.39 906.28 L172.33 906.20 L173.27 906.13 L174.22 906.05 L175.16 905.97 L176.10 905.89 L177.05 905.82 L177.99 905.74 L178.93 905.67 L179.88 905.60 L180.82 905.52 L181.76 905.45 L182.71 905.38 L183.65 905.31 L184.59 905.23 L185.54 905.16 L186.48 905.09 L187.42 905.02 L188.36 904.96 L189.31 904.89 L190.25 904.82 L191.19 904.75 L192.14 904.68 L193.08 904.62 L194.02 904.55 L194.96 904.49 L195.91 904.42 L196.85 904.35 L197.79 904.29 L198.74 904.23 L199.68 904.16 L200.62 904.10 L201.56 904.04 L202.51 903.97 L203.45 903.91 L204.39 903.85 L205.33 903.79 L206.28 903.72 L207.22 903.66 L208.16 903.60 L209.10 903.54 L210.05 903.48 L210.99 903.42 L211.93 903.36 L212.87 903.30 L213.81 903.24 L214.76 903.18 L215.70 903.12 L216.64 903.06 L217.58 903.01 L218.52 902.95 L219.47 902.89 L220.41 902.83 L221.35 902.77 L222.29 902.71 L223.23 902.65 L224.18 902.60 L225.12 902.54 L226.06 902.48 L227.00 902.42 L227.94 902.37 L228.89 902.31 L229.83 902.25 L230.77 902.19 L231.71 902.14 L232.65 902.08 L233.59 902.02 L234.54 901.96 L235.48 901.90 L236.42 901.85 L237.36 901.79 L238.30 901.73 L239.24 901.67 L240.19 901.62 L241.13 901.56 L242.07 901.50 L243.01 901.44 L243.95 901.38 L244.89 901.32 L245.83 901.26 L246.78 901.21 L247.72 901.15 L248.66 901.09 L249.60 901.03 L250.54 900.97 L251.48 900.91 L252.42 900.85 L253.36 900.79 L254.30 900.73 L255.25 900.66 L256.19 900.60 L257.13 900.54 L258.07 900.48 L259.01 900.42 L259.95 900.36 L260.89 900.29 L261.83 900.23 L262.77 900.16 L263.71 900.09 L264.65 900.03 L265.60 899.96 L266.54 899.90 L267.48 899.83 L268.42 899.76 L269.36 899.69 L270.30 899.62 L271.24 899.55 L272.18 899.48 L273.12 899.41 L274.06 899.34 L275.00 899.27 L275.94 899.20 L276.88 899.13 L277.82 899.06 L278.76 898.98 L279.70 898.91 L280.64 898.84 L281.58 898.76 L282.53 898.69 L283.47 898.61 L284.41 898.53 L285.35 898.46 L286.29 898.38 L287.23 898.30 L288.17 898.22 L289.11 898.14 L290.05 898.06 L290.99 897.98 L291.93 897.90 L292.87 897.82 L293.81 897.73 L294.75 897.65 L295.69 897.57 L296.63 897.48 L297.57 897.40 L298.51 897.31 L299.45 897.22 L300.39 897.14 L301.33 897.05 L302.27 896.97 L303.21 896.88 L304.15 896.80 L305.09 896.71 L306.03 896.62 L306.97 896.54 L307.90 896.45 L308.84 896.36 L309.78 896.27 L310.72 896.18 L311.66 896.08 L312.60 895.99 L313.54 895.89 L314.48 895.80 L315.42 895.70 L316.36 895.61 L317.30 895.51 L318.24 895.41 L319.18 895.31 L320.12 895.21 L321.06 895.10 L322.00 895.00 L322.94 894.90 L323.88 894.79 L324.81 894.69 L325.75 894.58 L326.69 894.47 L327.63 894.36 L328.57 894.25 L329.51 894.14 L330.45 894.02 L331.39 893.91 L332.33 893.80 L333.27 893.68 L334.21 893.56 L335.15 893.44 L336.08 893.32 L337.02 893.20 L337.96 893.08 L338.90 892.96 L339.84 892.83 L340.78 892.70 L341.72 892.58 L342.66 892.45 L343.59 892.32 L344.53 892.19 L345.47 892.06 L346.41 891.92 L347.35 891.79 L348.29 891.65 L349.23 891.51 L350.17 891.37 L351.10 891.23 L352.04 891.09 L352.98 890.95 L353.92 890.80 L354.86 890.65 L355.79 890.50 L356.73 890.35 L357.67 890.20 L358.60 890.04 L359.54 889.89 L360.48 889.73 L361.41 889.57 L362.35 889.40 L363.28 889.24 L364.21 889.07 L365.15 888.90 L366.08 888.73 L367.01 888.55 L367.95 888.37 L368.88 888.19 L369.81 888.01 L370.74 887.82 L371.67 887.63 L372.59 887.44 L373.52 887.25 L374.45 887.05 L375.38 886.85 L376.30 886.65 L377.23 886.44 L378.15 886.23 L379.07 886.02 L379.99 885.80 L380.91 885.58 L381.83 885.35 L382.75 885.12 L383.67 884.89 L384.59 884.65 L385.50 884.41 L386.42 884.16 L387.33 883.91 L388.24 883.66 L389.15 883.41 L390.06 883.15 L390.97 882.88 L391.88 882.61 L392.79 882.34 L393.69 882.07 L394.60 881.79 L395.50 881.50 L396.40 881.21 L397.30 880.92 L398.19 880.62 L399.09 880.32 L399.99 880.02 L400.88 879.71 L401.77 879.40 L402.66 879.08 L403.55 878.76 L404.44 878.43 L405.32 878.10 L406.20 877.77 L407.09 877.43 L407.97 877.09 L408.84 876.74 L409.72 876.39 L410.60 876.04 L411.47 875.68 L412.34 875.31 L413.21 874.95 L414.08 874.57 L414.94 874.20 L415.80 873.82 L416.67 873.43 L417.52 873.04 L418.38 872.65 L419.24 872.25 L420.09 871.85 L420.94 871.44 L421.79 871.03 L422.64 870.62 L423.48 870.20 L424.32 869.78 L425.16 869.35 L426.00 868.91 L426.83 868.48 L427.66 868.03 L428.49 867.59 L429.32 867.14 L430.14 866.68 L430.96 866.22 L431.78 865.75 L432.59 865.28 L433.41 864.80 L434.23 864.31 L435.04 863.83 L435.86 863.33 L436.67 862.83 L437.47 862.32 L438.27 861.81 L439.07 861.29 L439.86 860.77 L440.65 860.24 L441.43 859.70 L442.21 859.16 L442.98 858.61 L443.75 858.05 L444.52 857.49 L445.27 856.92 L446.03 856.41 L446.77 855.88 L447.51 855.35 L448.25 854.81 L448.98 854.26 L449.70 853.71 L450.42 853.15 L451.13 852.58 L451.83 852.00 L452.53 851.41 L453.22 850.82 L453.91 850.21 L454.59 849.60 L455.26 848.98 L455.92 848.35 L456.58 847.71 L457.23 847.08 L457.87 846.43 L458.51 845.78 L459.14 845.12 L459.74 844.45 L460.33 843.77 L460.91 843.08 L461.49 842.39 L462.06 841.69 L462.62 840.98 L463.17 840.26 L463.71 839.53 L464.24 838.80 L464.76 838.06 L465.28 837.32 L465.78 836.56 L466.28 835.80 L466.76 835.00 L467.24 834.11 L467.70 833.22 L468.16 832.32 L468.61 831.42 L469.04 830.51 L469.47 829.61 L469.88 828.69 L470.29 827.78 L470.68 826.86 L471.07 825.94 L471.44 825.02 L471.80 824.10 L472.15 823.17 L472.50 822.24 L472.83 821.31 L473.15 820.37 L473.47 819.43 L473.77 818.47 L474.07 817.49 L474.35 816.51 L474.63 815.52 L474.90 814.54 L475.16 813.55 L475.42 812.57 L475.66 811.58 L475.90 810.59 L476.13 809.61 L476.36 808.62 L476.58 807.63 L476.79 806.65 L476.99 805.66 L477.19 804.67 L477.38 803.68 L477.57 802.70 L477.75 801.71 L477.93 800.72 L478.10 799.74 L478.27 798.75 L478.43 797.77 L478.59 796.78 L478.74 795.80 L478.89 794.81 L479.04 793.83 L479.18 792.85 L479.32 791.87 L479.46 790.88 L479.59 789.90 L479.72 788.92 L479.85 787.95 L479.98 786.97 L480.10 785.99 L480.22 785.02 L480.34 784.04 L480.45 783.07 L480.56 782.09 L480.67 781.14 L480.78 780.20 L480.89 779.26 L480.99 778.31 L481.09 777.37 L481.19 776.43 L481.29 775.49 L481.38 774.55 L481.47 773.61 L481.57 772.67 L481.65 771.73 L481.74 770.78 L481.83 769.84 L481.91 768.90 L481.99 767.96 L482.07 767.02 L482.15 766.08 L482.23 765.14 L482.30 764.19 L482.37 763.25 L482.45 762.31 L482.52 761.37 L482.58 760.43 L482.64 759.49 L482.69 758.55 L482.74 757.61 L482.78 756.67 L482.83 755.72 L482.87 754.78 L482.91 753.84 L482.95 752.90 L482.99 751.96 L483.03 751.02 L483.07 750.08 L483.10 749.14 L483.14 748.19 L483.18 747.25 L483.21 746.31 L483.25 745.37 L483.28 744.43 L483.32 743.49 L483.36 742.55 L483.40 741.60 L483.44 740.66 L483.48 739.72 L483.52 738.78 L483.56 737.84 L483.60 736.90 L483.64 735.96 L483.67 735.01 L483.71 734.07 L483.75 733.13 L483.79 732.19 L483.83 731.25 L483.87 730.31 L483.91 729.37 L483.95 728.42 L483.99 727.48 L484.03 726.54 L484.07 725.60 L484.11 724.66 L484.15 723.72 L484.19 722.78 L484.24 721.84 L484.28 720.90 L484.33 719.95 L484.37 719.01 L484.41 718.07 L484.45 717.13 L484.49 716.19 L484.53 715.25 L484.57 714.31 L484.62 713.37 L484.67 712.43 L484.71 711.49 L484.76 710.55 L484.81 709.61 L484.87 708.67 L484.92 707.73 L484.98 706.79 L485.03 705.85 L485.09 704.91 L485.15 703.97 L485.22 703.03 L485.28 702.09 L485.35 701.16 L485.42 700.22 L485.49 699.28 L485.56 698.34 L485.63 697.40 L485.71 696.46 L485.79 695.52 L485.87 694.59 L485.96 693.65 L486.04 692.71 L486.13 691.77 L486.23 690.84 L486.32 689.90 L486.42 688.96 L486.52 688.02 L486.62 687.09 L486.73 686.15 L486.83 685.22 L486.95 684.28 L487.06 683.34 L487.18 682.41 L487.30 681.47 L487.42 680.54 L487.55 679.60 L487.68 678.67 L487.82 677.73 L487.95 676.80 L488.09 675.86 L488.24 674.93 L488.39 673.99 L488.54 673.06 L488.69 672.13 L488.85 671.19 L489.02 670.26 L489.18 669.33 L489.35 668.39 L489.53 667.46 L489.71 666.53 L489.89 665.60 L490.08 664.67 L490.27 663.74 L490.46 662.80 L490.66 661.87 L490.87 660.94 L491.08 660.01 L491.32 659.08 L491.58 658.15 L491.83 657.22 L492.09 656.30 L492.36 655.37 L492.63 654.44 L492.91 653.52 L493.20 652.59 L493.48 651.67 L493.78 650.75 L494.08 649.84 L494.39 648.92 L494.70 648.01 L495.02 647.10 L495.35 646.20 L495.68 645.29 L496.02 644.40 L496.37 643.50 L496.73 642.61 L497.09 641.72 L497.46 640.84 L497.84 639.96 L498.24 639.09 L498.64 638.22 L499.06 637.36 L499.48 636.50 L499.91 635.65 L500.35 634.81 L500.79 633.97 L501.25 633.14 L501.72 632.31 L502.19 631.49 L502.68 630.68 L503.18 629.88 L503.68 629.08 L504.20 628.29 L504.72 627.51 L505.26 626.73 L505.81 625.97 L506.36 625.21 L506.93 624.46 L507.52 623.72 L508.12 622.99 L508.73 622.27 L509.35 621.55 L509.98 620.85 L510.63 620.15 L511.28 619.46 L511.94 618.78 L512.60 618.11 L513.28 617.44 L513.97 616.79 L514.66 616.14 L515.36 615.52 L516.07 614.94 L516.76 614.37 L517.46 613.80 L518.17 613.24 L518.88 612.70 L519.60 612.15 L520.33 611.62 L521.07 611.10 L521.81 610.58 L522.56 610.07 L523.32 609.57 L524.08 609.07 L524.85 608.59 L525.62 608.09 L526.40 607.59 L527.19 607.10 L527.98 606.62 L528.77 606.14 L529.57 605.68 L530.38 605.22 L531.19 604.76 L532.00 604.31 L532.82 603.87 L533.64 603.44 L534.47 603.01 L535.30 602.59 L536.13 602.17 L536.97 601.77 L537.81 601.36 L538.65 600.97 L539.49 600.58 L540.34 600.19 L541.19 599.79 L542.04 599.41 L542.89 599.02 L543.75 598.65 L544.61 598.28 L545.47 597.92 L546.33 597.56 L547.19 597.20 L548.06 596.86 L548.93 596.51 L549.80 596.18 L550.67 595.85 L551.55 595.52 L552.42 595.20 L553.30 594.88 L554.18 594.57 L555.06 594.27 L555.95 593.97 L556.83 593.68 L557.72 593.39 L558.61 593.11 L559.50 592.84 L560.39 592.57 L561.29 592.30 L562.18 592.04 L563.08 591.78 L563.98 591.53 L564.88 591.28 L565.78 591.04 L566.68 590.80 L567.59 590.56 L568.50 590.33 L569.40 590.08 L570.31 589.81 L571.22 589.55 L572.14 589.29 L573.05 589.03 L573.96 588.77 L574.88 588.52 L575.80 588.27 L576.72 588.03 L577.64 587.79 L578.56 587.56 L579.48 587.32 L580.40 587.09 L581.33 586.87 L582.25 586.65 L583.18 586.43 L584.10 586.21 L585.03 586.00 L585.96 585.79 L586.89 585.59 L587.82 585.38 L588.75 585.18 L589.69 584.99 L590.62 584.79 L591.55 584.60 L592.49 584.41 L593.42 584.23 L594.36 584.04 L595.30 583.86 L596.24 583.69 L597.17 583.51 L598.11 583.34 L599.05 583.17 L599.99 583.01 L600.93 582.86 L601.87 582.70 L602.82 582.55 L603.76 582.40 L604.70 582.25 L605.64 582.10 L606.59 581.95 L607.53 581.81 L608.47 581.67 L609.42 581.53 L610.36 581.39 L611.31 581.25 L612.25 581.11 L613.20 580.98 L614.14 580.85 L615.09 580.72 L616.03 580.59 L616.98 580.46 L617.92 580.33 L618.87 580.21 L619.82 580.08 L620.76 579.96 L621.71 579.83 L622.65 579.71 L623.60 579.59 L624.54 579.47 L625.49 579.35 L626.43 579.23 L627.38 579.11 L628.32 578.98 L629.26 578.85 L630.21 578.73 L631.15 578.60 L632.09 578.47 L633.04 578.35 L633.98 578.22 L634.92 578.10 L635.87 577.98 L636.81 577.85 L637.75 577.73 L638.69 577.61 L639.63 577.49 L640.58 577.37 L641.52 577.25 L642.46 577.14 L643.40 577.04 L644.34 576.93 L645.28 576.82 L646.22 576.71 L647.16 576.61 L648.10 576.50 L649.04 576.40 L649.98 576.29 L650.92 576.19 L651.86 576.09 L652.80 575.99 L653.74 575.88 L654.68 575.78 L655.62 575.68 L656.56 575.58 L657.50 575.48 L658.44 575.39 L659.37 575.29 L660.31 575.19 L661.25 575.11 L662.19 575.02 L663.13 574.93 L664.07 574.85 L665.00 574.76 L665.94 574.68 L666.88 574.60 L667.82 574.52 L668.76 574.43 L669.69 574.35 L670.63 574.27 L671.57 574.19 L672.51 574.11 L673.44 574.03 L674.38 573.95 L675.32 573.88 L676.26 573.80 L677.19 573.72 L678.13 573.65 L679.07 573.57 L680.01 573.50 L680.94 573.42 L681.88 573.35 L682.82 573.28 L683.76 573.21 L684.69 573.13 L685.63 573.06 L686.57 572.99 L687.51 572.92 L688.44 572.85 L689.38 572.79 L690.32 572.72 L691.26 572.65 L692.19 572.58 L693.13 572.52 L694.07 572.45 L695.01 572.39 L695.94 572.32 L696.88 572.26 L697.82 572.20 L698.76 572.13 L699.70 572.07 L700.63 572.01 L701.57 571.95 L702.51 571.89 L703.45 571.83 L704.39 571.77 L705.32 571.71 L706.26 571.66 L707.20 571.60 L708.14 571.54 L709.08 571.49 L710.02 571.43 L710.96 571.38 L711.90 571.33 L712.83 571.27 L713.77 571.22 L714.71 571.17 L715.65 571.12 L716.59 571.07 L717.53 571.02 L718.47 570.97 L719.41 570.92 L720.35 570.87 L721.29 570.82 L722.23 570.77 L723.17 570.73 L724.11 570.68 L725.06 570.64 L726.00 570.59 L726.94 570.55 L727.88 570.51 L728.82 570.46 L729.76 570.42 L730.71 570.38 L731.65 570.34 L732.59 570.30 L733.53 570.26 L734.48 570.22 L735.42 570.18 L736.36 570.14 L737.31 570.11 L738.25 570.07 L739.19 570.03 L740.14 570.00 L741.08 569.95 L742.03 569.90 L742.97 569.85 L743.92 569.80 L744.86 569.75 L745.81 569.70 L746.75 569.66 L747.70 569.61 L748.65 569.56 L749.59 569.52 L750.54 569.47 L751.49 569.43 L752.43 569.39 L753.38 569.34 L754.33 569.30 L755.28 569.26 L756.23 569.22 L757.18 569.18 L758.13 569.14 L759.07 569.10 L760.02 569.06 L760.97 569.03 L761.93 568.99 L762.88 568.95 L763.83 568.92 L764.78 568.88 L765.73 568.85 L766.68 568.81 L767.64 568.78 L768.59 568.75 L769.54 568.72 L770.49 568.68 L771.45 568.64 L772.40 568.60 L773.36 568.57 L774.31 568.53 L775.27 568.49 L776.22 568.46 L777.18 568.42 L778.14 568.39 L779.09 568.35 L780.05 568.32 L781.01 568.29 L781.90 568.20" stroke="#000" stroke-opacity="0.3" stroke-width="11.0"/>
</g>
<g stroke="#000" fill="none"><path d="M136.50 471.50 v4.86" stroke-width="1.11"/><path d="M459.20 471.50 v4.86" stroke-width="1.11"/><path d="M781.90 471.50 v4.86" stroke-width="1.11"/><path d="M362.06 471.50 v2.78" stroke-width="0.83"/><path d="M305.23 471.50 v2.78" stroke-width="0.83"/><path d="M264.92 471.50 v2.78" stroke-width="0.83"/><path d="M233.64 471.50 v2.78" stroke-width="0.83"/><path d="M208.09 471.50 v2.78" stroke-width="0.83"/><path d="M186.49 471.50 v2.78" stroke-width="0.83"/><path d="M167.77 471.50 v2.78" stroke-width="0.83"/><path d="M151.27 471.50 v2.78" stroke-width="0.83"/><path d="M684.76 471.50 v2.78" stroke-width="0.83"/><path d="M627.93 471.50 v2.78" stroke-width="0.83"/><path d="M587.62 471.50 v2.78" stroke-width="0.83"/><path d="M556.34 471.50 v2.78" stroke-width="0.83"/><path d="M530.79 471.50 v2.78" stroke-width="0.83"/><path d="M509.19 471.50 v2.78" stroke-width="0.83"/><path d="M490.47 471.50 v2.78" stroke-width="0.83"/><path d="M473.97 471.50 v2.78" stroke-width="0.83"/><path d="M136.50 966.00 v4.86" stroke-width="1.11"/><path d="M459.20 966.00 v4.86" stroke-width="1.11"/><path d="M781.90 966.00 v4.86" stroke-width="1.11"/><path d="M362.06 966.00 v2.78" stroke-width="0.83"/><path d="M305.23 966.00 v2.78" stroke-width="0.83"/><path d="M264.92 966.00 v2.78" stroke-width="0.83"/><path d="M233.64 966.00 v2.78" stroke-width="0.83"/><path d="M208.09 966.00 v2.78" stroke-width="0.83"/><path d="M186.49 966.00 v2.78" stroke-width="0.83"/><path d="M167.77 966.00 v2.78" stroke-width="0.83"/><path d="M151.27 966.00 v2.78" stroke-width="0.83"/><path d="M684.76 966.00 v2.78" stroke-width="0.83"/><path d="M627.93 966.00 v2.78" stroke-width="0.83"/><path d="M587.62 966.00 v2.78" stroke-width="0.83"/><path d="M556.34 966.00 v2.78" stroke-width="0.83"/><path d="M530.79 966.00 v2.78" stroke-width="0.83"/><path d="M509.19 966.00 v2.78" stroke-width="0.83"/><path d="M490.47 966.00 v2.78" stroke-width="0.83"/><path d="M473.97 966.00 v2.78" stroke-width="0.83"/><path d="M136.50 22.50 h-4.86" stroke-width="1.11"/><path d="M136.50 97.33 h-4.86" stroke-width="1.11"/><path d="M136.50 172.17 h-4.86" stroke-width="1.11"/><path d="M136.50 247.00 h-4.86" stroke-width="1.11"/><path d="M136.50 321.83 h-4.86" stroke-width="1.11"/><path d="M136.50 396.67 h-4.86" stroke-width="1.11"/><path d="M136.50 471.50 h-4.86" stroke-width="1.11"/><path d="M136.50 516.50 h-4.86" stroke-width="1.11"/><path d="M136.50 591.42 h-4.86" stroke-width="1.11"/><path d="M136.50 666.33 h-4.86" stroke-width="1.11"/><path d="M136.50 741.25 h-4.86" stroke-width="1.11"/><path d="M136.50 816.17 h-4.86" stroke-width="1.11"/><path d="M136.50 891.08 h-4.86" stroke-width="1.11"/><path d="M136.50 966.00 h-4.86" stroke-width="1.11"/></g>
<rect x="136.50" y="22.50" width="645.40" height="449.00" fill="none" stroke="#000" stroke-width="1.11"/>
<rect x="136.50" y="516.50" width="645.40" height="449.50" fill="none" stroke="#000" stroke-width="1.11"/>
<text transform="translate(0 34.33) scale(0.970 1)" x="72.70 93.81" y="0" font-size="33.91">10</text>
<text transform="translate(0 22.70) scale(0.979 1)" x="113.83" y="0" font-size="23.15">3</text>
<text transform="translate(0 109.16) scale(0.970 1)" x="72.70 93.81" y="0" font-size="33.91">10</text>
<text transform="translate(0 97.53) scale(0.982 1)" x="113.20" y="0" font-size="23.15">2</text>
<text transform="translate(0 183.68) scale(0.970 1)" x="72.70 93.81" y="0" font-size="33.91">10</text>
<text transform="translate(0 172.06) scale(0.974 1)" x="114.39" y="0" font-size="23.15">1</text>
<text transform="translate(0 258.83) scale(0.970 1)" x="72.70 93.81" y="0" font-size="33.91">10</text>
<text transform="translate(0 247.20) scale(1.020 1)" x="109.00" y="0" font-size="23.15">0</text>
<text transform="translate(0 333.35) scale(0.970 1)" x="53.28 74.38" y="0" font-size="33.91">10</text>
<text transform="translate(93.00 321.44) scale(1.210 0.859)" font-size="23.15">−</text>
<text transform="translate(0 321.73) scale(0.974 1)" x="114.27" y="0" font-size="23.15">1</text>
<text transform="translate(0 408.50) scale(0.970 1)" x="53.28 74.38" y="0" font-size="33.91">10</text>
<text transform="translate(93.00 396.58) scale(1.210 0.859)" font-size="23.15">−</text>
<text transform="translate(0 396.86) scale(0.982 1)" x="113.08" y="0" font-size="23.15">2</text>
<text transform="translate(0 483.33) scale(0.970 1)" x="53.28 74.38" y="0" font-size="33.91">10</text>
<text transform="translate(93.00 471.41) scale(1.210 0.859)" font-size="23.15">−</text>
<text transform="translate(0 471.70) scale(0.979 1)" x="113.71" y="0" font-size="23.15">3</text>
<text transform="translate(0 528.01) scale(0.970 1)" x="72.70 93.81" y="0" font-size="33.91">10</text>
<text transform="translate(0 516.39) scale(1.020 1)" x="109.07" y="0" font-size="23.15">4</text>
<text transform="translate(0 603.25) scale(0.970 1)" x="72.70 93.81" y="0" font-size="33.91">10</text>
<text transform="translate(0 591.61) scale(0.979 1)" x="113.83" y="0" font-size="23.15">3</text>
<text transform="translate(0 678.16) scale(0.970 1)" x="72.70 93.81" y="0" font-size="33.91">10</text>
<text transform="translate(0 666.53) scale(0.982 1)" x="113.20" y="0" font-size="23.15">2</text>
<text transform="translate(0 752.76) scale(0.970 1)" x="72.70 93.81" y="0" font-size="33.91">10</text>
<text transform="translate(0 741.14) scale(0.974 1)" x="114.39" y="0" font-size="23.15">1</text>
<text transform="translate(0 828.00) scale(0.970 1)" x="72.70 93.81" y="0" font-size="33.91">10</text>
<text transform="translate(0 816.36) scale(1.020 1)" x="109.00" y="0" font-size="23.15">0</text>
<text transform="translate(0 902.60) scale(0.970 1)" x="53.28 74.38" y="0" font-size="33.91">10</text>
<text transform="translate(93.00 890.69) scale(1.210 0.859)" font-size="23.15">−</text>
<text transform="translate(0 890.98) scale(0.974 1)" x="114.27" y="0" font-size="23.15">1</text>
<text transform="translate(0 977.83) scale(0.970 1)" x="53.28 74.38" y="0" font-size="33.91">10</text>
<text transform="translate(93.00 965.91) scale(1.210 0.859)" font-size="23.15">−</text>
<text transform="translate(0 966.20) scale(0.982 1)" x="113.08" y="0" font-size="23.15">2</text>
<text transform="translate(0 1000.16) scale(0.970 1)" x="102.69 123.80" y="0" font-size="33.91">10</text>
<text transform="translate(140.95 988.25) scale(1.210 0.859)" font-size="23.15">−</text>
<text transform="translate(0 988.54) scale(0.974 1)" x="163.51" y="0" font-size="23.15">1</text>
<text transform="translate(0 1000.48) scale(0.970 1)" x="435.24 456.35" y="0" font-size="33.91">10</text>
<text transform="translate(463.65 988.56) scale(1.210 0.859)" font-size="23.15">−</text>
<text transform="translate(0 988.85) scale(0.982 1)" x="490.57" y="0" font-size="23.15">2</text>
<text transform="translate(0 1000.48) scale(0.970 1)" x="767.80 788.90" y="0" font-size="33.91">10</text>
<text transform="translate(786.35 988.56) scale(1.210 0.859)" font-size="23.15">−</text>
<text transform="translate(0 988.85) scale(0.979 1)" x="821.59" y="0" font-size="23.15">3</text>
<text transform="translate(0 1036.83) scale(0.970 1)" x="407.71" y="0" font-size="33.91" font-style="italic">M</text>
<text transform="translate(0 1042.15) scale(1.050 1)" x="403.56" y="0" font-size="23.15">d</text>
<text transform="translate(449.63 1034.56) scale(0.922 0.903)" font-size="33.91">[</text>
<text transform="translate(0 1036.83) scale(0.970 1)" x="475.20" y="0" font-size="33.91" font-style="italic">M</text>
<polygon points="498.97,1026.55 501.00,1032.78 507.55,1032.78 502.25,1036.64 504.28,1042.87 498.97,1039.02 493.67,1042.87 495.69,1036.64 490.39,1032.78 496.95,1032.78" fill="#000"/>
<text transform="translate(512.93 1034.56) scale(0.922 0.903)" font-size="33.91">]</text>
<g transform="translate(35.20 298.50) rotate(-90)"><text transform="translate(1.78 0.19) scale(0.819 0.966)" font-size="33.91">|</text>
<text transform="translate(0 -0.32) scale(0.970 1)" x="9.52" y="0" font-size="33.91" font-style="italic">S</text>
<text transform="translate(0 5.00) scale(1.053 1)" x="29.91" y="0" font-size="23.15">p</text>
<text transform="translate(46.32 2.13) scale(1.101 1.055)" font-size="33.91">/</text>
<text transform="translate(0 -0.32) scale(0.970 1)" x="57.06" y="0" font-size="33.91" font-style="italic">S</text>
<text transform="translate(0 5.00) scale(1.050 1)" x="73.70" y="0" font-size="23.15">d</text>
<text transform="translate(94.01 0.19) scale(0.819 0.966)" font-size="33.91">|</text></g>
<g transform="translate(35.20 792.90) rotate(-90)"><text transform="translate(1.78 0.19) scale(0.819 0.966)" font-size="33.91">|</text>
<text transform="translate(0 -0.32) scale(0.970 1)" x="9.92" y="0" font-size="33.91" font-style="italic">E</text>
<text transform="translate(0 5.00) scale(1.053 1)" x="29.82" y="0" font-size="23.15">p</text>
<text transform="translate(46.22 2.13) scale(1.101 1.055)" font-size="33.91">/</text>
<text transform="translate(0 -0.32) scale(0.970 1)" x="57.37" y="0" font-size="33.91" font-style="italic">E</text>
<text transform="translate(0 5.00) scale(1.050 1)" x="73.52" y="0" font-size="23.15">d</text>
<text transform="translate(93.83 0.19) scale(0.819 0.966)" font-size="33.91">|</text></g>
<rect x="152.2" y="38.3" width="278.2" height="259.8" rx="4.4" fill="#fff" fill-opacity="0.8" stroke="#ccc" stroke-width="1.1"/>
<path d="M163.2 68.20 H230" stroke="#1f77b4" stroke-width="2.85" fill="none"/>
<text transform="translate(255.55 78.35) scale(1.180 0.951)" font-size="33.91" font-style="italic" style="stroke-width:0">τ</text>
<text transform="translate(0 84.20) scale(1.050 1)" x="260.23" y="0" font-size="23.15">d</text>
<text transform="translate(295.90 77.65) scale(1.190 0.802)" font-size="33.91">=</text>
<text transform="translate(0 78.86) scale(0.970 1)" x="338.14 359.24" y="0" font-size="33.91">10</text>
<text transform="translate(0 67.24) scale(1.020 1)" x="361.68" y="0" font-size="23.15">4</text>
<text transform="translate(0 78.86) scale(0.970 1)" x="393.81" y="0" font-size="33.91" font-style="italic">P</text>
<text transform="translate(0 84.20) scale(1.020 1)" x="395.14" y="0" font-size="23.15">0</text>
<path d="M163.2 118.60 H230" stroke="#ff7f0e" stroke-width="2.85" fill="none"/>
<text transform="translate(255.55 128.75) scale(1.180 0.951)" font-size="33.91" font-style="italic" style="stroke-width:0">τ</text>
<text transform="translate(0 134.60) scale(1.050 1)" x="260.23" y="0" font-size="23.15">d</text>
<text transform="translate(295.90 128.05) scale(1.190 0.802)" font-size="33.91">=</text>
<text transform="translate(0 129.26) scale(0.970 1)" x="338.14 359.24" y="0" font-size="33.91">10</text>
<text transform="translate(0 117.64) scale(0.970 1)" x="380.43" y="0" font-size="23.15">5</text>
<text transform="translate(0 129.26) scale(0.970 1)" x="393.81" y="0" font-size="33.91" font-style="italic">P</text>
<text transform="translate(0 134.60) scale(1.020 1)" x="395.14" y="0" font-size="23.15">0</text>
<path d="M163.2 169.00 H230" stroke="#2ca02c" stroke-width="2.85" fill="none"/>
<text transform="translate(255.55 179.46) scale(1.180 0.951)" font-size="33.91" font-style="italic" style="stroke-width:0">τ</text>
<text transform="translate(0 185.30) scale(1.050 1)" x="260.23" y="0" font-size="23.15">d</text>
<text transform="translate(295.90 178.76) scale(1.190 0.802)" font-size="33.91">=</text>
<text transform="translate(0 179.98) scale(0.970 1)" x="338.14 359.24" y="0" font-size="33.91">10</text>
<text transform="translate(0 168.35) scale(1.054 1)" x="349.73" y="0" font-size="23.15">6</text>
<text transform="translate(0 179.98) scale(0.970 1)" x="393.81" y="0" font-size="33.91" font-style="italic">P</text>
<text transform="translate(0 185.30) scale(1.020 1)" x="395.14" y="0" font-size="23.15">0</text>
<path d="M163.2 219.40 H230" stroke="#d62728" stroke-width="2.85" fill="none"/>
<text transform="translate(255.55 229.55) scale(1.180 0.951)" font-size="33.91" font-style="italic" style="stroke-width:0">τ</text>
<text transform="translate(0 235.40) scale(1.050 1)" x="260.23" y="0" font-size="23.15">d</text>
<text transform="translate(295.90 228.85) scale(1.190 0.802)" font-size="33.91">=</text>
<text transform="translate(0 230.06) scale(0.970 1)" x="338.14 359.24" y="0" font-size="33.91">10</text>
<text transform="translate(0 218.44) scale(0.998 1)" x="369.65" y="0" font-size="23.15">7</text>
<text transform="translate(0 230.06) scale(0.970 1)" x="393.81" y="0" font-size="33.91" font-style="italic">P</text>
<text transform="translate(0 235.40) scale(1.020 1)" x="395.14" y="0" font-size="23.15">0</text>
<path d="M158.9 266.9 H234.4" stroke="#000" stroke-opacity="0.3" stroke-width="11.4" fill="none"/>
<text transform="translate(0 278.23) scale(0.970 1)" x="262.25" y="0" font-size="33.91" font-weight="bold">S</text>
<text transform="translate(278.22 285.76) scale(1.210 1.183)" font-size="23.15">+</text>
<text transform="translate(0 278.23) scale(1.024 1)" x="300.31 318.39 339.90 351.29" y="0" font-size="33.91">path</text>
</svg>
</body></html>
